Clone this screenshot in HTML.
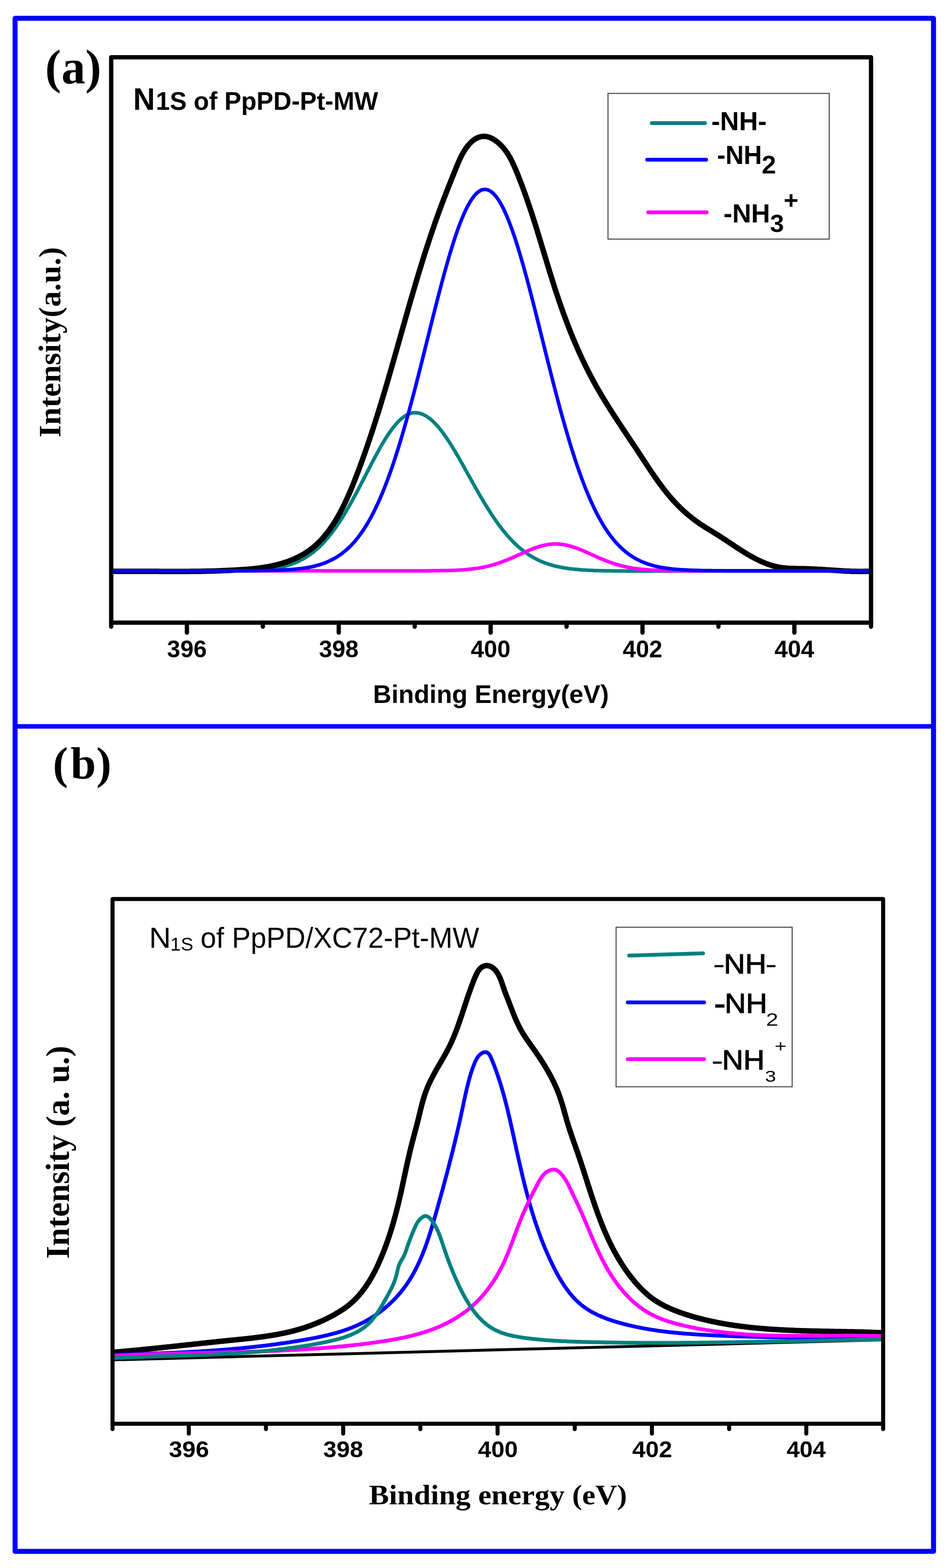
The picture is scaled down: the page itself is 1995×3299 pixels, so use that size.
<!DOCTYPE html>
<html><head><meta charset="utf-8"><title>N1s XPS spectra</title>
<style>html,body{margin:0;padding:0;background:#fff;}svg{display:block;}</style>
</head><body>
<svg xmlns="http://www.w3.org/2000/svg" width="1995" height="3299" viewBox="0 0 1995 3299">
<rect x="0" y="0" width="1995" height="3299" fill="#fff"/>
<defs><clipPath id="ca"><rect x="234.0" y="120.5" width="1599.0" height="1189.5"/></clipPath><clipPath id="cb"><rect x="236.8" y="1891.5" width="1621.7" height="1104.1"/></clipPath></defs>
<g clip-path="url(#ca)">
<path d="M234.0,1201.5 L236.0,1201.5 L238.0,1201.5 L240.0,1201.5 L242.0,1201.5 L244.0,1201.5 L246.0,1201.5 L248.0,1201.5 L250.0,1201.5 L252.0,1201.5 L254.0,1201.5 L256.0,1201.5 L258.0,1201.5 L260.0,1201.5 L262.0,1201.5 L264.0,1201.5 L266.0,1201.5 L268.0,1201.5 L270.0,1201.5 L272.0,1201.5 L274.0,1201.5 L276.0,1201.5 L278.0,1201.5 L280.0,1201.5 L282.0,1201.5 L284.0,1201.5 L286.0,1201.5 L288.0,1201.5 L290.0,1201.5 L292.0,1201.5 L294.0,1201.5 L296.0,1201.5 L298.0,1201.5 L300.0,1201.5 L302.0,1201.5 L304.0,1201.5 L306.0,1201.5 L308.0,1201.5 L310.0,1201.5 L312.0,1201.5 L314.0,1201.5 L316.0,1201.5 L318.0,1201.5 L320.0,1201.5 L322.0,1201.5 L324.0,1201.5 L326.0,1201.5 L328.0,1201.5 L330.0,1201.5 L332.0,1201.5 L334.0,1201.5 L336.0,1201.5 L338.0,1201.5 L340.0,1201.5 L342.0,1201.5 L344.0,1201.5 L346.0,1201.5 L348.0,1201.5 L350.0,1201.5 L352.0,1201.5 L354.0,1201.5 L356.0,1201.5 L358.0,1201.5 L360.0,1201.5 L362.0,1201.5 L364.0,1201.5 L366.0,1201.5 L368.0,1201.5 L370.0,1201.5 L372.0,1201.5 L374.0,1201.5 L376.0,1201.5 L378.0,1201.5 L380.0,1201.5 L382.0,1201.5 L384.0,1201.5 L386.0,1201.5 L388.0,1201.5 L390.0,1201.5 L392.0,1201.5 L394.0,1201.5 L396.0,1201.5 L398.0,1201.5 L400.0,1201.5 L402.0,1201.5 L404.0,1201.5 L406.0,1201.5 L408.0,1201.5 L410.0,1201.5 L412.0,1201.5 L414.0,1201.5 L416.0,1201.5 L418.0,1201.5 L420.0,1201.5 L422.0,1201.5 L424.0,1201.5 L426.0,1201.5 L428.0,1201.5 L430.0,1201.5 L432.0,1201.5 L434.0,1201.5 L436.0,1201.5 L438.0,1201.4 L440.0,1201.4 L442.0,1201.4 L444.0,1201.4 L446.0,1201.4 L448.0,1201.4 L450.0,1201.4 L452.0,1201.4 L454.0,1201.4 L456.0,1201.4 L458.0,1201.4 L460.0,1201.4 L462.0,1201.4 L464.0,1201.4 L466.0,1201.3 L468.0,1201.3 L470.0,1201.3 L472.0,1201.3 L474.0,1201.3 L476.0,1201.3 L478.0,1201.3 L480.0,1201.2 L482.0,1201.2 L484.0,1201.2 L486.0,1201.2 L488.0,1201.2 L490.0,1201.1 L492.0,1201.1 L494.0,1201.1 L496.0,1201.0 L498.0,1201.0 L500.0,1201.0 L502.0,1200.9 L504.0,1200.9 L506.0,1200.9 L508.0,1200.8 L510.0,1200.8 L512.0,1200.7 L514.0,1200.7 L516.0,1200.6 L518.0,1200.5 L520.0,1200.5 L522.0,1200.4 L524.0,1200.3 L526.0,1200.2 L528.0,1200.2 L530.0,1200.1 L532.0,1200.0 L534.0,1199.9 L536.0,1199.8 L538.0,1199.7 L540.0,1199.6 L542.0,1199.4 L544.0,1199.3 L546.0,1199.2 L548.0,1199.0 L550.0,1198.9 L552.0,1198.7 L554.0,1198.5 L556.0,1198.4 L558.0,1198.2 L560.0,1198.0 L562.0,1197.8 L564.0,1197.5 L566.0,1197.3 L568.0,1197.1 L570.0,1196.8 L572.0,1196.5 L574.0,1196.2 L576.0,1195.9 L578.0,1195.6 L580.0,1195.3 L582.0,1195.0 L584.0,1194.6 L586.0,1194.2 L588.0,1193.8 L590.0,1193.4 L592.0,1193.0 L594.0,1192.5 L596.0,1192.0 L598.0,1191.5 L600.0,1191.0 L602.0,1190.5 L604.0,1189.9 L606.0,1189.3 L608.0,1188.7 L610.0,1188.1 L612.0,1187.4 L614.0,1186.7 L616.0,1186.0 L618.0,1185.2 L620.0,1184.4 L622.0,1183.6 L624.0,1182.8 L626.0,1181.9 L628.0,1181.0 L630.0,1180.0 L632.0,1179.0 L634.0,1178.0 L636.0,1177.0 L638.0,1175.9 L640.0,1174.7 L642.0,1173.6 L644.0,1172.3 L646.0,1171.1 L648.0,1169.8 L650.0,1168.4 L652.0,1167.0 L654.0,1165.6 L656.0,1164.1 L658.0,1162.6 L660.0,1161.0 L662.0,1159.4 L664.0,1157.7 L666.0,1156.0 L668.0,1154.2 L670.0,1152.4 L672.0,1150.6 L674.0,1148.6 L676.0,1146.7 L678.0,1144.6 L680.0,1142.5 L682.0,1140.4 L684.0,1138.2 L686.0,1136.0 L688.0,1133.7 L690.0,1131.3 L692.0,1128.9 L694.0,1126.4 L696.0,1123.9 L698.0,1121.3 L700.0,1118.7 L702.0,1116.0 L704.0,1113.3 L706.0,1110.5 L708.0,1107.6 L710.0,1104.7 L712.0,1101.8 L714.0,1098.8 L716.0,1095.7 L718.0,1092.6 L720.0,1089.5 L722.0,1086.3 L724.0,1083.0 L726.0,1079.7 L728.0,1076.4 L730.0,1073.0 L732.0,1069.5 L734.0,1066.1 L736.0,1062.6 L738.0,1059.0 L740.0,1055.4 L742.0,1051.8 L744.0,1048.1 L746.0,1044.4 L748.0,1040.7 L750.0,1037.0 L752.0,1033.2 L754.0,1029.4 L756.0,1025.6 L758.0,1021.8 L760.0,1017.9 L762.0,1014.1 L764.0,1010.2 L766.0,1006.3 L768.0,1002.4 L770.0,998.5 L772.0,994.6 L774.0,990.8 L776.0,986.9 L778.0,983.0 L780.0,979.2 L782.0,975.3 L784.0,971.5 L786.0,967.7 L788.0,963.9 L790.0,960.2 L792.0,956.5 L794.0,952.8 L796.0,949.2 L798.0,945.6 L800.0,942.0 L802.0,938.5 L804.0,935.1 L806.0,931.7 L808.0,928.3 L810.0,925.1 L812.0,921.8 L814.0,918.7 L816.0,915.6 L818.0,912.6 L820.0,909.7 L822.0,906.8 L824.0,904.1 L826.0,901.4 L828.0,898.8 L830.0,896.3 L832.0,893.9 L834.0,891.6 L836.0,889.3 L838.0,887.2 L840.0,885.2 L842.0,883.3 L844.0,881.5 L846.0,879.8 L848.0,878.2 L850.0,876.8 L852.0,875.4 L854.0,874.2 L856.0,873.0 L858.0,872.0 L860.0,871.1 L862.0,870.4 L864.0,869.7 L866.0,869.2 L868.0,868.8 L870.0,868.5 L872.0,868.4 L874.0,868.3 L876.0,868.4 L878.0,868.6 L880.0,868.9 L882.0,869.3 L884.0,869.8 L886.0,870.4 L888.0,871.1 L890.0,871.9 L892.0,872.8 L894.0,873.8 L896.0,874.9 L898.0,876.2 L900.0,877.5 L902.0,878.9 L904.0,880.4 L906.0,882.0 L908.0,883.7 L910.0,885.5 L912.0,887.3 L914.0,889.3 L916.0,891.3 L918.0,893.5 L920.0,895.7 L922.0,898.0 L924.0,900.3 L926.0,902.8 L928.0,905.3 L930.0,907.9 L932.0,910.6 L934.0,913.3 L936.0,916.1 L938.0,919.0 L940.0,921.9 L942.0,924.9 L944.0,927.9 L946.0,931.0 L948.0,934.1 L950.0,937.3 L952.0,940.5 L954.0,943.8 L956.0,947.1 L958.0,950.4 L960.0,953.8 L962.0,957.2 L964.0,960.7 L966.0,964.1 L968.0,967.6 L970.0,971.2 L972.0,974.7 L974.0,978.2 L976.0,981.8 L978.0,985.4 L980.0,989.0 L982.0,992.6 L984.0,996.2 L986.0,999.8 L988.0,1003.4 L990.0,1006.9 L992.0,1010.5 L994.0,1014.1 L996.0,1017.7 L998.0,1021.3 L1000.0,1024.8 L1002.0,1028.4 L1004.0,1031.9 L1006.0,1035.4 L1008.0,1038.9 L1010.0,1042.3 L1012.0,1045.7 L1014.0,1049.2 L1016.0,1052.5 L1018.0,1055.9 L1020.0,1059.2 L1022.0,1062.5 L1024.0,1065.8 L1026.0,1069.0 L1028.0,1072.2 L1030.0,1075.3 L1032.0,1078.4 L1034.0,1081.5 L1036.0,1084.5 L1038.0,1087.5 L1040.0,1090.5 L1042.0,1093.4 L1044.0,1096.3 L1046.0,1099.1 L1048.0,1101.9 L1050.0,1104.6 L1052.0,1107.3 L1054.0,1109.9 L1056.0,1112.5 L1058.0,1115.1 L1060.0,1117.6 L1062.0,1120.0 L1064.0,1122.5 L1066.0,1124.8 L1068.0,1127.1 L1070.0,1129.4 L1072.0,1131.6 L1074.0,1133.8 L1076.0,1135.9 L1078.0,1138.0 L1080.0,1140.1 L1082.0,1142.0 L1084.0,1144.0 L1086.0,1145.9 L1088.0,1147.7 L1090.0,1149.5 L1092.0,1151.3 L1094.0,1153.0 L1096.0,1154.7 L1098.0,1156.3 L1100.0,1157.9 L1102.0,1159.5 L1104.0,1161.0 L1106.0,1162.4 L1108.0,1163.8 L1110.0,1165.2 L1112.0,1166.6 L1114.0,1167.9 L1116.0,1169.1 L1118.0,1170.4 L1120.0,1171.5 L1122.0,1172.7 L1124.0,1173.8 L1126.0,1174.9 L1128.0,1175.9 L1130.0,1177.0 L1132.0,1177.9 L1134.0,1178.9 L1136.0,1179.8 L1138.0,1180.7 L1140.0,1181.6 L1142.0,1182.4 L1144.0,1183.2 L1146.0,1184.0 L1148.0,1184.7 L1150.0,1185.4 L1152.0,1186.1 L1154.0,1186.8 L1156.0,1187.4 L1158.0,1188.0 L1160.0,1188.6 L1162.0,1189.2 L1164.0,1189.8 L1166.0,1190.3 L1168.0,1190.8 L1170.0,1191.3 L1172.0,1191.8 L1174.0,1192.2 L1176.0,1192.6 L1178.0,1193.1 L1180.0,1193.5 L1182.0,1193.8 L1184.0,1194.2 L1186.0,1194.6 L1188.0,1194.9 L1190.0,1195.2 L1192.0,1195.5 L1194.0,1195.8 L1196.0,1196.1 L1198.0,1196.4 L1200.0,1196.6 L1202.0,1196.9 L1204.0,1197.1 L1206.0,1197.3 L1208.0,1197.6 L1210.0,1197.8 L1212.0,1198.0 L1214.0,1198.1 L1216.0,1198.3 L1218.0,1198.5 L1220.0,1198.6 L1222.0,1198.8 L1224.0,1198.9 L1226.0,1199.1 L1228.0,1199.2 L1230.0,1199.3 L1232.0,1199.5 L1234.0,1199.6 L1236.0,1199.7 L1238.0,1199.8 L1240.0,1199.9 L1242.0,1200.0 L1244.0,1200.1 L1246.0,1200.1 L1248.0,1200.2 L1250.0,1200.3 L1252.0,1200.4 L1254.0,1200.4 L1256.0,1200.5 L1258.0,1200.6 L1260.0,1200.6 L1262.0,1200.7 L1264.0,1200.7 L1266.0,1200.8 L1268.0,1200.8 L1270.0,1200.8 L1272.0,1200.9 L1274.0,1200.9 L1276.0,1201.0 L1278.0,1201.0 L1280.0,1201.0 L1282.0,1201.1 L1284.0,1201.1 L1286.0,1201.1 L1288.0,1201.1 L1290.0,1201.2 L1292.0,1201.2 L1294.0,1201.2 L1296.0,1201.2 L1298.0,1201.2 L1300.0,1201.3 L1302.0,1201.3 L1304.0,1201.3 L1306.0,1201.3 L1308.0,1201.3 L1310.0,1201.3 L1312.0,1201.3 L1314.0,1201.3 L1316.0,1201.4 L1318.0,1201.4 L1320.0,1201.4 L1322.0,1201.4 L1324.0,1201.4 L1326.0,1201.4 L1328.0,1201.4 L1330.0,1201.4 L1332.0,1201.4 L1334.0,1201.4 L1336.0,1201.4 L1338.0,1201.4 L1340.0,1201.4 L1342.0,1201.4 L1344.0,1201.4 L1346.0,1201.5 L1348.0,1201.5 L1350.0,1201.5 L1352.0,1201.5 L1354.0,1201.5 L1356.0,1201.5 L1358.0,1201.5 L1360.0,1201.5 L1362.0,1201.5 L1364.0,1201.5 L1366.0,1201.5 L1368.0,1201.5 L1370.0,1201.5 L1372.0,1201.5 L1374.0,1201.5 L1376.0,1201.5 L1378.0,1201.5 L1380.0,1201.5 L1382.0,1201.5 L1384.0,1201.5 L1386.0,1201.5 L1388.0,1201.5 L1390.0,1201.5 L1392.0,1201.5 L1394.0,1201.5 L1396.0,1201.5 L1398.0,1201.5 L1400.0,1201.5 L1402.0,1201.5 L1404.0,1201.5 L1406.0,1201.5 L1408.0,1201.5 L1410.0,1201.5 L1412.0,1201.5 L1414.0,1201.5 L1416.0,1201.5 L1418.0,1201.5 L1420.0,1201.5 L1422.0,1201.5 L1424.0,1201.5 L1426.0,1201.5 L1428.0,1201.5 L1430.0,1201.5 L1432.0,1201.5 L1434.0,1201.5 L1436.0,1201.5 L1438.0,1201.5 L1440.0,1201.5 L1442.0,1201.5 L1444.0,1201.5 L1446.0,1201.5 L1448.0,1201.5 L1450.0,1201.5 L1452.0,1201.5 L1454.0,1201.5 L1456.0,1201.5 L1458.0,1201.5 L1460.0,1201.5 L1462.0,1201.5 L1464.0,1201.5 L1466.0,1201.5 L1468.0,1201.5 L1470.0,1201.5 L1472.0,1201.5 L1474.0,1201.5 L1476.0,1201.5 L1478.0,1201.5 L1480.0,1201.5 L1482.0,1201.5 L1484.0,1201.5 L1486.0,1201.5 L1488.0,1201.5 L1490.0,1201.5 L1492.0,1201.5 L1494.0,1201.5 L1496.0,1201.5 L1498.0,1201.5 L1500.0,1201.5 L1502.0,1201.5 L1504.0,1201.5 L1506.0,1201.5 L1508.0,1201.5 L1510.0,1201.5 L1512.0,1201.5 L1514.0,1201.5 L1516.0,1201.5 L1518.0,1201.5 L1520.0,1201.5 L1522.0,1201.5 L1524.0,1201.5 L1526.0,1201.5 L1528.0,1201.5 L1530.0,1201.5 L1532.0,1201.5 L1534.0,1201.5 L1536.0,1201.5 L1538.0,1201.5 L1540.0,1201.5 L1542.0,1201.5 L1544.0,1201.5 L1546.0,1201.5 L1548.0,1201.5 L1550.0,1201.5 L1552.0,1201.5 L1554.0,1201.5 L1556.0,1201.5 L1558.0,1201.5 L1560.0,1201.5 L1562.0,1201.5 L1564.0,1201.5 L1566.0,1201.5 L1568.0,1201.5 L1570.0,1201.5 L1572.0,1201.5 L1574.0,1201.5 L1576.0,1201.5 L1578.0,1201.5 L1580.0,1201.5 L1582.0,1201.5 L1584.0,1201.5 L1586.0,1201.5 L1588.0,1201.5 L1590.0,1201.5 L1592.0,1201.5 L1594.0,1201.5 L1596.0,1201.5 L1598.0,1201.5 L1600.0,1201.5 L1602.0,1201.5 L1604.0,1201.5 L1606.0,1201.5 L1608.0,1201.5 L1610.0,1201.5 L1612.0,1201.5 L1614.0,1201.5 L1616.0,1201.5 L1618.0,1201.5 L1620.0,1201.5 L1622.0,1201.5 L1624.0,1201.5 L1626.0,1201.5 L1628.0,1201.5 L1630.0,1201.5 L1632.0,1201.5 L1634.0,1201.5 L1636.0,1201.5 L1638.0,1201.5 L1640.0,1201.5 L1642.0,1201.5 L1644.0,1201.5 L1646.0,1201.5 L1648.0,1201.5 L1650.0,1201.5 L1652.0,1201.5 L1654.0,1201.5 L1656.0,1201.5 L1658.0,1201.5 L1660.0,1201.5 L1662.0,1201.5 L1664.0,1201.5 L1666.0,1201.5 L1668.0,1201.5 L1670.0,1201.5 L1672.0,1201.5 L1674.0,1201.5 L1676.0,1201.5 L1678.0,1201.5 L1680.0,1201.5 L1682.0,1201.5 L1684.0,1201.5 L1686.0,1201.5 L1688.0,1201.5 L1690.0,1201.5 L1692.0,1201.5 L1694.0,1201.5 L1696.0,1201.5 L1698.0,1201.5 L1700.0,1201.5 L1702.0,1201.5 L1704.0,1201.5 L1706.0,1201.5 L1708.0,1201.5 L1710.0,1201.5 L1712.0,1201.5 L1714.0,1201.5 L1716.0,1201.5 L1718.0,1201.5 L1720.0,1201.5 L1722.0,1201.5 L1724.0,1201.5 L1726.0,1201.5 L1728.0,1201.5 L1730.0,1201.5 L1732.0,1201.5 L1734.0,1201.5 L1736.0,1201.5 L1738.0,1201.5 L1740.0,1201.5 L1742.0,1201.5 L1744.0,1201.5 L1746.0,1201.5 L1748.0,1201.5 L1750.0,1201.5 L1752.0,1201.5 L1754.0,1201.5 L1756.0,1201.5 L1758.0,1201.5 L1760.0,1201.5 L1762.0,1201.5 L1764.0,1201.5 L1766.0,1201.5 L1768.0,1201.5 L1770.0,1201.5 L1772.0,1201.5 L1774.0,1201.5 L1776.0,1201.5 L1778.0,1201.5 L1780.0,1201.5 L1782.0,1201.5 L1784.0,1201.5 L1786.0,1201.5 L1788.0,1201.5 L1790.0,1201.5 L1792.0,1201.5 L1794.0,1201.5 L1796.0,1201.5 L1798.0,1201.5 L1800.0,1201.5 L1802.0,1201.5 L1804.0,1201.5 L1806.0,1201.5 L1808.0,1201.5 L1810.0,1201.5 L1812.0,1201.5 L1814.0,1201.5 L1816.0,1201.5 L1818.0,1201.5 L1820.0,1201.5 L1822.0,1201.5 L1824.0,1201.5 L1826.0,1201.5 L1828.0,1201.5 L1830.0,1201.5 L1832.0,1201.5" fill="none" stroke="#008080" stroke-width="7.5" stroke-linejoin="round" stroke-linecap="round"/>
<path d="M229.9,1202.0 L232.0,1202.0 L234.0,1202.0 L236.0,1202.0 L238.0,1201.9 L240.0,1201.9 L242.0,1201.9 L244.0,1201.9 L246.0,1201.9 L248.0,1201.9 L250.0,1201.9 L252.0,1201.9 L254.0,1201.9 L256.0,1201.9 L258.0,1201.9 L260.1,1201.9 L262.1,1201.9 L264.1,1201.9 L266.1,1201.9 L268.1,1201.9 L270.1,1201.9 L272.1,1201.9 L274.1,1201.9 L276.1,1201.9 L278.1,1201.9 L280.1,1201.9 L282.1,1201.9 L284.1,1201.9 L286.1,1201.9 L288.1,1201.9 L290.1,1201.9 L292.1,1201.9 L294.1,1201.9 L296.1,1201.9 L298.1,1202.0 L300.1,1202.0 L302.1,1202.0 L304.1,1202.0 L306.1,1202.0 L308.1,1202.0 L310.1,1202.0 L312.1,1202.0 L314.1,1202.0 L316.1,1202.0 L318.1,1202.1 L320.1,1202.1 L322.1,1202.1 L324.1,1202.1 L326.1,1202.1 L328.1,1202.1 L330.1,1202.1 L332.1,1202.1 L334.1,1202.1 L336.1,1202.2 L338.1,1202.2 L340.0,1202.2 L342.0,1202.2 L344.0,1202.2 L346.0,1202.2 L348.0,1202.2 L350.0,1202.2 L352.0,1202.2 L354.0,1202.2 L356.0,1202.2 L358.0,1202.2 L360.0,1202.2 L362.0,1202.2 L364.0,1202.2 L366.0,1202.2 L368.0,1202.2 L370.0,1202.2 L372.0,1202.2 L374.0,1202.2 L376.0,1202.2 L378.0,1202.2 L380.0,1202.2 L382.0,1202.2 L384.0,1202.2 L386.0,1202.2 L388.0,1202.2 L389.9,1202.2 L391.9,1202.2 L393.9,1202.2 L395.9,1202.2 L397.9,1202.2 L399.9,1202.1 L401.9,1202.1 L403.9,1202.1 L405.9,1202.1 L407.9,1202.1 L409.9,1202.0 L411.9,1202.0 L413.9,1202.0 L415.9,1202.0 L417.9,1201.9 L419.9,1201.9 L421.9,1201.9 L423.9,1201.9 L425.9,1201.8 L427.9,1201.8 L429.9,1201.7 L431.9,1201.7 L433.9,1201.7 L435.9,1201.6 L437.9,1201.6 L439.9,1201.5 L441.9,1201.5 L443.9,1201.4 L445.9,1201.4 L447.9,1201.3 L449.9,1201.3 L451.9,1201.2 L453.9,1201.2 L455.9,1201.1 L457.9,1201.0 L459.9,1201.0 L461.9,1200.9 L463.9,1200.8 L465.9,1200.7 L467.9,1200.7 L469.9,1200.6 L471.9,1200.5 L473.9,1200.4 L475.9,1200.3 L477.9,1200.3 L479.9,1200.2 L481.9,1200.1 L483.9,1200.0 L485.9,1199.9 L487.9,1199.8 L489.9,1199.7 L491.9,1199.6 L493.9,1199.5 L495.9,1199.3 L497.9,1199.2 L499.9,1199.1 L501.9,1199.0 L503.9,1198.9 L505.9,1198.7 L507.9,1198.6 L509.9,1198.5 L511.9,1198.3 L513.9,1198.2 L516.0,1198.0 L518.0,1197.9 L520.0,1197.7 L522.0,1197.6 L524.0,1197.4 L526.0,1197.2 L528.0,1197.0 L530.0,1196.9 L532.0,1196.7 L534.0,1196.5 L536.0,1196.2 L538.0,1196.0 L539.9,1195.8 L541.9,1195.6 L543.9,1195.3 L545.9,1195.1 L547.9,1194.8 L549.9,1194.5 L551.9,1194.2 L553.9,1193.9 L555.8,1193.6 L557.8,1193.3 L559.8,1193.0 L561.7,1192.7 L563.7,1192.3 L565.7,1191.9 L567.6,1191.6 L569.6,1191.2 L571.6,1190.8 L573.5,1190.4 L575.5,1189.9 L577.4,1189.5 L579.4,1189.1 L581.3,1188.6 L583.2,1188.1 L585.2,1187.6 L587.1,1187.1 L589.0,1186.6 L590.9,1186.0 L592.9,1185.5 L594.8,1184.9 L596.7,1184.3 L598.6,1183.7 L600.5,1183.1 L602.4,1182.4 L604.3,1181.8 L606.1,1181.1 L608.0,1180.4 L609.9,1179.7 L611.7,1179.0 L613.6,1178.2 L615.4,1177.5 L617.3,1176.7 L619.1,1175.9 L620.9,1175.1 L622.7,1174.3 L624.5,1173.4 L626.3,1172.5 L628.1,1171.7 L629.9,1170.8 L631.6,1169.8 L633.4,1168.9 L635.1,1167.9 L636.8,1167.0 L638.6,1166.0 L640.3,1164.9 L642.0,1163.9 L643.6,1162.9 L645.3,1161.8 L646.9,1160.7 L648.6,1159.6 L650.2,1158.4 L651.8,1157.3 L653.4,1156.1 L655.0,1154.9 L656.6,1153.7 L658.1,1152.5 L659.6,1151.2 L661.1,1150.0 L662.6,1148.7 L664.1,1147.4 L665.6,1146.0 L667.1,1144.7 L668.5,1143.3 L669.9,1142.0 L671.4,1140.6 L672.7,1139.2 L674.1,1137.7 L675.5,1136.3 L676.9,1134.8 L678.2,1133.3 L679.5,1131.9 L680.9,1130.3 L682.2,1128.8 L683.4,1127.3 L684.7,1125.7 L686.0,1124.2 L687.2,1122.6 L688.5,1121.0 L689.7,1119.4 L690.9,1117.8 L692.1,1116.2 L693.3,1114.6 L694.5,1112.9 L695.7,1111.3 L696.8,1109.6 L697.9,1107.9 L699.1,1106.3 L700.2,1104.6 L701.3,1102.9 L702.4,1101.2 L703.5,1099.5 L704.6,1097.7 L705.6,1096.0 L706.7,1094.3 L707.7,1092.5 L708.8,1090.8 L709.8,1089.0 L710.8,1087.3 L711.8,1085.5 L712.8,1083.7 L713.8,1081.9 L714.8,1080.2 L715.7,1078.4 L716.7,1076.6 L717.6,1074.8 L718.6,1073.0 L719.5,1071.2 L720.4,1069.4 L721.3,1067.6 L722.2,1065.8 L723.1,1064.0 L724.0,1062.2 L724.9,1060.4 L725.8,1058.6 L726.6,1056.8 L727.5,1055.0 L728.3,1053.2 L729.2,1051.3 L730.0,1049.5 L730.8,1047.7 L731.7,1045.9 L732.5,1044.1 L733.3,1042.2 L734.1,1040.4 L734.9,1038.6 L735.7,1036.7 L736.5,1034.9 L737.2,1033.1 L738.0,1031.3 L738.8,1029.4 L739.6,1027.6 L740.3,1025.7 L741.1,1023.9 L741.8,1022.1 L742.6,1020.2 L743.3,1018.4 L744.1,1016.5 L744.8,1014.7 L745.5,1012.8 L746.3,1011.0 L747.0,1009.1 L747.7,1007.3 L748.4,1005.4 L749.1,1003.6 L749.9,1001.7 L750.6,999.9 L751.3,998.0 L752.0,996.1 L752.7,994.3 L753.4,992.4 L754.1,990.6 L754.8,988.7 L755.5,986.8 L756.2,985.0 L756.9,983.1 L757.6,981.2 L758.3,979.4 L759.0,977.5 L759.6,975.6 L760.3,973.8 L761.0,971.9 L761.7,970.0 L762.4,968.1 L763.0,966.3 L763.7,964.4 L764.4,962.5 L765.1,960.6 L765.7,958.8 L766.4,956.9 L767.1,955.0 L767.7,953.1 L768.4,951.2 L769.0,949.4 L769.7,947.5 L770.4,945.6 L771.0,943.7 L771.7,941.8 L772.3,939.9 L773.0,938.1 L773.6,936.2 L774.3,934.3 L774.9,932.4 L775.5,930.5 L776.2,928.6 L776.8,926.7 L777.5,924.8 L778.1,922.9 L778.7,921.0 L779.4,919.2 L780.0,917.3 L780.6,915.4 L781.2,913.5 L781.9,911.6 L782.5,909.7 L783.1,907.8 L783.7,905.9 L784.4,904.0 L785.0,902.1 L785.6,900.2 L786.2,898.3 L786.8,896.4 L787.4,894.5 L788.1,892.6 L788.7,890.7 L789.3,888.8 L789.9,886.9 L790.5,884.9 L791.1,883.0 L791.7,881.1 L792.3,879.2 L792.9,877.3 L793.5,875.4 L794.1,873.5 L794.7,871.6 L795.3,869.7 L795.9,867.8 L796.5,865.9 L797.1,864.0 L797.7,862.0 L798.3,860.1 L798.8,858.2 L799.4,856.3 L800.0,854.4 L800.6,852.5 L801.2,850.6 L801.8,848.6 L802.4,846.7 L802.9,844.8 L803.5,842.9 L804.1,841.0 L804.7,839.1 L805.3,837.2 L805.8,835.2 L806.4,833.3 L807.0,831.4 L807.6,829.5 L808.1,827.6 L808.7,825.6 L809.3,823.7 L809.9,821.8 L810.4,819.9 L811.0,818.0 L811.6,816.0 L812.1,814.1 L812.7,812.2 L813.3,810.3 L813.8,808.4 L814.4,806.4 L815.0,804.5 L815.5,802.6 L816.1,800.7 L816.6,798.8 L817.2,796.8 L817.8,794.9 L818.3,793.0 L818.9,791.1 L819.4,789.1 L820.0,787.2 L820.5,785.3 L821.1,783.4 L821.7,781.4 L822.2,779.5 L822.8,777.6 L823.3,775.7 L823.9,773.7 L824.4,771.8 L825.0,769.9 L825.5,768.0 L826.1,766.0 L826.6,764.1 L827.2,762.2 L827.7,760.3 L828.3,758.3 L828.8,756.4 L829.4,754.5 L829.9,752.6 L830.5,750.6 L831.0,748.7 L831.6,746.8 L832.1,744.9 L832.7,742.9 L833.2,741.0 L833.8,739.1 L834.3,737.2 L834.9,735.2 L835.4,733.3 L836.0,731.4 L836.5,729.4 L837.0,727.5 L837.6,725.6 L838.1,723.7 L838.7,721.7 L839.2,719.8 L839.8,717.9 L840.3,716.0 L840.9,714.0 L841.4,712.1 L842.0,710.2 L842.5,708.3 L843.0,706.3 L843.6,704.4 L844.1,702.5 L844.7,700.6 L845.2,698.6 L845.8,696.7 L846.3,694.8 L846.9,692.8 L847.4,690.9 L847.9,689.0 L848.5,687.1 L849.0,685.1 L849.6,683.2 L850.1,681.3 L850.7,679.4 L851.2,677.4 L851.8,675.5 L852.3,673.6 L852.9,671.7 L853.4,669.7 L854.0,667.8 L854.5,665.9 L855.1,664.0 L855.6,662.0 L856.2,660.1 L856.7,658.2 L857.3,656.3 L857.8,654.4 L858.4,652.4 L858.9,650.5 L859.5,648.6 L860.0,646.7 L860.6,644.7 L861.1,642.8 L861.7,640.9 L862.2,639.0 L862.8,637.0 L863.3,635.1 L863.9,633.2 L864.4,631.3 L865.0,629.4 L865.6,627.4 L866.1,625.5 L866.7,623.6 L867.2,621.7 L867.8,619.8 L868.4,617.8 L868.9,615.9 L869.5,614.0 L870.0,612.1 L870.6,610.2 L871.2,608.3 L871.7,606.3 L872.3,604.4 L872.9,602.5 L873.4,600.6 L874.0,598.7 L874.6,596.7 L875.1,594.8 L875.7,592.9 L876.3,591.0 L876.9,589.1 L877.4,587.2 L878.0,585.3 L878.6,583.3 L879.2,581.4 L879.7,579.5 L880.3,577.6 L880.9,575.7 L881.5,573.8 L882.1,571.9 L882.6,570.0 L883.2,568.0 L883.8,566.1 L884.4,564.2 L885.0,562.3 L885.6,560.4 L886.2,558.5 L886.7,556.6 L887.3,554.7 L887.9,552.8 L888.5,550.9 L889.1,549.0 L889.7,547.1 L890.3,545.1 L890.9,543.2 L891.5,541.3 L892.1,539.4 L892.7,537.5 L893.3,535.6 L893.9,533.7 L894.5,531.8 L895.1,529.9 L895.7,528.0 L896.3,526.1 L897.0,524.2 L897.6,522.3 L898.2,520.4 L898.8,518.5 L899.4,516.6 L900.0,514.7 L900.7,512.8 L901.3,510.9 L901.9,509.0 L902.5,507.1 L903.2,505.2 L903.8,503.3 L904.4,501.5 L905.0,499.6 L905.7,497.7 L906.3,495.8 L906.9,493.9 L907.6,492.0 L908.2,490.1 L908.9,488.2 L909.5,486.3 L910.1,484.4 L910.8,482.5 L911.4,480.7 L912.1,478.8 L912.7,476.9 L913.4,475.0 L914.0,473.1 L914.7,471.2 L915.4,469.3 L916.0,467.5 L916.7,465.6 L917.3,463.7 L918.0,461.8 L918.7,459.9 L919.4,458.1 L920.0,456.2 L920.7,454.3 L921.4,452.4 L922.0,450.5 L922.7,448.7 L923.4,446.8 L924.1,444.9 L924.8,443.0 L925.5,441.2 L926.2,439.3 L926.8,437.4 L927.5,435.6 L928.2,433.7 L928.9,431.8 L929.6,429.9 L930.3,428.1 L931.0,426.2 L931.7,424.3 L932.5,422.5 L933.2,420.6 L933.9,418.7 L934.6,416.9 L935.3,415.0 L936.0,413.2 L936.7,411.3 L937.5,409.4 L938.2,407.6 L938.9,405.7 L939.6,403.9 L940.4,402.0 L941.1,400.1 L941.8,398.3 L942.6,396.4 L943.3,394.6 L944.1,392.7 L944.8,390.8 L945.5,389.0 L946.3,387.1 L947.0,385.3 L947.8,383.4 L948.5,381.5 L949.3,379.7 L950.0,377.8 L950.7,375.9 L951.5,374.1 L952.2,372.2 L953.0,370.3 L953.7,368.5 L954.5,366.6 L955.3,364.7 L956.0,362.9 L956.8,361.0 L957.5,359.1 L958.3,357.3 L959.0,355.4 L959.8,353.5 L960.5,351.6 L961.3,349.8 L962.1,347.9 L962.8,346.0 L963.6,344.2 L964.4,342.3 L965.2,340.4 L966.0,338.6 L966.8,336.7 L967.7,334.9 L968.5,333.1 L969.4,331.2 L970.3,329.4 L971.2,327.6 L972.2,325.8 L973.1,324.0 L974.1,322.2 L975.1,320.5 L976.2,318.7 L977.2,317.0 L978.3,315.3 L979.5,313.6 L980.6,311.9 L981.8,310.2 L983.1,308.6 L984.3,306.9 L985.6,305.3 L987.0,303.8 L988.4,302.2 L989.8,300.8 L991.2,299.3 L992.7,297.9 L994.3,296.6 L995.8,295.4 L997.4,294.2 L999.0,293.1 L1000.7,292.0 L1002.4,291.1 L1004.1,290.2 L1005.9,289.4 L1007.6,288.8 L1009.4,288.2 L1011.2,287.7 L1013.0,287.3 L1014.8,287.1 L1016.7,286.9 L1018.5,286.8 L1020.3,286.9 L1022.2,287.1 L1024.0,287.4 L1025.8,287.7 L1027.7,288.2 L1029.5,288.8 L1031.3,289.5 L1033.1,290.3 L1034.8,291.1 L1036.6,292.0 L1038.3,293.0 L1040.0,294.0 L1041.7,295.1 L1043.4,296.3 L1045.0,297.5 L1046.6,298.7 L1048.1,300.0 L1049.7,301.3 L1051.2,302.6 L1052.6,304.0 L1054.0,305.4 L1055.4,306.8 L1056.8,308.3 L1058.1,309.7 L1059.4,311.2 L1060.6,312.8 L1061.9,314.3 L1063.1,315.9 L1064.2,317.5 L1065.4,319.1 L1066.5,320.7 L1067.6,322.4 L1068.7,324.0 L1069.8,325.7 L1070.8,327.4 L1071.8,329.2 L1072.8,330.9 L1073.8,332.6 L1074.7,334.4 L1075.7,336.2 L1076.6,338.0 L1077.5,339.8 L1078.4,341.6 L1079.2,343.4 L1080.1,345.3 L1081.0,347.1 L1081.8,349.0 L1082.6,350.8 L1083.4,352.7 L1084.2,354.6 L1085.0,356.4 L1085.8,358.3 L1086.6,360.2 L1087.4,362.1 L1088.2,364.0 L1088.9,365.9 L1089.7,367.7 L1090.4,369.6 L1091.2,371.5 L1091.9,373.4 L1092.7,375.3 L1093.4,377.2 L1094.2,379.1 L1094.9,381.0 L1095.6,382.9 L1096.4,384.8 L1097.1,386.6 L1097.8,388.5 L1098.5,390.4 L1099.2,392.3 L1099.9,394.2 L1100.6,396.1 L1101.3,398.0 L1102.0,399.9 L1102.7,401.8 L1103.4,403.7 L1104.1,405.6 L1104.8,407.5 L1105.5,409.4 L1106.1,411.3 L1106.8,413.2 L1107.5,415.1 L1108.1,417.0 L1108.8,418.9 L1109.5,420.8 L1110.1,422.7 L1110.8,424.6 L1111.4,426.5 L1112.1,428.4 L1112.7,430.3 L1113.4,432.2 L1114.0,434.1 L1114.7,436.0 L1115.3,437.9 L1115.9,439.8 L1116.6,441.7 L1117.2,443.6 L1117.8,445.5 L1118.5,447.4 L1119.1,449.3 L1119.7,451.2 L1120.3,453.1 L1120.9,455.0 L1121.5,456.9 L1122.2,458.8 L1122.8,460.7 L1123.4,462.6 L1124.0,464.5 L1124.6,466.4 L1125.2,468.3 L1125.8,470.2 L1126.4,472.1 L1127.0,474.0 L1127.6,476.0 L1128.2,477.9 L1128.8,479.8 L1129.4,481.7 L1130.0,483.6 L1130.6,485.5 L1131.1,487.4 L1131.7,489.3 L1132.3,491.2 L1132.9,493.1 L1133.5,495.0 L1134.1,496.9 L1134.7,498.8 L1135.2,500.7 L1135.8,502.6 L1136.4,504.6 L1137.0,506.5 L1137.6,508.4 L1138.1,510.3 L1138.7,512.2 L1139.3,514.1 L1139.9,516.0 L1140.5,517.9 L1141.0,519.8 L1141.6,521.7 L1142.2,523.6 L1142.8,525.5 L1143.3,527.4 L1143.9,529.3 L1144.5,531.3 L1145.1,533.2 L1145.6,535.1 L1146.2,537.0 L1146.8,538.9 L1147.4,540.8 L1147.9,542.7 L1148.5,544.6 L1149.1,546.5 L1149.7,548.4 L1150.2,550.3 L1150.8,552.2 L1151.4,554.1 L1152.0,556.0 L1152.6,557.9 L1153.1,559.8 L1153.7,561.7 L1154.3,563.6 L1154.9,565.5 L1155.5,567.4 L1156.1,569.4 L1156.6,571.3 L1157.2,573.2 L1157.8,575.1 L1158.4,577.0 L1159.0,578.9 L1159.6,580.8 L1160.2,582.7 L1160.8,584.6 L1161.4,586.5 L1162.0,588.4 L1162.6,590.3 L1163.2,592.2 L1163.8,594.1 L1164.4,596.0 L1165.0,597.9 L1165.6,599.8 L1166.2,601.7 L1166.8,603.6 L1167.4,605.5 L1168.0,607.4 L1168.6,609.3 L1169.2,611.1 L1169.9,613.0 L1170.5,614.9 L1171.1,616.8 L1171.7,618.7 L1172.4,620.6 L1173.0,622.5 L1173.6,624.4 L1174.2,626.3 L1174.9,628.2 L1175.5,630.1 L1176.2,632.0 L1176.8,633.9 L1177.5,635.8 L1178.1,637.7 L1178.8,639.5 L1179.4,641.4 L1180.1,643.3 L1180.7,645.2 L1181.4,647.1 L1182.1,649.0 L1182.7,650.9 L1183.4,652.7 L1184.1,654.6 L1184.8,656.5 L1185.4,658.4 L1186.1,660.3 L1186.8,662.2 L1187.5,664.0 L1188.2,665.9 L1188.9,667.8 L1189.6,669.7 L1190.3,671.5 L1191.0,673.4 L1191.7,675.3 L1192.4,677.2 L1193.1,679.0 L1193.8,680.9 L1194.5,682.8 L1195.2,684.7 L1196.0,686.5 L1196.7,688.4 L1197.4,690.3 L1198.2,692.1 L1198.9,694.0 L1199.6,695.8 L1200.4,697.7 L1201.1,699.6 L1201.9,701.4 L1202.6,703.3 L1203.4,705.1 L1204.1,707.0 L1204.9,708.8 L1205.6,710.7 L1206.4,712.6 L1207.2,714.4 L1208.0,716.2 L1208.7,718.1 L1209.5,719.9 L1210.3,721.8 L1211.1,723.6 L1211.9,725.5 L1212.7,727.3 L1213.5,729.1 L1214.3,731.0 L1215.1,732.8 L1215.9,734.6 L1216.7,736.5 L1217.5,738.3 L1218.3,740.1 L1219.2,742.0 L1220.0,743.8 L1220.8,745.6 L1221.6,747.4 L1222.5,749.2 L1223.3,751.1 L1224.2,752.9 L1225.0,754.7 L1225.9,756.5 L1226.7,758.3 L1227.6,760.1 L1228.5,761.9 L1229.3,763.7 L1230.2,765.5 L1231.1,767.3 L1231.9,769.1 L1232.8,770.9 L1233.7,772.7 L1234.6,774.5 L1235.5,776.3 L1236.4,778.1 L1237.3,779.9 L1238.2,781.7 L1239.1,783.4 L1240.0,785.2 L1240.9,787.0 L1241.9,788.8 L1242.8,790.5 L1243.7,792.3 L1244.7,794.1 L1245.6,795.8 L1246.5,797.6 L1247.5,799.4 L1248.4,801.1 L1249.4,802.9 L1250.3,804.6 L1251.3,806.4 L1252.3,808.1 L1253.3,809.9 L1254.2,811.6 L1255.2,813.4 L1256.2,815.1 L1257.2,816.8 L1258.2,818.6 L1259.2,820.3 L1260.2,822.0 L1261.2,823.7 L1262.2,825.5 L1263.2,827.2 L1264.2,828.9 L1265.2,830.6 L1266.2,832.4 L1267.3,834.1 L1268.3,835.8 L1269.3,837.5 L1270.4,839.2 L1271.4,840.9 L1272.4,842.6 L1273.5,844.3 L1274.5,846.0 L1275.6,847.7 L1276.6,849.4 L1277.7,851.1 L1278.7,852.8 L1279.8,854.5 L1280.9,856.2 L1281.9,857.9 L1283.0,859.6 L1284.1,861.3 L1285.1,862.9 L1286.2,864.6 L1287.3,866.3 L1288.4,868.0 L1289.4,869.7 L1290.5,871.4 L1291.6,873.0 L1292.7,874.7 L1293.8,876.4 L1294.9,878.1 L1296.0,879.7 L1297.1,881.4 L1298.2,883.1 L1299.2,884.8 L1300.3,886.4 L1301.4,888.1 L1302.5,889.8 L1303.6,891.4 L1304.7,893.1 L1305.8,894.8 L1307.0,896.4 L1308.1,898.1 L1309.2,899.8 L1310.3,901.4 L1311.4,903.1 L1312.5,904.8 L1313.6,906.4 L1314.7,908.1 L1315.8,909.8 L1316.9,911.4 L1318.0,913.1 L1319.1,914.7 L1320.3,916.4 L1321.4,918.1 L1322.5,919.7 L1323.6,921.4 L1324.7,923.0 L1325.8,924.7 L1326.9,926.4 L1328.0,928.0 L1329.1,929.7 L1330.3,931.4 L1331.4,933.0 L1332.5,934.7 L1333.6,936.3 L1334.7,938.0 L1335.8,939.7 L1336.9,941.3 L1338.0,943.0 L1339.1,944.7 L1340.2,946.3 L1341.3,948.0 L1342.4,949.6 L1343.5,951.3 L1344.6,953.0 L1345.7,954.6 L1346.8,956.3 L1347.9,958.0 L1349.0,959.6 L1350.1,961.3 L1351.2,963.0 L1352.3,964.7 L1353.4,966.3 L1354.5,968.0 L1355.6,969.7 L1356.7,971.3 L1357.8,973.0 L1358.9,974.7 L1360.0,976.3 L1361.1,978.0 L1362.2,979.7 L1363.3,981.3 L1364.4,983.0 L1365.5,984.7 L1366.6,986.3 L1367.7,988.0 L1368.8,989.6 L1369.9,991.3 L1371.0,992.9 L1372.1,994.6 L1373.3,996.2 L1374.4,997.9 L1375.5,999.5 L1376.7,1001.2 L1377.8,1002.8 L1378.9,1004.5 L1380.1,1006.1 L1381.2,1007.7 L1382.4,1009.4 L1383.5,1011.0 L1384.7,1012.6 L1385.9,1014.2 L1387.0,1015.9 L1388.2,1017.5 L1389.4,1019.1 L1390.6,1020.7 L1391.8,1022.3 L1393.0,1023.9 L1394.2,1025.5 L1395.4,1027.1 L1396.7,1028.7 L1397.9,1030.3 L1399.1,1031.9 L1400.4,1033.4 L1401.6,1035.0 L1402.9,1036.6 L1404.1,1038.1 L1405.4,1039.7 L1406.7,1041.2 L1408.0,1042.8 L1409.3,1044.3 L1410.6,1045.8 L1411.9,1047.4 L1413.2,1048.9 L1414.5,1050.4 L1415.9,1051.9 L1417.2,1053.4 L1418.6,1054.9 L1419.9,1056.3 L1421.3,1057.8 L1422.7,1059.3 L1424.1,1060.7 L1425.4,1062.1 L1426.8,1063.6 L1428.3,1065.0 L1429.7,1066.4 L1431.1,1067.8 L1432.5,1069.2 L1434.0,1070.6 L1435.4,1071.9 L1436.9,1073.3 L1438.3,1074.7 L1439.8,1076.0 L1441.3,1077.3 L1442.8,1078.6 L1444.3,1079.9 L1445.8,1081.2 L1447.3,1082.5 L1448.8,1083.8 L1450.4,1085.1 L1451.9,1086.3 L1453.5,1087.6 L1455.0,1088.8 L1456.6,1090.1 L1458.1,1091.3 L1459.7,1092.5 L1461.3,1093.7 L1462.9,1094.9 L1464.5,1096.1 L1466.1,1097.2 L1467.7,1098.4 L1469.4,1099.5 L1471.0,1100.7 L1472.6,1101.8 L1474.3,1102.9 L1475.9,1104.0 L1477.6,1105.1 L1479.3,1106.2 L1481.0,1107.3 L1482.6,1108.4 L1484.3,1109.5 L1486.0,1110.5 L1487.7,1111.6 L1489.4,1112.6 L1491.1,1113.7 L1492.8,1114.7 L1494.5,1115.8 L1496.3,1116.8 L1498.0,1117.9 L1499.7,1118.9 L1501.4,1120.0 L1503.1,1121.0 L1504.8,1122.1 L1506.5,1123.1 L1508.2,1124.2 L1509.9,1125.2 L1511.6,1126.3 L1513.3,1127.4 L1515.0,1128.5 L1516.7,1129.6 L1518.4,1130.6 L1520.0,1131.7 L1521.7,1132.8 L1523.4,1133.9 L1525.1,1135.0 L1526.7,1136.1 L1528.4,1137.3 L1530.1,1138.4 L1531.7,1139.5 L1533.4,1140.6 L1535.1,1141.7 L1536.7,1142.8 L1538.4,1143.9 L1540.1,1145.0 L1541.7,1146.1 L1543.4,1147.2 L1545.1,1148.3 L1546.7,1149.5 L1548.4,1150.6 L1550.1,1151.7 L1551.8,1152.7 L1553.4,1153.8 L1555.1,1154.9 L1556.8,1156.0 L1558.5,1157.1 L1560.2,1158.2 L1561.9,1159.2 L1563.5,1160.3 L1565.2,1161.3 L1566.9,1162.4 L1568.6,1163.4 L1570.4,1164.5 L1572.1,1165.5 L1573.8,1166.5 L1575.5,1167.5 L1577.2,1168.5 L1579.0,1169.5 L1580.7,1170.5 L1582.5,1171.5 L1584.2,1172.4 L1586.0,1173.4 L1587.7,1174.3 L1589.5,1175.3 L1591.3,1176.2 L1593.1,1177.1 L1594.9,1178.0 L1596.7,1178.8 L1598.5,1179.7 L1600.3,1180.6 L1602.1,1181.4 L1603.9,1182.2 L1605.8,1183.0 L1607.6,1183.8 L1609.4,1184.5 L1611.3,1185.3 L1613.2,1186.0 L1615.0,1186.7 L1616.9,1187.4 L1618.8,1188.0 L1620.7,1188.6 L1622.6,1189.2 L1624.5,1189.8 L1626.4,1190.4 L1628.3,1190.9 L1630.2,1191.4 L1632.1,1191.9 L1634.1,1192.3 L1636.0,1192.7 L1637.9,1193.1 L1639.9,1193.5 L1641.8,1193.8 L1643.8,1194.1 L1645.8,1194.4 L1647.7,1194.6 L1649.7,1194.8 L1651.7,1195.1 L1653.7,1195.2 L1655.7,1195.4 L1657.7,1195.6 L1659.7,1195.7 L1661.7,1195.8 L1663.7,1195.9 L1665.7,1196.0 L1667.7,1196.1 L1669.7,1196.1 L1671.7,1196.2 L1673.7,1196.3 L1675.7,1196.3 L1677.8,1196.3 L1679.8,1196.4 L1681.8,1196.4 L1683.8,1196.4 L1685.8,1196.5 L1687.8,1196.5 L1689.9,1196.5 L1691.9,1196.6 L1693.9,1196.6 L1695.9,1196.7 L1697.9,1196.7 L1699.9,1196.8 L1701.9,1196.8 L1703.9,1196.9 L1705.9,1197.0 L1707.9,1197.1 L1709.9,1197.2 L1711.9,1197.2 L1713.9,1197.3 L1715.9,1197.4 L1717.9,1197.6 L1719.9,1197.7 L1721.9,1197.8 L1723.9,1197.9 L1725.9,1198.0 L1727.9,1198.1 L1729.9,1198.2 L1731.9,1198.4 L1733.9,1198.5 L1735.9,1198.6 L1737.9,1198.8 L1739.9,1198.9 L1741.9,1199.0 L1743.9,1199.2 L1745.9,1199.3 L1747.8,1199.4 L1749.8,1199.6 L1751.8,1199.7 L1753.8,1199.8 L1755.8,1200.0 L1757.8,1200.1 L1759.8,1200.2 L1761.8,1200.3 L1763.7,1200.5 L1765.7,1200.6 L1767.7,1200.7 L1769.7,1200.8 L1771.7,1200.9 L1773.7,1201.1 L1775.7,1201.2 L1777.7,1201.3 L1779.7,1201.4 L1781.6,1201.5 L1783.6,1201.6 L1785.6,1201.6 L1787.6,1201.7 L1789.6,1201.8 L1791.6,1201.9 L1793.6,1201.9 L1795.6,1202.0 L1797.6,1202.0 L1799.6,1202.1 L1801.6,1202.1 L1803.6,1202.2 L1805.6,1202.2 L1807.6,1202.2 L1809.6,1202.2 L1811.6,1202.2 L1813.6,1202.2 L1815.6,1202.2 L1817.6,1202.2 L1819.6,1202.1 L1821.6,1202.1 L1823.6,1202.0 L1825.6,1202.0 L1827.6,1201.9 L1829.6,1201.8 L1831.7,1201.7 L1833.7,1201.6 L1835.7,1201.5 L1837.7,1201.4 L1839.7,1201.2 L1840.1,1201.2" fill="none" stroke="#000" stroke-width="11.5" stroke-linejoin="round" stroke-linecap="round"/>
<path d="M234.0,1201.0 L236.0,1201.0 L238.0,1201.0 L240.0,1201.0 L242.0,1201.0 L244.0,1201.0 L246.0,1201.0 L248.0,1201.0 L250.0,1201.0 L252.0,1201.0 L254.0,1201.0 L256.0,1201.0 L258.0,1201.0 L260.0,1201.0 L262.0,1201.0 L264.0,1201.0 L266.0,1201.0 L268.0,1201.0 L270.0,1201.0 L272.0,1201.0 L274.0,1201.0 L276.0,1201.0 L278.0,1201.0 L280.0,1201.0 L282.0,1201.0 L284.0,1201.0 L286.0,1201.0 L288.0,1201.0 L290.0,1201.0 L292.0,1201.0 L294.0,1201.0 L296.0,1201.0 L298.0,1201.0 L300.0,1201.0 L302.0,1201.0 L304.0,1201.0 L306.0,1201.0 L308.0,1201.0 L310.0,1201.0 L312.0,1201.0 L314.0,1201.0 L316.0,1201.0 L318.0,1201.0 L320.0,1201.0 L322.0,1201.0 L324.0,1201.0 L326.0,1201.0 L328.0,1201.0 L330.0,1201.0 L332.0,1201.0 L334.0,1201.0 L336.0,1201.0 L338.0,1201.0 L340.0,1201.0 L342.0,1201.0 L344.0,1201.0 L346.0,1201.0 L348.0,1201.0 L350.0,1201.0 L352.0,1201.0 L354.0,1201.0 L356.0,1201.0 L358.0,1201.0 L360.0,1201.0 L362.0,1201.0 L364.0,1201.0 L366.0,1201.0 L368.0,1201.0 L370.0,1201.0 L372.0,1201.0 L374.0,1201.0 L376.0,1201.0 L378.0,1201.0 L380.0,1201.0 L382.0,1201.0 L384.0,1201.0 L386.0,1201.0 L388.0,1201.0 L390.0,1201.0 L392.0,1201.0 L394.0,1201.0 L396.0,1201.0 L398.0,1201.0 L400.0,1201.0 L402.0,1201.0 L404.0,1201.0 L406.0,1201.0 L408.0,1201.0 L410.0,1201.0 L412.0,1201.0 L414.0,1201.0 L416.0,1201.0 L418.0,1201.0 L420.0,1201.0 L422.0,1201.0 L424.0,1201.0 L426.0,1201.0 L428.0,1201.0 L430.0,1201.0 L432.0,1201.0 L434.0,1201.0 L436.0,1201.0 L438.0,1201.0 L440.0,1201.0 L442.0,1201.0 L444.0,1201.0 L446.0,1201.0 L448.0,1201.0 L450.0,1201.0 L452.0,1201.0 L454.0,1201.0 L456.0,1201.0 L458.0,1201.0 L460.0,1201.0 L462.0,1201.0 L464.0,1201.0 L466.0,1201.0 L468.0,1201.0 L470.0,1201.0 L472.0,1201.0 L474.0,1201.0 L476.0,1201.0 L478.0,1201.0 L480.0,1201.0 L482.0,1201.0 L484.0,1201.0 L486.0,1201.0 L488.0,1201.0 L490.0,1201.0 L492.0,1201.0 L494.0,1201.0 L496.0,1201.0 L498.0,1201.0 L500.0,1201.0 L502.0,1201.0 L504.0,1201.0 L506.0,1201.0 L508.0,1201.0 L510.0,1201.0 L512.0,1201.0 L514.0,1201.0 L516.0,1201.0 L518.0,1201.0 L520.0,1201.0 L522.0,1201.0 L524.0,1201.0 L526.0,1201.0 L528.0,1201.0 L530.0,1201.0 L532.0,1201.0 L534.0,1201.0 L536.0,1201.0 L538.0,1201.0 L540.0,1201.0 L542.0,1201.0 L544.0,1201.0 L546.0,1201.0 L548.0,1201.0 L550.0,1201.0 L552.0,1201.0 L554.0,1201.0 L556.0,1201.0 L558.0,1201.0 L560.0,1201.0 L562.0,1201.0 L564.0,1201.0 L566.0,1201.0 L568.0,1201.0 L570.0,1201.0 L572.0,1201.0 L574.0,1201.0 L576.0,1201.0 L578.0,1201.0 L580.0,1201.0 L582.0,1201.0 L584.0,1201.0 L586.0,1201.0 L588.0,1201.0 L590.0,1201.0 L592.0,1201.0 L594.0,1201.0 L596.0,1201.0 L598.0,1201.0 L600.0,1201.0 L602.0,1201.0 L604.0,1201.0 L606.0,1201.0 L608.0,1201.0 L610.0,1201.0 L612.0,1201.0 L614.0,1201.0 L616.0,1201.0 L618.0,1201.0 L620.0,1201.0 L622.0,1201.0 L624.0,1201.0 L626.0,1201.0 L628.0,1201.0 L630.0,1201.0 L632.0,1201.0 L634.0,1201.0 L636.0,1201.0 L638.0,1201.0 L640.0,1201.0 L642.0,1201.0 L644.0,1201.0 L646.0,1201.0 L648.0,1201.0 L650.0,1201.0 L652.0,1201.0 L654.0,1201.0 L656.0,1201.0 L658.0,1201.0 L660.0,1201.0 L662.0,1201.0 L664.0,1201.0 L666.0,1201.0 L668.0,1201.0 L670.0,1201.0 L672.0,1201.0 L674.0,1201.0 L676.0,1201.0 L678.0,1201.0 L680.0,1201.0 L682.0,1201.0 L684.0,1201.0 L686.0,1201.0 L688.0,1201.0 L690.0,1201.0 L692.0,1201.0 L694.0,1201.0 L696.0,1201.0 L698.0,1201.0 L700.0,1201.0 L702.0,1201.0 L704.0,1201.0 L706.0,1201.0 L708.0,1201.0 L710.0,1201.0 L712.0,1201.0 L714.0,1201.0 L716.0,1201.0 L718.0,1201.0 L720.0,1201.0 L722.0,1201.0 L724.0,1201.0 L726.0,1201.0 L728.0,1201.0 L730.0,1201.0 L732.0,1201.0 L734.0,1201.0 L736.0,1201.0 L738.0,1201.0 L740.0,1201.0 L742.0,1201.0 L744.0,1201.0 L746.0,1201.0 L748.0,1201.0 L750.0,1201.0 L752.0,1201.0 L754.0,1201.0 L756.0,1201.0 L758.0,1201.0 L760.0,1201.0 L762.0,1201.0 L764.0,1201.0 L766.0,1201.0 L768.0,1201.0 L770.0,1201.0 L772.0,1201.0 L774.0,1201.0 L776.0,1201.0 L778.0,1201.0 L780.0,1201.0 L782.0,1201.0 L784.0,1201.0 L786.0,1201.0 L788.0,1201.0 L790.0,1201.0 L792.0,1201.0 L794.0,1201.0 L796.0,1201.0 L798.0,1201.0 L800.0,1201.0 L802.0,1201.0 L804.0,1201.0 L806.0,1201.0 L808.0,1201.0 L810.0,1201.0 L812.0,1201.0 L814.0,1201.0 L816.0,1201.0 L818.0,1201.0 L820.0,1201.0 L822.0,1201.0 L824.0,1201.0 L826.0,1201.0 L828.0,1201.0 L830.0,1201.0 L832.0,1201.0 L834.0,1201.0 L836.0,1201.0 L838.0,1201.0 L840.0,1201.0 L842.0,1201.0 L844.0,1201.0 L846.0,1201.0 L848.0,1201.0 L850.0,1201.0 L852.0,1201.0 L854.0,1201.0 L856.0,1201.0 L858.0,1201.0 L860.0,1201.0 L862.0,1201.0 L864.0,1201.0 L866.0,1201.0 L868.0,1201.0 L870.0,1201.0 L872.0,1201.0 L874.0,1201.0 L876.0,1201.0 L878.0,1201.0 L880.0,1201.0 L882.0,1201.0 L884.0,1201.0 L886.0,1200.9 L888.0,1200.9 L890.0,1200.9 L892.0,1200.9 L894.0,1200.9 L896.0,1200.9 L898.0,1200.9 L900.0,1200.9 L902.0,1200.9 L904.0,1200.9 L906.0,1200.9 L908.0,1200.8 L910.0,1200.8 L912.0,1200.8 L914.0,1200.8 L916.0,1200.8 L918.0,1200.8 L920.0,1200.7 L922.0,1200.7 L924.0,1200.7 L926.0,1200.7 L928.0,1200.6 L930.0,1200.6 L932.0,1200.6 L934.0,1200.5 L936.0,1200.5 L938.0,1200.5 L940.0,1200.4 L942.0,1200.4 L944.0,1200.3 L946.0,1200.2 L948.0,1200.2 L950.0,1200.1 L952.0,1200.1 L954.0,1200.0 L956.0,1199.9 L958.0,1199.8 L960.0,1199.7 L962.0,1199.6 L964.0,1199.5 L966.0,1199.4 L968.0,1199.3 L970.0,1199.2 L972.0,1199.1 L974.0,1198.9 L976.0,1198.8 L978.0,1198.6 L980.0,1198.5 L982.0,1198.3 L984.0,1198.1 L986.0,1197.9 L988.0,1197.7 L990.0,1197.5 L992.0,1197.3 L994.0,1197.1 L996.0,1196.8 L998.0,1196.5 L1000.0,1196.3 L1002.0,1196.0 L1004.0,1195.7 L1006.0,1195.4 L1008.0,1195.1 L1010.0,1194.7 L1012.0,1194.4 L1014.0,1194.0 L1016.0,1193.6 L1018.0,1193.2 L1020.0,1192.8 L1022.0,1192.4 L1024.0,1191.9 L1026.0,1191.4 L1028.0,1191.0 L1030.0,1190.5 L1032.0,1189.9 L1034.0,1189.4 L1036.0,1188.9 L1038.0,1188.3 L1040.0,1187.7 L1042.0,1187.1 L1044.0,1186.5 L1046.0,1185.8 L1048.0,1185.2 L1050.0,1184.5 L1052.0,1183.8 L1054.0,1183.1 L1056.0,1182.4 L1058.0,1181.6 L1060.0,1180.9 L1062.0,1180.1 L1064.0,1179.3 L1066.0,1178.5 L1068.0,1177.7 L1070.0,1176.9 L1072.0,1176.1 L1074.0,1175.2 L1076.0,1174.4 L1078.0,1173.5 L1080.0,1172.6 L1082.0,1171.8 L1084.0,1170.9 L1086.0,1170.0 L1088.0,1169.1 L1090.0,1168.2 L1092.0,1167.3 L1094.0,1166.4 L1096.0,1165.5 L1098.0,1164.6 L1100.0,1163.7 L1102.0,1162.8 L1104.0,1161.9 L1106.0,1161.0 L1108.0,1160.1 L1110.0,1159.3 L1112.0,1158.4 L1114.0,1157.6 L1116.0,1156.8 L1118.0,1156.0 L1120.0,1155.2 L1122.0,1154.4 L1124.0,1153.6 L1126.0,1152.9 L1128.0,1152.2 L1130.0,1151.5 L1132.0,1150.9 L1134.0,1150.2 L1136.0,1149.6 L1138.0,1149.0 L1140.0,1148.5 L1142.0,1148.0 L1144.0,1147.5 L1146.0,1147.1 L1148.0,1146.6 L1150.0,1146.3 L1152.0,1145.9 L1154.0,1145.6 L1156.0,1145.3 L1158.0,1145.1 L1160.0,1144.9 L1162.0,1144.7 L1164.0,1144.6 L1166.0,1144.5 L1168.0,1144.5 L1170.0,1144.5 L1172.0,1144.5 L1174.0,1144.6 L1176.0,1144.7 L1178.0,1144.9 L1180.0,1145.1 L1182.0,1145.3 L1184.0,1145.6 L1186.0,1145.9 L1188.0,1146.2 L1190.0,1146.6 L1192.0,1147.0 L1194.0,1147.5 L1196.0,1147.9 L1198.0,1148.5 L1200.0,1149.0 L1202.0,1149.6 L1204.0,1150.2 L1206.0,1150.8 L1208.0,1151.5 L1210.0,1152.1 L1212.0,1152.8 L1214.0,1153.6 L1216.0,1154.3 L1218.0,1155.1 L1220.0,1155.9 L1222.0,1156.7 L1224.0,1157.5 L1226.0,1158.3 L1228.0,1159.2 L1230.0,1160.1 L1232.0,1160.9 L1234.0,1161.8 L1236.0,1162.7 L1238.0,1163.6 L1240.0,1164.5 L1242.0,1165.4 L1244.0,1166.3 L1246.0,1167.2 L1248.0,1168.1 L1250.0,1169.0 L1252.0,1169.9 L1254.0,1170.8 L1256.0,1171.7 L1258.0,1172.5 L1260.0,1173.4 L1262.0,1174.3 L1264.0,1175.1 L1266.0,1176.0 L1268.0,1176.8 L1270.0,1177.6 L1272.0,1178.5 L1274.0,1179.3 L1276.0,1180.0 L1278.0,1180.8 L1280.0,1181.6 L1282.0,1182.3 L1284.0,1183.0 L1286.0,1183.7 L1288.0,1184.4 L1290.0,1185.1 L1292.0,1185.8 L1294.0,1186.4 L1296.0,1187.0 L1298.0,1187.6 L1300.0,1188.2 L1302.0,1188.8 L1304.0,1189.4 L1306.0,1189.9 L1308.0,1190.4 L1310.0,1190.9 L1312.0,1191.4 L1314.0,1191.9 L1316.0,1192.3 L1318.0,1192.8 L1320.0,1193.2 L1322.0,1193.6 L1324.0,1194.0 L1326.0,1194.3 L1328.0,1194.7 L1330.0,1195.0 L1332.0,1195.4 L1334.0,1195.7 L1336.0,1196.0 L1338.0,1196.2 L1340.0,1196.5 L1342.0,1196.8 L1344.0,1197.0 L1346.0,1197.3 L1348.0,1197.5 L1350.0,1197.7 L1352.0,1197.9 L1354.0,1198.1 L1356.0,1198.3 L1358.0,1198.4 L1360.0,1198.6 L1362.0,1198.8 L1364.0,1198.9 L1366.0,1199.0 L1368.0,1199.2 L1370.0,1199.3 L1372.0,1199.4 L1374.0,1199.5 L1376.0,1199.6 L1378.0,1199.7 L1380.0,1199.8 L1382.0,1199.9 L1384.0,1200.0 L1386.0,1200.0 L1388.0,1200.1 L1390.0,1200.2 L1392.0,1200.2 L1394.0,1200.3 L1396.0,1200.4 L1398.0,1200.4 L1400.0,1200.4 L1402.0,1200.5 L1404.0,1200.5 L1406.0,1200.6 L1408.0,1200.6 L1410.0,1200.6 L1412.0,1200.7 L1414.0,1200.7 L1416.0,1200.7 L1418.0,1200.7 L1420.0,1200.8 L1422.0,1200.8 L1424.0,1200.8 L1426.0,1200.8 L1428.0,1200.8 L1430.0,1200.8 L1432.0,1200.9 L1434.0,1200.9 L1436.0,1200.9 L1438.0,1200.9 L1440.0,1200.9 L1442.0,1200.9 L1444.0,1200.9 L1446.0,1200.9 L1448.0,1200.9 L1450.0,1200.9 L1452.0,1200.9 L1454.0,1201.0 L1456.0,1201.0 L1458.0,1201.0 L1460.0,1201.0 L1462.0,1201.0 L1464.0,1201.0 L1466.0,1201.0 L1468.0,1201.0 L1470.0,1201.0 L1472.0,1201.0 L1474.0,1201.0 L1476.0,1201.0 L1478.0,1201.0 L1480.0,1201.0 L1482.0,1201.0 L1484.0,1201.0 L1486.0,1201.0 L1488.0,1201.0 L1490.0,1201.0 L1492.0,1201.0 L1494.0,1201.0 L1496.0,1201.0 L1498.0,1201.0 L1500.0,1201.0 L1502.0,1201.0 L1504.0,1201.0 L1506.0,1201.0 L1508.0,1201.0 L1510.0,1201.0 L1512.0,1201.0 L1514.0,1201.0 L1516.0,1201.0 L1518.0,1201.0 L1520.0,1201.0 L1522.0,1201.0 L1524.0,1201.0 L1526.0,1201.0 L1528.0,1201.0 L1530.0,1201.0 L1532.0,1201.0 L1534.0,1201.0 L1536.0,1201.0 L1538.0,1201.0 L1540.0,1201.0 L1542.0,1201.0 L1544.0,1201.0 L1546.0,1201.0 L1548.0,1201.0 L1550.0,1201.0 L1552.0,1201.0 L1554.0,1201.0 L1556.0,1201.0 L1558.0,1201.0 L1560.0,1201.0 L1562.0,1201.0 L1564.0,1201.0 L1566.0,1201.0 L1568.0,1201.0 L1570.0,1201.0 L1572.0,1201.0 L1574.0,1201.0 L1576.0,1201.0 L1578.0,1201.0 L1580.0,1201.0 L1582.0,1201.0 L1584.0,1201.0 L1586.0,1201.0 L1588.0,1201.0 L1590.0,1201.0 L1592.0,1201.0 L1594.0,1201.0 L1596.0,1201.0 L1598.0,1201.0 L1600.0,1201.0 L1602.0,1201.0 L1604.0,1201.0 L1606.0,1201.0 L1608.0,1201.0 L1610.0,1201.0 L1612.0,1201.0 L1614.0,1201.0 L1616.0,1201.0 L1618.0,1201.0 L1620.0,1201.0 L1622.0,1201.0 L1624.0,1201.0 L1626.0,1201.0 L1628.0,1201.0 L1630.0,1201.0 L1632.0,1201.0 L1634.0,1201.0 L1636.0,1201.0 L1638.0,1201.0 L1640.0,1201.0 L1642.0,1201.0 L1644.0,1201.0 L1646.0,1201.0 L1648.0,1201.0 L1650.0,1201.0 L1652.0,1201.0 L1654.0,1201.0 L1656.0,1201.0 L1658.0,1201.0 L1660.0,1201.0 L1662.0,1201.0 L1664.0,1201.0 L1666.0,1201.0 L1668.0,1201.0 L1670.0,1201.0 L1672.0,1201.0 L1674.0,1201.0 L1676.0,1201.0 L1678.0,1201.0 L1680.0,1201.0 L1682.0,1201.0 L1684.0,1201.0 L1686.0,1201.0 L1688.0,1201.0 L1690.0,1201.0 L1692.0,1201.0 L1694.0,1201.0 L1696.0,1201.0 L1698.0,1201.0 L1700.0,1201.0 L1702.0,1201.0 L1704.0,1201.0 L1706.0,1201.0 L1708.0,1201.0 L1710.0,1201.0 L1712.0,1201.0 L1714.0,1201.0 L1716.0,1201.0 L1718.0,1201.0 L1720.0,1201.0 L1722.0,1201.0 L1724.0,1201.0 L1726.0,1201.0 L1728.0,1201.0 L1730.0,1201.0 L1732.0,1201.0 L1734.0,1201.0 L1736.0,1201.0 L1738.0,1201.0 L1740.0,1201.0 L1742.0,1201.0 L1744.0,1201.0 L1746.0,1201.0 L1748.0,1201.0 L1750.0,1201.0 L1752.0,1201.0 L1754.0,1201.0 L1756.0,1201.0 L1758.0,1201.0 L1760.0,1201.0 L1762.0,1201.0 L1764.0,1201.0 L1766.0,1201.0 L1768.0,1201.0 L1770.0,1201.0 L1772.0,1201.0 L1774.0,1201.0 L1776.0,1201.0 L1778.0,1201.0 L1780.0,1201.0 L1782.0,1201.0 L1784.0,1201.0 L1786.0,1201.0 L1788.0,1201.0 L1790.0,1201.0 L1792.0,1201.0 L1794.0,1201.0 L1796.0,1201.0 L1798.0,1201.0 L1800.0,1201.0 L1802.0,1201.0 L1804.0,1201.0 L1806.0,1201.0 L1808.0,1201.0 L1810.0,1201.0 L1812.0,1201.0 L1814.0,1201.0 L1816.0,1201.0 L1818.0,1201.0 L1820.0,1201.0 L1822.0,1201.0 L1824.0,1201.0 L1826.0,1201.0 L1828.0,1201.0 L1830.0,1201.0 L1832.0,1201.0 L1833.0,1201.0" fill="none" stroke="#ff00ff" stroke-width="7.5" stroke-linejoin="round" stroke-linecap="round"/>
<path d="M234.0,1201.0 L236.0,1201.0 L238.0,1201.0 L240.0,1201.0 L242.0,1201.0 L244.0,1201.0 L246.0,1201.0 L248.0,1201.0 L250.0,1201.0 L252.0,1201.0 L254.0,1201.0 L256.0,1201.0 L258.0,1201.0 L260.0,1201.0 L262.0,1201.0 L264.0,1201.0 L266.0,1201.0 L268.0,1201.0 L270.0,1201.0 L272.0,1201.0 L274.0,1201.0 L276.0,1201.0 L278.0,1201.0 L280.0,1201.0 L282.0,1201.0 L284.0,1201.0 L286.0,1201.0 L288.0,1201.0 L290.0,1201.0 L292.0,1201.0 L294.0,1201.0 L296.0,1201.0 L298.0,1201.0 L300.0,1201.0 L302.0,1201.0 L304.0,1201.0 L306.0,1201.0 L308.0,1201.0 L310.0,1201.0 L312.0,1201.0 L314.0,1201.0 L316.0,1201.0 L318.0,1201.0 L320.0,1201.0 L322.0,1201.0 L324.0,1201.0 L326.0,1201.0 L328.0,1201.0 L330.0,1201.0 L332.0,1201.0 L334.0,1201.0 L336.0,1201.0 L338.0,1201.0 L340.0,1201.0 L342.0,1201.0 L344.0,1201.0 L346.0,1201.0 L348.0,1201.0 L350.0,1201.0 L352.0,1201.0 L354.0,1201.0 L356.0,1201.0 L358.0,1201.0 L360.0,1201.0 L362.0,1201.0 L364.0,1201.0 L366.0,1201.0 L368.0,1201.0 L370.0,1201.0 L372.0,1201.0 L374.0,1201.0 L376.0,1201.0 L378.0,1201.0 L380.0,1201.0 L382.0,1201.0 L384.0,1201.0 L386.0,1201.0 L388.0,1201.0 L390.0,1201.0 L392.0,1201.0 L394.0,1201.0 L396.0,1201.0 L398.0,1201.0 L400.0,1201.0 L402.0,1201.0 L404.0,1201.0 L406.0,1201.0 L408.0,1201.0 L410.0,1201.0 L412.0,1201.0 L414.0,1201.0 L416.0,1201.0 L418.0,1201.0 L420.0,1201.0 L422.0,1201.0 L424.0,1201.0 L426.0,1201.0 L428.0,1201.0 L430.0,1201.0 L432.0,1201.0 L434.0,1201.0 L436.0,1201.0 L438.0,1201.0 L440.0,1201.0 L442.0,1201.0 L444.0,1201.0 L446.0,1201.0 L448.0,1201.0 L450.0,1201.0 L452.0,1201.0 L454.0,1201.0 L456.0,1201.0 L458.0,1201.0 L460.0,1201.0 L462.0,1201.0 L464.0,1201.0 L466.0,1201.0 L468.0,1201.0 L470.0,1201.0 L472.0,1201.0 L474.0,1201.0 L476.0,1201.0 L478.0,1201.0 L480.0,1201.0 L482.0,1201.0 L484.0,1201.0 L486.0,1201.0 L488.0,1200.9 L490.0,1200.9 L492.0,1200.9 L494.0,1200.9 L496.0,1200.9 L498.0,1200.9 L500.0,1200.9 L502.0,1200.9 L504.0,1200.9 L506.0,1200.9 L508.0,1200.9 L510.0,1200.9 L512.0,1200.9 L514.0,1200.9 L516.0,1200.9 L518.0,1200.9 L520.0,1200.8 L522.0,1200.8 L524.0,1200.8 L526.0,1200.8 L528.0,1200.8 L530.0,1200.8 L532.0,1200.8 L534.0,1200.8 L536.0,1200.7 L538.0,1200.7 L540.0,1200.7 L542.0,1200.7 L544.0,1200.7 L546.0,1200.6 L548.0,1200.6 L550.0,1200.6 L552.0,1200.6 L554.0,1200.5 L556.0,1200.5 L558.0,1200.5 L560.0,1200.4 L562.0,1200.4 L564.0,1200.3 L566.0,1200.3 L568.0,1200.3 L570.0,1200.2 L572.0,1200.2 L574.0,1200.1 L576.0,1200.1 L578.0,1200.0 L580.0,1199.9 L582.0,1199.9 L584.0,1199.8 L586.0,1199.7 L588.0,1199.6 L590.0,1199.6 L592.0,1199.5 L594.0,1199.4 L596.0,1199.3 L598.0,1199.2 L600.0,1199.1 L602.0,1199.0 L604.0,1198.8 L606.0,1198.7 L608.0,1198.6 L610.0,1198.5 L612.0,1198.3 L614.0,1198.1 L616.0,1198.0 L618.0,1197.8 L620.0,1197.6 L622.0,1197.4 L624.0,1197.3 L626.0,1197.0 L628.0,1196.8 L630.0,1196.6 L632.0,1196.4 L634.0,1196.1 L636.0,1195.8 L638.0,1195.6 L640.0,1195.3 L642.0,1195.0 L644.0,1194.6 L646.0,1194.3 L648.0,1194.0 L650.0,1193.6 L652.0,1193.2 L654.0,1192.8 L656.0,1192.4 L658.0,1192.0 L660.0,1191.5 L662.0,1191.0 L664.0,1190.5 L666.0,1190.0 L668.0,1189.4 L670.0,1188.9 L672.0,1188.3 L674.0,1187.7 L676.0,1187.0 L678.0,1186.4 L680.0,1185.7 L682.0,1184.9 L684.0,1184.2 L686.0,1183.4 L688.0,1182.6 L690.0,1181.7 L692.0,1180.8 L694.0,1179.9 L696.0,1178.9 L698.0,1177.9 L700.0,1176.9 L702.0,1175.8 L704.0,1174.7 L706.0,1173.6 L708.0,1172.4 L710.0,1171.1 L712.0,1169.8 L714.0,1168.5 L716.0,1167.1 L718.0,1165.7 L720.0,1164.2 L722.0,1162.6 L724.0,1161.1 L726.0,1159.4 L728.0,1157.7 L730.0,1156.0 L732.0,1154.1 L734.0,1152.3 L736.0,1150.3 L738.0,1148.3 L740.0,1146.3 L742.0,1144.1 L744.0,1141.9 L746.0,1139.7 L748.0,1137.3 L750.0,1134.9 L752.0,1132.4 L754.0,1129.9 L756.0,1127.3 L758.0,1124.6 L760.0,1121.8 L762.0,1118.9 L764.0,1116.0 L766.0,1113.0 L768.0,1109.9 L770.0,1106.7 L772.0,1103.4 L774.0,1100.1 L776.0,1096.6 L778.0,1093.1 L780.0,1089.5 L782.0,1085.8 L784.0,1082.0 L786.0,1078.1 L788.0,1074.1 L790.0,1070.0 L792.0,1065.9 L794.0,1061.6 L796.0,1057.3 L798.0,1052.8 L800.0,1048.2 L802.0,1043.6 L804.0,1038.9 L806.0,1034.0 L808.0,1029.1 L810.0,1024.0 L812.0,1018.9 L814.0,1013.7 L816.0,1008.3 L818.0,1002.9 L820.0,997.4 L822.0,991.8 L824.0,986.0 L826.0,980.2 L828.0,974.3 L830.0,968.3 L832.0,962.2 L834.0,956.0 L836.0,949.7 L838.0,943.4 L840.0,936.9 L842.0,930.3 L844.0,923.7 L846.0,917.0 L848.0,910.2 L850.0,903.3 L852.0,896.3 L854.0,889.3 L856.0,882.1 L858.0,875.0 L860.0,867.7 L862.0,860.3 L864.0,852.9 L866.0,845.5 L868.0,837.9 L870.0,830.4 L872.0,822.7 L874.0,815.0 L876.0,807.3 L878.0,799.5 L880.0,791.7 L882.0,783.8 L884.0,775.9 L886.0,767.9 L888.0,760.0 L890.0,752.0 L892.0,744.0 L894.0,736.0 L896.0,727.9 L898.0,719.9 L900.0,711.8 L902.0,703.8 L904.0,695.8 L906.0,687.7 L908.0,679.7 L910.0,671.7 L912.0,663.8 L914.0,655.8 L916.0,647.9 L918.0,640.0 L920.0,632.2 L922.0,624.4 L924.0,616.7 L926.0,609.1 L928.0,601.5 L930.0,593.9 L932.0,586.5 L934.0,579.1 L936.0,571.8 L938.0,564.6 L940.0,557.5 L942.0,550.4 L944.0,543.5 L946.0,536.7 L948.0,530.0 L950.0,523.5 L952.0,517.0 L954.0,510.7 L956.0,504.5 L958.0,498.4 L960.0,492.5 L962.0,486.7 L964.0,481.1 L966.0,475.6 L968.0,470.3 L970.0,465.2 L972.0,460.2 L974.0,455.4 L976.0,450.7 L978.0,446.3 L980.0,442.0 L982.0,437.9 L984.0,434.0 L986.0,430.3 L988.0,426.8 L990.0,423.4 L992.0,420.3 L994.0,417.4 L996.0,414.7 L998.0,412.1 L1000.0,409.8 L1002.0,407.7 L1004.0,405.8 L1006.0,404.2 L1008.0,402.7 L1010.0,401.5 L1012.0,400.4 L1014.0,399.6 L1016.0,399.0 L1018.0,398.7 L1020.0,398.5 L1022.0,398.6 L1024.0,398.9 L1026.0,399.4 L1028.0,400.1 L1030.0,401.0 L1032.0,402.2 L1034.0,403.6 L1036.0,405.1 L1038.0,406.9 L1040.0,409.0 L1042.0,411.2 L1044.0,413.6 L1046.0,416.3 L1048.0,419.1 L1050.0,422.2 L1052.0,425.4 L1054.0,428.9 L1056.0,432.5 L1058.0,436.3 L1060.0,440.3 L1062.0,444.6 L1064.0,448.9 L1066.0,453.5 L1068.0,458.3 L1070.0,463.2 L1072.0,468.3 L1074.0,473.5 L1076.0,478.9 L1078.0,484.5 L1080.0,490.2 L1082.0,496.0 L1084.0,502.0 L1086.0,508.2 L1088.0,514.5 L1090.0,520.9 L1092.0,527.4 L1094.0,534.0 L1096.0,540.8 L1098.0,547.7 L1100.0,554.6 L1102.0,561.7 L1104.0,568.9 L1106.0,576.2 L1108.0,583.5 L1110.0,590.9 L1112.0,598.4 L1114.0,606.0 L1116.0,613.7 L1118.0,621.4 L1120.0,629.1 L1122.0,636.9 L1124.0,644.8 L1126.0,652.7 L1128.0,660.6 L1130.0,668.5 L1132.0,676.5 L1134.0,684.5 L1136.0,692.6 L1138.0,700.6 L1140.0,708.6 L1142.0,716.7 L1144.0,724.7 L1146.0,732.8 L1148.0,740.8 L1150.0,748.8 L1152.0,756.8 L1154.0,764.8 L1156.0,772.7 L1158.0,780.6 L1160.0,788.5 L1162.0,796.4 L1164.0,804.2 L1166.0,811.9 L1168.0,819.6 L1170.0,827.3 L1172.0,834.9 L1174.0,842.5 L1176.0,850.0 L1178.0,857.4 L1180.0,864.8 L1182.0,872.1 L1184.0,879.3 L1186.0,886.4 L1188.0,893.5 L1190.0,900.5 L1192.0,907.4 L1194.0,914.3 L1196.0,921.0 L1198.0,927.7 L1200.0,934.3 L1202.0,940.8 L1204.0,947.2 L1206.0,953.5 L1208.0,959.7 L1210.0,965.9 L1212.0,971.9 L1214.0,977.9 L1216.0,983.7 L1218.0,989.5 L1220.0,995.1 L1222.0,1000.7 L1224.0,1006.2 L1226.0,1011.5 L1228.0,1016.8 L1230.0,1022.0 L1232.0,1027.1 L1234.0,1032.0 L1236.0,1036.9 L1238.0,1041.7 L1240.0,1046.4 L1242.0,1051.0 L1244.0,1055.5 L1246.0,1059.9 L1248.0,1064.2 L1250.0,1068.4 L1252.0,1072.5 L1254.0,1076.5 L1256.0,1080.4 L1258.0,1084.3 L1260.0,1088.0 L1262.0,1091.7 L1264.0,1095.2 L1266.0,1098.7 L1268.0,1102.1 L1270.0,1105.4 L1272.0,1108.6 L1274.0,1111.8 L1276.0,1114.8 L1278.0,1117.8 L1280.0,1120.7 L1282.0,1123.5 L1284.0,1126.2 L1286.0,1128.9 L1288.0,1131.4 L1290.0,1133.9 L1292.0,1136.4 L1294.0,1138.7 L1296.0,1141.0 L1298.0,1143.3 L1300.0,1145.4 L1302.0,1147.5 L1304.0,1149.5 L1306.0,1151.5 L1308.0,1153.4 L1310.0,1155.2 L1312.0,1157.0 L1314.0,1158.7 L1316.0,1160.4 L1318.0,1162.0 L1320.0,1163.6 L1322.0,1165.1 L1324.0,1166.5 L1326.0,1167.9 L1328.0,1169.3 L1330.0,1170.6 L1332.0,1171.9 L1334.0,1173.1 L1336.0,1174.3 L1338.0,1175.4 L1340.0,1176.5 L1342.0,1177.5 L1344.0,1178.5 L1346.0,1179.5 L1348.0,1180.5 L1350.0,1181.4 L1352.0,1182.2 L1354.0,1183.1 L1356.0,1183.9 L1358.0,1184.6 L1360.0,1185.4 L1362.0,1186.1 L1364.0,1186.8 L1366.0,1187.4 L1368.0,1188.0 L1370.0,1188.6 L1372.0,1189.2 L1374.0,1189.8 L1376.0,1190.3 L1378.0,1190.8 L1380.0,1191.3 L1382.0,1191.8 L1384.0,1192.2 L1386.0,1192.6 L1388.0,1193.1 L1390.0,1193.4 L1392.0,1193.8 L1394.0,1194.2 L1396.0,1194.5 L1398.0,1194.8 L1400.0,1195.1 L1402.0,1195.4 L1404.0,1195.7 L1406.0,1196.0 L1408.0,1196.3 L1410.0,1196.5 L1412.0,1196.7 L1414.0,1197.0 L1416.0,1197.2 L1418.0,1197.4 L1420.0,1197.6 L1422.0,1197.7 L1424.0,1197.9 L1426.0,1198.1 L1428.0,1198.2 L1430.0,1198.4 L1432.0,1198.5 L1434.0,1198.7 L1436.0,1198.8 L1438.0,1198.9 L1440.0,1199.0 L1442.0,1199.1 L1444.0,1199.2 L1446.0,1199.3 L1448.0,1199.4 L1450.0,1199.5 L1452.0,1199.6 L1454.0,1199.7 L1456.0,1199.8 L1458.0,1199.8 L1460.0,1199.9 L1462.0,1200.0 L1464.0,1200.0 L1466.0,1200.1 L1468.0,1200.1 L1470.0,1200.2 L1472.0,1200.2 L1474.0,1200.3 L1476.0,1200.3 L1478.0,1200.4 L1480.0,1200.4 L1482.0,1200.4 L1484.0,1200.5 L1486.0,1200.5 L1488.0,1200.5 L1490.0,1200.6 L1492.0,1200.6 L1494.0,1200.6 L1496.0,1200.6 L1498.0,1200.7 L1500.0,1200.7 L1502.0,1200.7 L1504.0,1200.7 L1506.0,1200.7 L1508.0,1200.8 L1510.0,1200.8 L1512.0,1200.8 L1514.0,1200.8 L1516.0,1200.8 L1518.0,1200.8 L1520.0,1200.8 L1522.0,1200.9 L1524.0,1200.9 L1526.0,1200.9 L1528.0,1200.9 L1530.0,1200.9 L1532.0,1200.9 L1534.0,1200.9 L1536.0,1200.9 L1538.0,1200.9 L1540.0,1200.9 L1542.0,1200.9 L1544.0,1200.9 L1546.0,1200.9 L1548.0,1200.9 L1550.0,1200.9 L1552.0,1200.9 L1554.0,1201.0 L1556.0,1201.0 L1558.0,1201.0 L1560.0,1201.0 L1562.0,1201.0 L1564.0,1201.0 L1566.0,1201.0 L1568.0,1201.0 L1570.0,1201.0 L1572.0,1201.0 L1574.0,1201.0 L1576.0,1201.0 L1578.0,1201.0 L1580.0,1201.0 L1582.0,1201.0 L1584.0,1201.0 L1586.0,1201.0 L1588.0,1201.0 L1590.0,1201.0 L1592.0,1201.0 L1594.0,1201.0 L1596.0,1201.0 L1598.0,1201.0 L1600.0,1201.0 L1602.0,1201.0 L1604.0,1201.0 L1606.0,1201.0 L1608.0,1201.0 L1610.0,1201.0 L1612.0,1201.0 L1614.0,1201.0 L1616.0,1201.0 L1618.0,1201.0 L1620.0,1201.0 L1622.0,1201.0 L1624.0,1201.0 L1626.0,1201.0 L1628.0,1201.0 L1630.0,1201.0 L1632.0,1201.0 L1634.0,1201.0 L1636.0,1201.0 L1638.0,1201.0 L1640.0,1201.0 L1642.0,1201.0 L1644.0,1201.0 L1646.0,1201.0 L1648.0,1201.0 L1650.0,1201.0 L1652.0,1201.0 L1654.0,1201.0 L1656.0,1201.0 L1658.0,1201.0 L1660.0,1201.0 L1662.0,1201.0 L1664.0,1201.0 L1666.0,1201.0 L1668.0,1201.0 L1670.0,1201.0 L1672.0,1201.0 L1674.0,1201.0 L1676.0,1201.0 L1678.0,1201.0 L1680.0,1201.0 L1682.0,1201.0 L1684.0,1201.0 L1686.0,1201.0 L1688.0,1201.0 L1690.0,1201.0 L1692.0,1201.0 L1694.0,1201.0 L1696.0,1201.0 L1698.0,1201.0 L1700.0,1201.0 L1702.0,1201.0 L1704.0,1201.0 L1706.0,1201.0 L1708.0,1201.0 L1710.0,1201.0 L1712.0,1201.0 L1714.0,1201.0 L1716.0,1201.0 L1718.0,1201.0 L1720.0,1201.0 L1722.0,1201.0 L1724.0,1201.0 L1726.0,1201.0 L1728.0,1201.0 L1730.0,1201.0 L1732.0,1201.0 L1734.0,1201.0 L1736.0,1201.0 L1738.0,1201.0 L1740.0,1201.0 L1742.0,1201.0 L1744.0,1201.0 L1746.0,1201.0 L1748.0,1201.0 L1750.0,1201.0 L1752.0,1201.0 L1754.0,1201.0 L1756.0,1201.0 L1758.0,1201.0 L1760.0,1201.0 L1762.0,1201.0 L1764.0,1201.0 L1766.0,1201.0 L1768.0,1201.0 L1770.0,1201.0 L1772.0,1201.0 L1774.0,1201.0 L1776.0,1201.0 L1778.0,1201.0 L1780.0,1201.0 L1782.0,1201.0 L1784.0,1201.0 L1786.0,1201.0 L1788.0,1201.0 L1790.0,1201.0 L1792.0,1201.0 L1794.0,1201.0 L1796.0,1201.0 L1798.0,1201.0 L1800.0,1201.0 L1802.0,1201.0 L1804.0,1201.0 L1806.0,1201.0 L1808.0,1201.0 L1810.0,1201.0 L1812.0,1201.0 L1814.0,1201.0 L1816.0,1201.0 L1818.0,1201.0 L1820.0,1201.0 L1822.0,1201.0 L1824.0,1201.0 L1826.0,1201.0 L1828.0,1201.0 L1830.0,1201.0 L1832.0,1201.0 L1833.0,1201.0" fill="none" stroke="#0000ff" stroke-width="7.5" stroke-linejoin="round" stroke-linecap="round"/>
</g>
<rect x="234.0" y="120.5" width="1599.0" height="1189.5" fill="none" stroke="#000" stroke-width="9" stroke-linejoin="round"/>
<line x1="234.0" y1="1310.0" x2="234.0" y2="1318.5" stroke="#000" stroke-width="9" stroke-linecap="round"/>
<line x1="393.3" y1="1310.0" x2="393.3" y2="1331.0" stroke="#000" stroke-width="9" stroke-linecap="round"/>
<line x1="553.1" y1="1310.0" x2="553.1" y2="1318.5" stroke="#000" stroke-width="9" stroke-linecap="round"/>
<line x1="712.9" y1="1310.0" x2="712.9" y2="1331.0" stroke="#000" stroke-width="9" stroke-linecap="round"/>
<line x1="872.7" y1="1310.0" x2="872.7" y2="1318.5" stroke="#000" stroke-width="9" stroke-linecap="round"/>
<line x1="1032.5" y1="1310.0" x2="1032.5" y2="1331.0" stroke="#000" stroke-width="9" stroke-linecap="round"/>
<line x1="1192.3" y1="1310.0" x2="1192.3" y2="1318.5" stroke="#000" stroke-width="9" stroke-linecap="round"/>
<line x1="1352.1" y1="1310.0" x2="1352.1" y2="1331.0" stroke="#000" stroke-width="9" stroke-linecap="round"/>
<line x1="1511.9" y1="1310.0" x2="1511.9" y2="1318.5" stroke="#000" stroke-width="9" stroke-linecap="round"/>
<line x1="1671.7" y1="1310.0" x2="1671.7" y2="1331.0" stroke="#000" stroke-width="9" stroke-linecap="round"/>
<line x1="1833.0" y1="1310.0" x2="1833.0" y2="1318.5" stroke="#000" stroke-width="9" stroke-linecap="round"/>
<rect x="1279.5" y="196.5" width="465.5" height="306.5" fill="#fff" stroke="#3a3a3a" stroke-width="2"/>
<line x1="1371.5" y1="258.9" x2="1483.5" y2="258.9" stroke="#008080" stroke-width="8" stroke-linecap="round"/>
<line x1="1362" y1="336" x2="1486" y2="336" stroke="#0000ff" stroke-width="8" stroke-linecap="round"/>
<line x1="1364" y1="446.8" x2="1487" y2="446.8" stroke="#ff00ff" stroke-width="8" stroke-linecap="round"/>
<g clip-path="url(#cb)">
<line x1="236.8" y1="2861.1" x2="1858.5" y2="2819.0" stroke="#000" stroke-width="6"/>
<path d="M241.4,2844.8 L243.4,2844.6 L245.4,2844.5 L247.4,2844.3 L249.4,2844.1 L251.4,2843.9 L253.4,2843.8 L255.4,2843.6 L257.4,2843.4 L259.4,2843.2 L261.3,2843.1 L263.3,2842.9 L265.3,2842.7 L267.3,2842.5 L269.3,2842.3 L271.3,2842.2 L273.3,2842.0 L275.3,2841.8 L277.3,2841.6 L279.3,2841.4 L281.3,2841.2 L283.3,2841.0 L285.3,2840.9 L287.3,2840.7 L289.3,2840.5 L291.3,2840.3 L293.2,2840.1 L295.2,2839.9 L297.2,2839.7 L299.2,2839.5 L301.2,2839.3 L303.2,2839.1 L305.2,2838.9 L307.2,2838.7 L309.2,2838.5 L311.1,2838.3 L313.1,2838.1 L315.1,2837.9 L317.1,2837.7 L319.1,2837.5 L321.1,2837.3 L323.1,2837.1 L325.1,2836.9 L327.0,2836.7 L329.0,2836.5 L331.0,2836.3 L333.0,2836.1 L335.0,2835.9 L337.0,2835.7 L339.0,2835.5 L341.0,2835.2 L342.9,2835.0 L344.9,2834.8 L346.9,2834.6 L348.9,2834.4 L350.9,2834.2 L352.9,2834.0 L354.8,2833.8 L356.8,2833.6 L358.8,2833.4 L360.8,2833.1 L362.8,2832.9 L364.8,2832.7 L366.8,2832.5 L368.7,2832.3 L370.7,2832.1 L372.7,2831.9 L374.7,2831.7 L376.7,2831.4 L378.7,2831.2 L380.7,2831.0 L382.6,2830.8 L384.6,2830.6 L386.6,2830.4 L388.6,2830.2 L390.6,2829.9 L392.6,2829.7 L394.5,2829.5 L396.5,2829.3 L398.5,2829.1 L400.5,2828.9 L402.5,2828.7 L404.5,2828.4 L406.5,2828.2 L408.4,2828.0 L410.4,2827.8 L412.4,2827.6 L414.4,2827.4 L416.4,2827.2 L418.4,2826.9 L420.4,2826.7 L422.4,2826.5 L424.3,2826.3 L426.3,2826.1 L428.3,2825.9 L430.3,2825.7 L432.3,2825.5 L434.3,2825.3 L436.3,2825.0 L438.3,2824.8 L440.2,2824.6 L442.2,2824.4 L444.2,2824.2 L446.2,2824.0 L448.2,2823.8 L450.2,2823.6 L452.2,2823.4 L454.2,2823.2 L456.2,2822.9 L458.2,2822.7 L460.1,2822.5 L462.1,2822.3 L464.1,2822.1 L466.1,2821.9 L468.1,2821.7 L470.1,2821.5 L472.1,2821.3 L474.1,2821.1 L476.1,2820.9 L478.1,2820.7 L480.1,2820.5 L482.1,2820.3 L484.1,2820.1 L486.1,2819.9 L488.1,2819.7 L490.1,2819.5 L492.1,2819.3 L494.1,2819.1 L496.1,2818.9 L498.1,2818.7 L500.1,2818.5 L502.0,2818.3 L504.0,2818.1 L506.0,2817.9 L508.0,2817.7 L510.0,2817.5 L512.0,2817.3 L514.0,2817.1 L516.0,2816.8 L518.0,2816.6 L520.0,2816.4 L522.0,2816.2 L524.0,2816.0 L526.0,2815.7 L528.0,2815.5 L530.0,2815.3 L532.0,2815.1 L534.0,2814.8 L536.0,2814.6 L537.9,2814.3 L539.9,2814.1 L541.9,2813.8 L543.9,2813.6 L545.9,2813.3 L547.9,2813.1 L549.9,2812.8 L551.8,2812.5 L553.8,2812.3 L555.8,2812.0 L557.8,2811.7 L559.8,2811.4 L561.7,2811.1 L563.7,2810.8 L565.7,2810.5 L567.7,2810.2 L569.6,2809.9 L571.6,2809.6 L573.6,2809.3 L575.5,2808.9 L577.5,2808.6 L579.5,2808.3 L581.4,2807.9 L583.4,2807.5 L585.4,2807.2 L587.3,2806.8 L589.3,2806.4 L591.2,2806.1 L593.2,2805.7 L595.1,2805.3 L597.1,2804.9 L599.0,2804.4 L601.0,2804.0 L602.9,2803.6 L604.9,2803.2 L606.8,2802.7 L608.7,2802.3 L610.7,2801.8 L612.6,2801.3 L614.5,2800.9 L616.5,2800.4 L618.4,2799.9 L620.3,2799.4 L622.2,2798.9 L624.2,2798.3 L626.1,2797.8 L628.0,2797.3 L629.9,2796.7 L631.8,2796.1 L633.7,2795.6 L635.6,2795.0 L637.5,2794.4 L639.4,2793.8 L641.3,2793.2 L643.2,2792.6 L645.1,2791.9 L647.0,2791.3 L648.8,2790.6 L650.7,2790.0 L652.6,2789.3 L654.5,2788.6 L656.3,2787.9 L658.2,2787.2 L660.1,2786.5 L661.9,2785.7 L663.8,2785.0 L665.6,2784.2 L667.5,2783.5 L669.3,2782.7 L671.2,2781.9 L673.0,2781.1 L674.8,2780.3 L676.7,2779.5 L678.5,2778.7 L680.3,2777.9 L682.1,2777.0 L683.9,2776.1 L685.7,2775.3 L687.5,2774.4 L689.3,2773.5 L691.1,2772.6 L692.9,2771.7 L694.7,2770.8 L696.5,2769.8 L698.2,2768.9 L700.0,2767.9 L701.8,2767.0 L703.5,2766.0 L705.3,2765.0 L707.0,2764.0 L708.7,2763.0 L710.5,2761.9 L712.2,2760.9 L713.9,2759.9 L715.6,2758.8 L717.3,2757.7 L719.0,2756.6 L720.7,2755.5 L722.3,2754.4 L724.0,2753.3 L725.6,2752.1 L727.3,2751.0 L728.9,2749.8 L730.5,2748.6 L732.0,2747.4 L733.6,2746.1 L735.2,2744.9 L736.7,2743.6 L738.2,2742.3 L739.7,2741.0 L741.2,2739.7 L742.6,2738.4 L744.1,2737.0 L745.5,2735.7 L746.9,2734.3 L748.3,2732.9 L749.7,2731.5 L751.1,2730.0 L752.4,2728.6 L753.7,2727.1 L755.1,2725.6 L756.4,2724.1 L757.6,2722.6 L758.9,2721.1 L760.2,2719.6 L761.4,2718.0 L762.6,2716.5 L763.8,2714.9 L765.0,2713.3 L766.2,2711.7 L767.4,2710.1 L768.6,2708.5 L769.7,2706.9 L770.8,2705.2 L771.9,2703.6 L773.0,2701.9 L774.1,2700.2 L775.2,2698.6 L776.3,2696.9 L777.3,2695.2 L778.4,2693.4 L779.4,2691.7 L780.4,2690.0 L781.4,2688.3 L782.4,2686.5 L783.4,2684.8 L784.4,2683.0 L785.3,2681.2 L786.3,2679.5 L787.2,2677.7 L788.2,2675.9 L789.1,2674.1 L790.0,2672.3 L790.9,2670.5 L791.8,2668.7 L792.7,2666.9 L793.5,2665.1 L794.4,2663.2 L795.3,2661.4 L796.1,2659.6 L796.9,2657.7 L797.8,2655.9 L798.6,2654.1 L799.4,2652.2 L800.2,2650.4 L801.0,2648.5 L801.8,2646.7 L802.6,2644.8 L803.3,2643.0 L804.1,2641.1 L804.9,2639.2 L805.6,2637.4 L806.4,2635.5 L807.1,2633.7 L807.8,2631.8 L808.6,2629.9 L809.3,2628.1 L810.0,2626.2 L810.7,2624.3 L811.4,2622.4 L812.1,2620.6 L812.8,2618.7 L813.5,2616.8 L814.1,2614.9 L814.8,2613.1 L815.5,2611.2 L816.1,2609.3 L816.8,2607.4 L817.4,2605.5 L818.0,2603.6 L818.7,2601.7 L819.3,2599.8 L819.9,2597.9 L820.5,2596.0 L821.1,2594.2 L821.8,2592.3 L822.4,2590.4 L822.9,2588.5 L823.5,2586.6 L824.1,2584.6 L824.7,2582.7 L825.3,2580.8 L825.8,2578.9 L826.4,2577.0 L827.0,2575.1 L827.5,2573.2 L828.1,2571.3 L828.6,2569.4 L829.1,2567.4 L829.7,2565.5 L830.2,2563.6 L830.7,2561.7 L831.3,2559.8 L831.8,2557.8 L832.3,2555.9 L832.8,2554.0 L833.3,2552.1 L833.8,2550.1 L834.3,2548.2 L834.8,2546.3 L835.3,2544.3 L835.8,2542.4 L836.3,2540.5 L836.8,2538.5 L837.2,2536.6 L837.7,2534.7 L838.2,2532.7 L838.6,2530.8 L839.1,2528.9 L839.6,2526.9 L840.0,2525.0 L840.5,2523.0 L840.9,2521.1 L841.4,2519.1 L841.8,2517.2 L842.3,2515.2 L842.7,2513.3 L843.2,2511.3 L843.6,2509.4 L844.1,2507.4 L844.5,2505.5 L844.9,2503.5 L845.4,2501.6 L845.8,2499.6 L846.2,2497.7 L846.6,2495.7 L847.1,2493.7 L847.5,2491.8 L847.9,2489.8 L848.3,2487.9 L848.8,2485.9 L849.2,2483.9 L849.6,2482.0 L850.0,2480.0 L850.4,2478.1 L850.8,2476.1 L851.3,2474.1 L851.7,2472.2 L852.1,2470.2 L852.5,2468.3 L852.9,2466.3 L853.4,2464.3 L853.8,2462.4 L854.2,2460.4 L854.6,2458.5 L855.1,2456.5 L855.5,2454.5 L855.9,2452.6 L856.3,2450.6 L856.8,2448.7 L857.2,2446.7 L857.6,2444.7 L858.1,2442.8 L858.5,2440.8 L858.9,2438.9 L859.4,2436.9 L859.8,2435.0 L860.3,2433.0 L860.7,2431.1 L861.2,2429.1 L861.6,2427.2 L862.1,2425.2 L862.6,2423.3 L863.0,2421.3 L863.5,2419.4 L864.0,2417.4 L864.4,2415.5 L864.9,2413.6 L865.4,2411.6 L865.9,2409.7 L866.4,2407.7 L866.9,2405.8 L867.4,2403.9 L867.9,2401.9 L868.4,2400.0 L868.9,2398.1 L869.4,2396.2 L869.9,2394.2 L870.4,2392.3 L870.9,2390.4 L871.4,2388.4 L872.0,2386.5 L872.5,2384.6 L873.0,2382.7 L873.5,2380.7 L874.0,2378.8 L874.5,2376.9 L875.0,2374.9 L875.6,2373.0 L876.1,2371.1 L876.6,2369.1 L877.1,2367.2 L877.6,2365.3 L878.1,2363.3 L878.6,2361.4 L879.1,2359.5 L879.5,2357.5 L880.0,2355.6 L880.5,2353.7 L881.0,2351.7 L881.5,2349.8 L881.9,2347.8 L882.4,2345.9 L882.9,2343.9 L883.3,2342.0 L883.8,2340.0 L884.3,2338.1 L884.7,2336.1 L885.2,2334.2 L885.7,2332.2 L886.2,2330.3 L886.7,2328.4 L887.1,2326.4 L887.6,2324.5 L888.1,2322.5 L888.7,2320.6 L889.2,2318.7 L889.7,2316.7 L890.3,2314.8 L890.8,2312.9 L891.4,2311.0 L892.0,2309.1 L892.6,2307.2 L893.2,2305.3 L893.8,2303.4 L894.4,2301.5 L895.1,2299.6 L895.8,2297.7 L896.4,2295.8 L897.2,2293.9 L897.9,2292.1 L898.6,2290.2 L899.4,2288.4 L900.2,2286.5 L901.0,2284.7 L901.8,2282.8 L902.6,2281.0 L903.4,2279.2 L904.3,2277.4 L905.1,2275.6 L906.0,2273.8 L906.9,2272.0 L907.8,2270.2 L908.7,2268.4 L909.6,2266.6 L910.5,2264.8 L911.5,2263.1 L912.4,2261.3 L913.4,2259.5 L914.3,2257.8 L915.3,2256.0 L916.3,2254.3 L917.2,2252.5 L918.2,2250.8 L919.2,2249.1 L920.2,2247.3 L921.2,2245.6 L922.2,2243.9 L923.2,2242.2 L924.2,2240.4 L925.2,2238.7 L926.2,2237.0 L927.2,2235.3 L928.2,2233.6 L929.2,2231.8 L930.2,2230.1 L931.2,2228.4 L932.2,2226.7 L933.2,2225.0 L934.1,2223.2 L935.1,2221.5 L936.1,2219.8 L937.1,2218.0 L938.1,2216.3 L939.0,2214.5 L940.0,2212.8 L940.9,2211.0 L941.9,2209.3 L942.8,2207.5 L943.7,2205.7 L944.6,2203.9 L945.5,2202.1 L946.4,2200.3 L947.3,2198.5 L948.2,2196.7 L949.0,2194.9 L949.9,2193.1 L950.7,2191.2 L951.5,2189.4 L952.3,2187.5 L953.1,2185.7 L953.9,2183.8 L954.7,2181.9 L955.5,2180.1 L956.3,2178.2 L957.0,2176.3 L957.8,2174.4 L958.5,2172.5 L959.2,2170.7 L960.0,2168.8 L960.7,2166.9 L961.4,2165.0 L962.1,2163.1 L962.8,2161.2 L963.5,2159.4 L964.1,2157.5 L964.8,2155.6 L965.5,2153.7 L966.1,2151.9 L966.8,2150.0 L967.4,2148.1 L968.1,2146.2 L968.7,2144.4 L969.4,2142.5 L970.0,2140.6 L970.6,2138.8 L971.3,2136.9 L971.9,2135.0 L972.5,2133.2 L973.1,2131.3 L973.7,2129.4 L974.4,2127.6 L975.0,2125.7 L975.6,2123.8 L976.2,2122.0 L976.8,2120.1 L977.4,2118.2 L978.0,2116.4 L978.7,2114.5 L979.3,2112.6 L979.9,2110.7 L980.5,2108.8 L981.1,2107.0 L981.8,2105.1 L982.4,2103.2 L983.0,2101.3 L983.7,2099.4 L984.3,2097.5 L985.0,2095.6 L985.6,2093.7 L986.3,2091.8 L986.9,2089.9 L987.6,2088.0 L988.3,2086.1 L989.0,2084.2 L989.7,2082.2 L990.4,2080.3 L991.1,2078.4 L991.8,2076.4 L992.5,2074.5 L993.2,2072.5 L994.0,2070.6 L994.7,2068.6 L995.5,2066.7 L996.2,2064.7 L997.0,2062.7 L997.8,2060.7 L998.6,2058.7 L999.4,2056.8 L1000.3,2054.8 L1001.1,2052.8 L1002.0,2050.9 L1002.9,2049.0 L1003.9,2047.1 L1004.9,2045.3 L1005.9,2043.6 L1007.0,2042.0 L1008.2,2040.4 L1009.4,2039.0 L1010.7,2037.6 L1012.1,2036.4 L1013.5,2035.3 L1015.0,2034.3 L1016.5,2033.4 L1018.1,2032.7 L1019.7,2032.2 L1021.3,2031.8 L1022.9,2031.6 L1024.5,2031.5 L1026.2,2031.6 L1027.9,2031.9 L1029.5,2032.3 L1031.2,2032.9 L1032.8,2033.6 L1034.4,2034.4 L1035.9,2035.4 L1037.5,2036.5 L1038.9,2037.7 L1040.4,2039.0 L1041.7,2040.3 L1043.0,2041.8 L1044.2,2043.3 L1045.4,2044.9 L1046.5,2046.6 L1047.6,2048.3 L1048.6,2050.1 L1049.6,2052.0 L1050.5,2053.9 L1051.4,2055.8 L1052.3,2057.7 L1053.1,2059.7 L1053.9,2061.7 L1054.7,2063.8 L1055.4,2065.8 L1056.1,2067.9 L1056.8,2069.9 L1057.5,2072.0 L1058.2,2074.0 L1058.9,2076.0 L1059.6,2078.0 L1060.3,2080.0 L1061.0,2082.0 L1061.6,2083.9 L1062.3,2085.8 L1063.0,2087.6 L1063.7,2089.5 L1064.4,2091.3 L1065.1,2093.1 L1065.8,2094.9 L1066.5,2096.7 L1067.2,2098.5 L1067.9,2100.3 L1068.6,2102.1 L1069.3,2103.9 L1070.0,2105.7 L1070.7,2107.6 L1071.4,2109.4 L1072.1,2111.2 L1072.8,2113.1 L1073.5,2114.9 L1074.2,2116.8 L1074.9,2118.7 L1075.7,2120.5 L1076.4,2122.4 L1077.1,2124.2 L1077.8,2126.1 L1078.5,2128.0 L1079.3,2129.8 L1080.0,2131.7 L1080.8,2133.6 L1081.5,2135.4 L1082.3,2137.3 L1083.0,2139.2 L1083.8,2141.0 L1084.6,2142.9 L1085.4,2144.7 L1086.2,2146.6 L1087.0,2148.4 L1087.9,2150.2 L1088.7,2152.1 L1089.6,2153.9 L1090.4,2155.7 L1091.3,2157.5 L1092.2,2159.3 L1093.1,2161.1 L1094.0,2162.9 L1095.0,2164.6 L1095.9,2166.4 L1096.9,2168.2 L1097.9,2169.9 L1098.9,2171.6 L1099.9,2173.3 L1101.0,2175.0 L1102.0,2176.7 L1103.1,2178.4 L1104.2,2180.1 L1105.3,2181.8 L1106.4,2183.4 L1107.5,2185.1 L1108.6,2186.7 L1109.7,2188.4 L1110.8,2190.0 L1112.0,2191.6 L1113.1,2193.3 L1114.3,2194.9 L1115.4,2196.5 L1116.6,2198.2 L1117.8,2199.8 L1118.9,2201.4 L1120.1,2203.0 L1121.2,2204.7 L1122.4,2206.3 L1123.6,2207.9 L1124.7,2209.6 L1125.9,2211.2 L1127.0,2212.8 L1128.1,2214.5 L1129.3,2216.1 L1130.4,2217.8 L1131.5,2219.4 L1132.7,2221.1 L1133.8,2222.7 L1134.9,2224.4 L1136.0,2226.1 L1137.1,2227.8 L1138.2,2229.4 L1139.3,2231.1 L1140.4,2232.8 L1141.5,2234.5 L1142.5,2236.2 L1143.6,2237.9 L1144.7,2239.6 L1145.7,2241.3 L1146.8,2243.0 L1147.8,2244.7 L1148.8,2246.4 L1149.8,2248.1 L1150.9,2249.8 L1151.9,2251.6 L1152.9,2253.3 L1153.8,2255.0 L1154.8,2256.8 L1155.8,2258.5 L1156.8,2260.3 L1157.7,2262.0 L1158.7,2263.8 L1159.6,2265.5 L1160.5,2267.3 L1161.4,2269.1 L1162.3,2270.9 L1163.2,2272.6 L1164.1,2274.4 L1165.0,2276.2 L1165.9,2278.0 L1166.7,2279.8 L1167.5,2281.6 L1168.4,2283.4 L1169.2,2285.3 L1170.0,2287.1 L1170.8,2288.9 L1171.6,2290.7 L1172.4,2292.6 L1173.1,2294.4 L1173.9,2296.3 L1174.6,2298.1 L1175.3,2300.0 L1176.0,2301.8 L1176.7,2303.7 L1177.4,2305.6 L1178.1,2307.5 L1178.7,2309.4 L1179.3,2311.3 L1180.0,2313.2 L1180.6,2315.1 L1181.2,2317.0 L1181.8,2318.9 L1182.4,2320.8 L1183.0,2322.7 L1183.6,2324.6 L1184.1,2326.5 L1184.7,2328.5 L1185.2,2330.4 L1185.8,2332.3 L1186.3,2334.3 L1186.9,2336.2 L1187.4,2338.1 L1188.0,2340.1 L1188.5,2342.0 L1189.0,2343.9 L1189.6,2345.9 L1190.1,2347.8 L1190.7,2349.7 L1191.2,2351.7 L1191.7,2353.6 L1192.3,2355.5 L1192.8,2357.5 L1193.4,2359.4 L1194.0,2361.3 L1194.5,2363.2 L1195.1,2365.1 L1195.7,2367.1 L1196.3,2369.0 L1196.9,2370.9 L1197.5,2372.8 L1198.1,2374.7 L1198.7,2376.6 L1199.3,2378.5 L1200.0,2380.4 L1200.6,2382.3 L1201.2,2384.2 L1201.9,2386.1 L1202.5,2388.0 L1203.2,2389.9 L1203.8,2391.8 L1204.5,2393.7 L1205.1,2395.5 L1205.8,2397.4 L1206.4,2399.3 L1207.1,2401.2 L1207.8,2403.1 L1208.4,2405.0 L1209.1,2406.9 L1209.8,2408.7 L1210.4,2410.6 L1211.1,2412.5 L1211.7,2414.4 L1212.4,2416.3 L1213.1,2418.2 L1213.7,2420.0 L1214.4,2421.9 L1215.0,2423.8 L1215.7,2425.7 L1216.4,2427.6 L1217.0,2429.5 L1217.7,2431.4 L1218.3,2433.3 L1218.9,2435.1 L1219.6,2437.0 L1220.2,2438.9 L1220.8,2440.8 L1221.5,2442.7 L1222.1,2444.6 L1222.7,2446.5 L1223.4,2448.4 L1224.0,2450.3 L1224.6,2452.2 L1225.2,2454.1 L1225.8,2456.0 L1226.5,2457.9 L1227.1,2459.8 L1227.7,2461.7 L1228.3,2463.6 L1228.9,2465.5 L1229.5,2467.4 L1230.1,2469.4 L1230.7,2471.3 L1231.4,2473.2 L1232.0,2475.1 L1232.6,2477.0 L1233.2,2478.9 L1233.8,2480.8 L1234.4,2482.7 L1235.0,2484.6 L1235.6,2486.5 L1236.2,2488.4 L1236.8,2490.3 L1237.4,2492.2 L1238.0,2494.1 L1238.7,2496.0 L1239.3,2497.9 L1239.9,2499.8 L1240.5,2501.7 L1241.1,2503.6 L1241.7,2505.5 L1242.3,2507.4 L1243.0,2509.3 L1243.6,2511.2 L1244.2,2513.1 L1244.8,2515.0 L1245.4,2516.9 L1246.1,2518.8 L1246.7,2520.7 L1247.3,2522.6 L1248.0,2524.5 L1248.6,2526.4 L1249.2,2528.3 L1249.9,2530.2 L1250.5,2532.1 L1251.2,2534.0 L1251.8,2535.9 L1252.5,2537.8 L1253.1,2539.7 L1253.8,2541.6 L1254.4,2543.4 L1255.1,2545.3 L1255.8,2547.2 L1256.5,2549.1 L1257.1,2551.0 L1257.8,2552.8 L1258.5,2554.7 L1259.2,2556.6 L1259.9,2558.5 L1260.6,2560.3 L1261.3,2562.2 L1262.0,2564.1 L1262.7,2565.9 L1263.4,2567.8 L1264.1,2569.7 L1264.9,2571.5 L1265.6,2573.4 L1266.3,2575.2 L1267.1,2577.1 L1267.8,2578.9 L1268.6,2580.8 L1269.3,2582.6 L1270.1,2584.5 L1270.8,2586.3 L1271.6,2588.2 L1272.4,2590.0 L1273.2,2591.8 L1274.0,2593.7 L1274.8,2595.5 L1275.6,2597.3 L1276.4,2599.2 L1277.2,2601.0 L1278.0,2602.8 L1278.9,2604.6 L1279.7,2606.4 L1280.5,2608.3 L1281.4,2610.1 L1282.3,2611.9 L1283.1,2613.7 L1284.0,2615.5 L1284.9,2617.3 L1285.8,2619.1 L1286.7,2620.9 L1287.6,2622.7 L1288.5,2624.4 L1289.4,2626.2 L1290.3,2628.0 L1291.3,2629.8 L1292.2,2631.6 L1293.2,2633.3 L1294.1,2635.1 L1295.1,2636.8 L1296.1,2638.6 L1297.1,2640.4 L1298.1,2642.1 L1299.1,2643.8 L1300.1,2645.6 L1301.1,2647.3 L1302.1,2649.0 L1303.2,2650.8 L1304.2,2652.5 L1305.3,2654.2 L1306.3,2655.9 L1307.4,2657.6 L1308.5,2659.3 L1309.5,2661.0 L1310.6,2662.7 L1311.7,2664.3 L1312.9,2666.0 L1314.0,2667.7 L1315.1,2669.3 L1316.2,2671.0 L1317.4,2672.6 L1318.5,2674.3 L1319.7,2675.9 L1320.9,2677.5 L1322.1,2679.1 L1323.2,2680.7 L1324.4,2682.3 L1325.6,2683.9 L1326.9,2685.5 L1328.1,2687.1 L1329.3,2688.6 L1330.6,2690.2 L1331.8,2691.8 L1333.1,2693.3 L1334.4,2694.8 L1335.6,2696.4 L1336.9,2697.9 L1338.2,2699.4 L1339.5,2700.9 L1340.8,2702.4 L1342.2,2703.8 L1343.5,2705.3 L1344.9,2706.8 L1346.2,2708.2 L1347.6,2709.6 L1349.0,2711.1 L1350.4,2712.5 L1351.8,2713.9 L1353.2,2715.2 L1354.6,2716.6 L1356.0,2718.0 L1357.5,2719.3 L1359.0,2720.6 L1360.4,2721.9 L1361.9,2723.2 L1363.4,2724.5 L1364.9,2725.8 L1366.5,2727.0 L1368.0,2728.3 L1369.6,2729.5 L1371.2,2730.7 L1372.7,2731.9 L1374.3,2733.0 L1376.0,2734.2 L1377.6,2735.3 L1379.2,2736.4 L1380.9,2737.5 L1382.6,2738.5 L1384.3,2739.6 L1386.0,2740.6 L1387.7,2741.6 L1389.4,2742.6 L1391.2,2743.6 L1392.9,2744.6 L1394.7,2745.5 L1396.5,2746.5 L1398.3,2747.4 L1400.1,2748.3 L1401.9,2749.2 L1403.7,2750.0 L1405.5,2750.9 L1407.3,2751.7 L1409.2,2752.6 L1411.0,2753.4 L1412.9,2754.2 L1414.8,2755.0 L1416.6,2755.8 L1418.5,2756.5 L1420.4,2757.3 L1422.3,2758.0 L1424.2,2758.7 L1426.0,2759.5 L1427.9,2760.2 L1429.8,2760.9 L1431.7,2761.6 L1433.7,2762.2 L1435.6,2762.9 L1437.5,2763.6 L1439.4,2764.2 L1441.3,2764.8 L1443.2,2765.5 L1445.1,2766.1 L1447.0,2766.7 L1448.9,2767.3 L1450.9,2767.9 L1452.8,2768.5 L1454.7,2769.1 L1456.6,2769.6 L1458.5,2770.2 L1460.4,2770.8 L1462.4,2771.3 L1464.3,2771.8 L1466.2,2772.4 L1468.1,2772.9 L1470.1,2773.4 L1472.0,2773.9 L1473.9,2774.4 L1475.8,2774.9 L1477.8,2775.4 L1479.7,2775.9 L1481.6,2776.4 L1483.6,2776.8 L1485.5,2777.3 L1487.4,2777.7 L1489.3,2778.2 L1491.3,2778.6 L1493.2,2779.1 L1495.2,2779.5 L1497.1,2779.9 L1499.0,2780.3 L1501.0,2780.7 L1502.9,2781.1 L1504.9,2781.5 L1506.8,2781.9 L1508.7,2782.3 L1510.7,2782.7 L1512.6,2783.1 L1514.6,2783.5 L1516.5,2783.8 L1518.5,2784.2 L1520.4,2784.5 L1522.4,2784.9 L1524.4,2785.2 L1526.3,2785.6 L1528.3,2785.9 L1530.2,2786.2 L1532.2,2786.5 L1534.1,2786.9 L1536.1,2787.2 L1538.1,2787.5 L1540.0,2787.8 L1542.0,2788.1 L1544.0,2788.4 L1545.9,2788.7 L1547.9,2789.0 L1549.9,2789.2 L1551.8,2789.5 L1553.8,2789.8 L1555.8,2790.0 L1557.8,2790.3 L1559.7,2790.6 L1561.7,2790.8 L1563.7,2791.1 L1565.7,2791.3 L1567.6,2791.5 L1569.6,2791.8 L1571.6,2792.0 L1573.6,2792.2 L1575.6,2792.5 L1577.5,2792.7 L1579.5,2792.9 L1581.5,2793.1 L1583.5,2793.3 L1585.5,2793.5 L1587.5,2793.7 L1589.4,2793.9 L1591.4,2794.1 L1593.4,2794.3 L1595.4,2794.5 L1597.4,2794.7 L1599.4,2794.8 L1601.4,2795.0 L1603.4,2795.2 L1605.4,2795.3 L1607.4,2795.5 L1609.4,2795.7 L1611.3,2795.8 L1613.3,2796.0 L1615.3,2796.1 L1617.3,2796.3 L1619.3,2796.4 L1621.3,2796.6 L1623.3,2796.7 L1625.3,2796.8 L1627.3,2797.0 L1629.3,2797.1 L1631.3,2797.2 L1633.3,2797.3 L1635.3,2797.5 L1637.3,2797.6 L1639.3,2797.7 L1641.3,2797.8 L1643.3,2797.9 L1645.3,2798.0 L1647.3,2798.1 L1649.3,2798.2 L1651.3,2798.3 L1653.4,2798.4 L1655.4,2798.5 L1657.4,2798.6 L1659.4,2798.7 L1661.4,2798.8 L1663.4,2798.9 L1665.4,2799.0 L1667.4,2799.1 L1669.4,2799.1 L1671.4,2799.2 L1673.4,2799.3 L1675.4,2799.4 L1677.4,2799.5 L1679.4,2799.5 L1681.4,2799.6 L1683.5,2799.7 L1685.5,2799.7 L1687.5,2799.8 L1689.5,2799.9 L1691.5,2799.9 L1693.5,2800.0 L1695.5,2800.0 L1697.5,2800.1 L1699.5,2800.2 L1701.5,2800.2 L1703.6,2800.3 L1705.6,2800.3 L1707.6,2800.4 L1709.6,2800.4 L1711.6,2800.5 L1713.6,2800.5 L1715.6,2800.6 L1717.6,2800.6 L1719.6,2800.6 L1721.6,2800.7 L1723.7,2800.7 L1725.7,2800.8 L1727.7,2800.8 L1729.7,2800.9 L1731.7,2800.9 L1733.7,2800.9 L1735.7,2801.0 L1737.7,2801.0 L1739.7,2801.1 L1741.7,2801.1 L1743.7,2801.1 L1745.7,2801.2 L1747.8,2801.2 L1749.8,2801.2 L1751.8,2801.3 L1753.8,2801.3 L1755.8,2801.4 L1757.8,2801.4 L1759.8,2801.4 L1761.8,2801.5 L1763.8,2801.5 L1765.8,2801.5 L1767.8,2801.6 L1769.8,2801.6 L1771.8,2801.7 L1773.8,2801.7 L1775.8,2801.7 L1777.8,2801.8 L1779.8,2801.8 L1781.8,2801.8 L1783.8,2801.9 L1785.8,2801.9 L1787.8,2802.0 L1789.8,2802.0 L1791.8,2802.0 L1793.8,2802.1 L1795.8,2802.1 L1797.8,2802.2 L1799.8,2802.2 L1801.8,2802.3 L1803.8,2802.3 L1805.8,2802.4 L1807.8,2802.4 L1809.8,2802.5 L1811.8,2802.5 L1813.8,2802.6 L1815.8,2802.6 L1817.8,2802.7 L1819.8,2802.7 L1821.8,2802.8 L1823.8,2802.8 L1825.8,2802.9 L1827.8,2803.0 L1829.7,2803.0 L1831.7,2803.1 L1833.7,2803.2 L1835.7,2803.2 L1837.7,2803.3 L1839.7,2803.4 L1841.7,2803.4 L1843.6,2803.5 L1845.6,2803.6 L1847.6,2803.7 L1849.6,2803.8 L1851.6,2803.8 L1853.5,2803.9 L1855.5,2804.0 L1857.5,2804.1 L1859.5,2804.2 L1861.4,2804.3 L1861.9,2804.3" fill="none" stroke="#000" stroke-width="11.5" stroke-linejoin="round" stroke-linecap="round"/>
<path d="M241.4,2850.3 L243.4,2850.3 L245.4,2850.2 L247.4,2850.2 L249.4,2850.1 L251.4,2850.0 L253.4,2850.0 L255.4,2849.9 L257.4,2849.9 L259.4,2849.8 L261.4,2849.8 L263.4,2849.7 L265.4,2849.6 L267.4,2849.6 L269.4,2849.5 L271.4,2849.5 L273.4,2849.4 L275.4,2849.3 L277.4,2849.3 L279.4,2849.2 L281.4,2849.2 L283.4,2849.1 L285.4,2849.0 L287.4,2849.0 L289.4,2848.9 L291.4,2848.8 L293.4,2848.8 L295.4,2848.7 L297.4,2848.7 L299.4,2848.6 L301.4,2848.5 L303.4,2848.5 L305.5,2848.4 L307.5,2848.3 L309.5,2848.3 L311.5,2848.2 L313.5,2848.1 L315.5,2848.1 L317.5,2848.0 L319.5,2847.9 L321.5,2847.8 L323.5,2847.8 L325.5,2847.7 L327.5,2847.6 L329.5,2847.5 L331.5,2847.5 L333.4,2847.4 L335.4,2847.3 L337.4,2847.2 L339.4,2847.2 L341.4,2847.1 L343.4,2847.0 L345.4,2846.9 L347.4,2846.8 L349.4,2846.8 L351.4,2846.7 L353.4,2846.6 L355.4,2846.5 L357.4,2846.4 L359.4,2846.3 L361.4,2846.3 L363.4,2846.2 L365.4,2846.1 L367.4,2846.0 L369.4,2845.9 L371.4,2845.8 L373.4,2845.7 L375.4,2845.6 L377.4,2845.5 L379.4,2845.4 L381.4,2845.3 L383.4,2845.2 L385.4,2845.1 L387.4,2845.0 L389.4,2844.9 L391.4,2844.8 L393.4,2844.7 L395.4,2844.6 L397.4,2844.5 L399.4,2844.4 L401.3,2844.3 L403.3,2844.2 L405.3,2844.1 L407.3,2844.0 L409.3,2843.8 L411.3,2843.7 L413.3,2843.6 L415.3,2843.5 L417.3,2843.4 L419.3,2843.3 L421.3,2843.1 L423.3,2843.0 L425.3,2842.9 L427.3,2842.8 L429.3,2842.6 L431.3,2842.5 L433.3,2842.4 L435.2,2842.3 L437.2,2842.1 L439.2,2842.0 L441.2,2841.9 L443.2,2841.7 L445.2,2841.6 L447.2,2841.5 L449.2,2841.3 L451.2,2841.2 L453.2,2841.0 L455.2,2840.9 L457.2,2840.7 L459.1,2840.6 L461.1,2840.4 L463.1,2840.3 L465.1,2840.1 L467.1,2840.0 L469.1,2839.8 L471.1,2839.7 L473.1,2839.5 L475.1,2839.4 L477.1,2839.2 L479.1,2839.0 L481.0,2838.9 L483.0,2838.7 L485.0,2838.5 L487.0,2838.4 L489.0,2838.2 L491.0,2838.0 L493.0,2837.8 L495.0,2837.7 L497.0,2837.5 L498.9,2837.3 L500.9,2837.1 L502.9,2836.9 L504.9,2836.7 L506.9,2836.6 L508.9,2836.4 L510.9,2836.2 L512.9,2836.0 L514.9,2835.8 L516.8,2835.6 L518.8,2835.4 L520.8,2835.2 L522.8,2835.0 L524.8,2834.8 L526.8,2834.6 L528.8,2834.4 L530.7,2834.1 L532.7,2833.9 L534.7,2833.7 L536.7,2833.5 L538.7,2833.3 L540.7,2833.1 L542.7,2832.8 L544.6,2832.6 L546.6,2832.4 L548.6,2832.1 L550.6,2831.9 L552.6,2831.7 L554.6,2831.4 L556.6,2831.2 L558.5,2831.0 L560.5,2830.7 L562.5,2830.5 L564.5,2830.2 L566.5,2830.0 L568.5,2829.7 L570.4,2829.5 L572.4,2829.2 L574.4,2828.9 L576.4,2828.7 L578.4,2828.4 L580.4,2828.2 L582.4,2827.9 L584.3,2827.6 L586.3,2827.3 L588.3,2827.1 L590.3,2826.8 L592.3,2826.5 L594.2,2826.2 L596.2,2825.9 L598.2,2825.7 L600.2,2825.4 L602.2,2825.1 L604.2,2824.8 L606.1,2824.5 L608.1,2824.2 L610.1,2823.9 L612.1,2823.6 L614.1,2823.3 L616.0,2823.0 L618.0,2822.6 L620.0,2822.3 L622.0,2822.0 L624.0,2821.7 L625.9,2821.4 L627.9,2821.0 L629.9,2820.7 L631.9,2820.4 L633.9,2820.0 L635.8,2819.7 L637.8,2819.4 L639.8,2819.0 L641.8,2818.7 L643.8,2818.3 L645.7,2818.0 L647.7,2817.6 L649.7,2817.3 L651.7,2816.9 L653.6,2816.6 L655.6,2816.2 L657.6,2815.8 L659.6,2815.4 L661.5,2815.1 L663.5,2814.7 L665.5,2814.3 L667.5,2813.9 L669.4,2813.5 L671.4,2813.1 L673.3,2812.7 L675.3,2812.2 L677.3,2811.8 L679.2,2811.4 L681.2,2810.9 L683.1,2810.5 L685.1,2810.0 L687.0,2809.6 L689.0,2809.1 L690.9,2808.7 L692.9,2808.2 L694.8,2807.7 L696.8,2807.2 L698.7,2806.7 L700.6,2806.2 L702.6,2805.7 L704.5,2805.1 L706.4,2804.6 L708.3,2804.0 L710.2,2803.5 L712.1,2802.9 L714.1,2802.3 L716.0,2801.8 L717.9,2801.2 L719.8,2800.6 L721.6,2800.0 L723.5,2799.3 L725.4,2798.7 L727.3,2798.0 L729.2,2797.4 L731.1,2796.7 L732.9,2796.0 L734.8,2795.3 L736.6,2794.6 L738.5,2793.9 L740.3,2793.2 L742.2,2792.5 L744.0,2791.7 L745.9,2790.9 L747.7,2790.2 L749.5,2789.4 L751.3,2788.6 L753.1,2787.8 L754.9,2786.9 L756.7,2786.1 L758.5,2785.2 L760.3,2784.4 L762.1,2783.5 L763.9,2782.6 L765.6,2781.7 L767.4,2780.7 L769.2,2779.8 L770.9,2778.8 L772.7,2777.8 L774.4,2776.9 L776.1,2775.9 L777.9,2774.8 L779.6,2773.8 L781.3,2772.8 L783.0,2771.7 L784.7,2770.6 L786.4,2769.5 L788.0,2768.4 L789.7,2767.3 L791.4,2766.2 L793.0,2765.0 L794.7,2763.9 L796.3,2762.7 L797.9,2761.5 L799.5,2760.3 L801.2,2759.1 L802.8,2757.9 L804.3,2756.6 L805.9,2755.4 L807.5,2754.1 L809.1,2752.8 L810.6,2751.5 L812.1,2750.2 L813.7,2748.9 L815.2,2747.6 L816.7,2746.3 L818.2,2744.9 L819.7,2743.6 L821.2,2742.2 L822.6,2740.8 L824.1,2739.4 L825.5,2738.0 L827.0,2736.6 L828.4,2735.2 L829.8,2733.8 L831.2,2732.3 L832.6,2730.9 L833.9,2729.4 L835.3,2727.9 L836.6,2726.4 L838.0,2724.9 L839.3,2723.4 L840.6,2721.9 L841.9,2720.4 L843.1,2718.9 L844.4,2717.3 L845.7,2715.8 L846.9,2714.2 L848.1,2712.6 L849.3,2711.0 L850.5,2709.5 L851.7,2707.9 L852.9,2706.3 L854.0,2704.6 L855.2,2703.0 L856.3,2701.4 L857.4,2699.8 L858.5,2698.1 L859.6,2696.5 L860.7,2694.8 L861.7,2693.1 L862.8,2691.5 L863.8,2689.8 L864.9,2688.1 L865.9,2686.4 L866.9,2684.7 L867.9,2683.0 L868.9,2681.3 L869.8,2679.5 L870.8,2677.8 L871.7,2676.1 L872.7,2674.3 L873.6,2672.6 L874.5,2670.8 L875.4,2669.0 L876.3,2667.3 L877.2,2665.5 L878.1,2663.7 L879.0,2661.9 L879.8,2660.1 L880.7,2658.3 L881.5,2656.5 L882.3,2654.7 L883.2,2652.9 L884.0,2651.1 L884.8,2649.3 L885.6,2647.4 L886.4,2645.6 L887.1,2643.8 L887.9,2641.9 L888.7,2640.1 L889.4,2638.2 L890.2,2636.4 L890.9,2634.5 L891.6,2632.7 L892.4,2630.8 L893.1,2628.9 L893.8,2627.0 L894.5,2625.2 L895.2,2623.3 L895.9,2621.4 L896.6,2619.5 L897.2,2617.6 L897.9,2615.7 L898.6,2613.8 L899.2,2611.9 L899.9,2610.0 L900.5,2608.1 L901.2,2606.2 L901.8,2604.3 L902.4,2602.4 L903.1,2600.4 L903.7,2598.5 L904.3,2596.6 L904.9,2594.7 L905.5,2592.8 L906.1,2590.8 L906.7,2588.9 L907.3,2587.0 L907.9,2585.0 L908.5,2583.1 L909.1,2581.2 L909.7,2579.2 L910.3,2577.3 L910.8,2575.4 L911.4,2573.4 L912.0,2571.5 L912.6,2569.5 L913.1,2567.6 L913.7,2565.7 L914.2,2563.7 L914.8,2561.8 L915.4,2559.8 L915.9,2557.9 L916.5,2556.0 L917.0,2554.0 L917.6,2552.1 L918.1,2550.1 L918.7,2548.2 L919.2,2546.3 L919.8,2544.3 L920.3,2542.4 L920.8,2540.5 L921.4,2538.5 L921.9,2536.6 L922.5,2534.7 L923.0,2532.7 L923.6,2530.8 L924.1,2528.9 L924.6,2526.9 L925.2,2525.0 L925.7,2523.1 L926.2,2521.1 L926.8,2519.2 L927.3,2517.3 L927.9,2515.3 L928.4,2513.4 L928.9,2511.5 L929.4,2509.6 L930.0,2507.6 L930.5,2505.7 L931.0,2503.8 L931.6,2501.8 L932.1,2499.9 L932.6,2498.0 L933.1,2496.1 L933.7,2494.1 L934.2,2492.2 L934.7,2490.3 L935.2,2488.4 L935.7,2486.4 L936.3,2484.5 L936.8,2482.6 L937.3,2480.7 L937.8,2478.8 L938.3,2476.8 L938.8,2474.9 L939.4,2473.0 L939.9,2471.1 L940.4,2469.1 L940.9,2467.2 L941.4,2465.3 L941.9,2463.4 L942.4,2461.4 L942.9,2459.5 L943.4,2457.6 L943.9,2455.7 L944.4,2453.7 L944.9,2451.8 L945.4,2449.9 L945.9,2448.0 L946.4,2446.0 L946.9,2444.1 L947.4,2442.2 L947.9,2440.3 L948.4,2438.3 L948.9,2436.4 L949.4,2434.5 L949.9,2432.6 L950.3,2430.6 L950.8,2428.7 L951.3,2426.8 L951.8,2424.8 L952.3,2422.9 L952.8,2421.0 L953.2,2419.1 L953.7,2417.1 L954.2,2415.2 L954.7,2413.3 L955.1,2411.3 L955.6,2409.4 L956.1,2407.5 L956.6,2405.5 L957.0,2403.6 L957.5,2401.7 L958.0,2399.7 L958.4,2397.8 L958.9,2395.8 L959.4,2393.9 L959.8,2392.0 L960.3,2390.0 L960.7,2388.1 L961.2,2386.1 L961.7,2384.2 L962.1,2382.3 L962.6,2380.3 L963.0,2378.4 L963.5,2376.4 L963.9,2374.5 L964.4,2372.5 L964.8,2370.6 L965.3,2368.6 L965.7,2366.7 L966.2,2364.7 L966.6,2362.8 L967.0,2360.8 L967.5,2358.9 L967.9,2356.9 L968.3,2355.0 L968.8,2353.0 L969.2,2351.0 L969.6,2349.1 L970.1,2347.1 L970.5,2345.2 L970.9,2343.2 L971.3,2341.2 L971.8,2339.3 L972.2,2337.3 L972.6,2335.3 L973.0,2333.4 L973.4,2331.4 L973.9,2329.4 L974.3,2327.4 L974.7,2325.5 L975.1,2323.5 L975.5,2321.5 L975.9,2319.6 L976.4,2317.6 L976.8,2315.6 L977.2,2313.6 L977.6,2311.7 L978.0,2309.7 L978.5,2307.7 L978.9,2305.8 L979.3,2303.8 L979.8,2301.9 L980.2,2299.9 L980.6,2297.9 L981.1,2296.0 L981.5,2294.0 L982.0,2292.1 L982.4,2290.2 L982.9,2288.2 L983.4,2286.3 L983.8,2284.3 L984.3,2282.4 L984.8,2280.5 L985.3,2278.6 L985.8,2276.7 L986.3,2274.8 L986.8,2272.9 L987.3,2271.0 L987.8,2269.1 L988.4,2267.2 L988.9,2265.3 L989.4,2263.4 L990.0,2261.6 L990.6,2259.7 L991.1,2257.9 L991.7,2256.0 L992.3,2254.2 L992.9,2252.3 L993.6,2250.5 L994.2,2248.6 L994.9,2246.7 L995.6,2244.8 L996.3,2242.9 L997.1,2240.9 L997.9,2238.9 L998.7,2236.9 L999.6,2234.9 L1000.5,2232.8 L1001.5,2230.8 L1002.5,2228.8 L1003.6,2226.8 L1004.8,2224.9 L1006.1,2223.1 L1007.5,2221.4 L1009.0,2219.8 L1010.5,2218.4 L1012.2,2217.0 L1014.0,2215.9 L1015.9,2215.0 L1017.7,2214.2 L1019.5,2213.8 L1021.2,2213.6 L1022.8,2213.7 L1024.3,2214.0 L1025.7,2214.7 L1026.9,2215.6 L1028.1,2216.7 L1029.2,2217.9 L1030.2,2219.4 L1031.1,2220.9 L1032.0,2222.6 L1032.9,2224.4 L1033.7,2226.3 L1034.5,2228.1 L1035.2,2230.0 L1036.0,2231.9 L1036.8,2233.8 L1037.5,2235.7 L1038.3,2237.6 L1039.0,2239.5 L1039.8,2241.4 L1040.5,2243.3 L1041.2,2245.2 L1041.9,2247.1 L1042.6,2249.0 L1043.3,2250.9 L1044.0,2252.8 L1044.7,2254.7 L1045.4,2256.7 L1046.0,2258.6 L1046.7,2260.5 L1047.4,2262.4 L1048.0,2264.3 L1048.6,2266.2 L1049.3,2268.1 L1049.9,2270.1 L1050.5,2272.0 L1051.2,2273.9 L1051.8,2275.8 L1052.4,2277.7 L1053.0,2279.7 L1053.6,2281.6 L1054.2,2283.5 L1054.7,2285.4 L1055.3,2287.4 L1055.9,2289.3 L1056.5,2291.2 L1057.0,2293.1 L1057.6,2295.1 L1058.1,2297.0 L1058.7,2298.9 L1059.2,2300.9 L1059.8,2302.8 L1060.3,2304.7 L1060.8,2306.7 L1061.4,2308.6 L1061.9,2310.5 L1062.4,2312.5 L1062.9,2314.4 L1063.4,2316.3 L1063.9,2318.3 L1064.4,2320.2 L1064.9,2322.2 L1065.4,2324.1 L1065.9,2326.0 L1066.4,2328.0 L1066.9,2329.9 L1067.4,2331.9 L1067.8,2333.8 L1068.3,2335.8 L1068.8,2337.7 L1069.3,2339.6 L1069.7,2341.6 L1070.2,2343.5 L1070.6,2345.5 L1071.1,2347.4 L1071.6,2349.4 L1072.0,2351.3 L1072.5,2353.3 L1072.9,2355.2 L1073.4,2357.2 L1073.8,2359.1 L1074.2,2361.1 L1074.7,2363.0 L1075.1,2365.0 L1075.6,2366.9 L1076.0,2368.9 L1076.4,2370.8 L1076.9,2372.8 L1077.3,2374.7 L1077.7,2376.7 L1078.2,2378.6 L1078.6,2380.6 L1079.0,2382.5 L1079.4,2384.5 L1079.9,2386.4 L1080.3,2388.4 L1080.7,2390.3 L1081.2,2392.3 L1081.6,2394.2 L1082.0,2396.2 L1082.4,2398.1 L1082.9,2400.1 L1083.3,2402.1 L1083.7,2404.0 L1084.1,2406.0 L1084.6,2407.9 L1085.0,2409.9 L1085.4,2411.8 L1085.8,2413.8 L1086.3,2415.7 L1086.7,2417.7 L1087.1,2419.6 L1087.5,2421.6 L1088.0,2423.5 L1088.4,2425.5 L1088.8,2427.4 L1089.3,2429.4 L1089.7,2431.3 L1090.1,2433.3 L1090.6,2435.2 L1091.0,2437.2 L1091.4,2439.1 L1091.9,2441.1 L1092.3,2443.0 L1092.8,2445.0 L1093.2,2446.9 L1093.6,2448.9 L1094.1,2450.8 L1094.5,2452.8 L1095.0,2454.7 L1095.4,2456.7 L1095.9,2458.6 L1096.3,2460.6 L1096.8,2462.5 L1097.2,2464.5 L1097.7,2466.4 L1098.2,2468.3 L1098.6,2470.3 L1099.1,2472.2 L1099.5,2474.2 L1100.0,2476.1 L1100.5,2478.1 L1100.9,2480.0 L1101.4,2481.9 L1101.9,2483.9 L1102.4,2485.8 L1102.9,2487.8 L1103.3,2489.7 L1103.8,2491.6 L1104.3,2493.6 L1104.8,2495.5 L1105.3,2497.4 L1105.8,2499.4 L1106.3,2501.3 L1106.8,2503.2 L1107.3,2505.2 L1107.8,2507.1 L1108.3,2509.0 L1108.8,2511.0 L1109.3,2512.9 L1109.8,2514.8 L1110.3,2516.7 L1110.9,2518.7 L1111.4,2520.6 L1111.9,2522.5 L1112.4,2524.4 L1113.0,2526.4 L1113.5,2528.3 L1114.1,2530.2 L1114.6,2532.1 L1115.1,2534.0 L1115.7,2536.0 L1116.3,2537.9 L1116.8,2539.8 L1117.4,2541.7 L1117.9,2543.6 L1118.5,2545.5 L1119.1,2547.5 L1119.7,2549.4 L1120.2,2551.3 L1120.8,2553.2 L1121.4,2555.1 L1122.0,2557.0 L1122.6,2558.9 L1123.2,2560.8 L1123.8,2562.7 L1124.4,2564.6 L1125.0,2566.5 L1125.6,2568.4 L1126.3,2570.3 L1126.9,2572.2 L1127.5,2574.1 L1128.1,2576.0 L1128.8,2577.9 L1129.4,2579.8 L1130.1,2581.7 L1130.7,2583.5 L1131.4,2585.4 L1132.0,2587.3 L1132.7,2589.2 L1133.4,2591.1 L1134.1,2593.0 L1134.7,2594.8 L1135.4,2596.7 L1136.1,2598.6 L1136.8,2600.5 L1137.5,2602.4 L1138.2,2604.2 L1138.9,2606.1 L1139.6,2608.0 L1140.4,2609.8 L1141.1,2611.7 L1141.8,2613.6 L1142.6,2615.4 L1143.3,2617.3 L1144.0,2619.1 L1144.8,2621.0 L1145.6,2622.9 L1146.3,2624.7 L1147.1,2626.6 L1147.9,2628.4 L1148.7,2630.3 L1149.5,2632.1 L1150.2,2634.0 L1151.0,2635.8 L1151.9,2637.7 L1152.7,2639.5 L1153.5,2641.3 L1154.3,2643.2 L1155.1,2645.0 L1156.0,2646.8 L1156.8,2648.7 L1157.7,2650.5 L1158.5,2652.3 L1159.4,2654.2 L1160.3,2656.0 L1161.1,2657.8 L1162.0,2659.6 L1162.9,2661.4 L1163.8,2663.3 L1164.7,2665.1 L1165.6,2666.9 L1166.5,2668.7 L1167.5,2670.5 L1168.4,2672.3 L1169.3,2674.1 L1170.3,2675.9 L1171.2,2677.7 L1172.2,2679.5 L1173.2,2681.2 L1174.2,2683.0 L1175.1,2684.8 L1176.1,2686.5 L1177.2,2688.3 L1178.2,2690.1 L1179.2,2691.8 L1180.2,2693.5 L1181.3,2695.2 L1182.3,2697.0 L1183.4,2698.7 L1184.5,2700.4 L1185.6,2702.1 L1186.7,2703.7 L1187.8,2705.4 L1188.9,2707.0 L1190.1,2708.7 L1191.2,2710.3 L1192.4,2711.9 L1193.6,2713.6 L1194.7,2715.2 L1196.0,2716.7 L1197.2,2718.3 L1198.4,2719.9 L1199.6,2721.4 L1200.9,2722.9 L1202.2,2724.4 L1203.4,2725.9 L1204.7,2727.4 L1206.0,2728.9 L1207.4,2730.3 L1208.7,2731.8 L1210.1,2733.2 L1211.4,2734.6 L1212.8,2736.0 L1214.2,2737.3 L1215.7,2738.7 L1217.1,2740.0 L1218.5,2741.3 L1220.0,2742.6 L1221.5,2743.9 L1223.0,2745.1 L1224.5,2746.3 L1226.1,2747.6 L1227.6,2748.7 L1229.2,2749.9 L1230.8,2751.0 L1232.4,2752.2 L1234.0,2753.3 L1235.6,2754.4 L1237.3,2755.4 L1239.0,2756.5 L1240.6,2757.5 L1242.3,2758.5 L1244.0,2759.5 L1245.8,2760.5 L1247.5,2761.4 L1249.3,2762.3 L1251.0,2763.3 L1252.8,2764.2 L1254.6,2765.0 L1256.4,2765.9 L1258.2,2766.8 L1260.0,2767.6 L1261.8,2768.4 L1263.7,2769.2 L1265.5,2770.0 L1267.4,2770.8 L1269.2,2771.6 L1271.1,2772.3 L1273.0,2773.0 L1274.9,2773.8 L1276.8,2774.5 L1278.7,2775.2 L1280.6,2775.9 L1282.5,2776.5 L1284.4,2777.2 L1286.4,2777.8 L1288.3,2778.5 L1290.2,2779.1 L1292.2,2779.7 L1294.1,2780.3 L1296.1,2780.9 L1298.0,2781.5 L1300.0,2782.0 L1301.9,2782.6 L1303.9,2783.2 L1305.9,2783.7 L1307.8,2784.2 L1309.8,2784.8 L1311.8,2785.3 L1313.7,2785.8 L1315.7,2786.3 L1317.7,2786.8 L1319.6,2787.3 L1321.6,2787.8 L1323.6,2788.3 L1325.5,2788.7 L1327.5,2789.2 L1329.5,2789.6 L1331.4,2790.1 L1333.4,2790.5 L1335.4,2790.9 L1337.3,2791.4 L1339.3,2791.8 L1341.3,2792.2 L1343.2,2792.6 L1345.2,2793.0 L1347.2,2793.4 L1349.1,2793.8 L1351.1,2794.2 L1353.1,2794.5 L1355.1,2794.9 L1357.0,2795.3 L1359.0,2795.6 L1361.0,2796.0 L1362.9,2796.3 L1364.9,2796.6 L1366.9,2797.0 L1368.9,2797.3 L1370.8,2797.6 L1372.8,2797.9 L1374.8,2798.2 L1376.8,2798.5 L1378.7,2798.8 L1380.7,2799.1 L1382.7,2799.4 L1384.7,2799.7 L1386.6,2800.0 L1388.6,2800.2 L1390.6,2800.5 L1392.6,2800.8 L1394.5,2801.0 L1396.5,2801.3 L1398.5,2801.5 L1400.5,2801.8 L1402.4,2802.0 L1404.4,2802.2 L1406.4,2802.5 L1408.4,2802.7 L1410.4,2802.9 L1412.3,2803.1 L1414.3,2803.3 L1416.3,2803.5 L1418.3,2803.7 L1420.3,2803.9 L1422.2,2804.1 L1424.2,2804.3 L1426.2,2804.5 L1428.2,2804.7 L1430.2,2804.9 L1432.1,2805.1 L1434.1,2805.2 L1436.1,2805.4 L1438.1,2805.6 L1440.1,2805.7 L1442.1,2805.9 L1444.0,2806.0 L1446.0,2806.2 L1448.0,2806.3 L1450.0,2806.5 L1452.0,2806.6 L1454.0,2806.8 L1455.9,2806.9 L1457.9,2807.1 L1459.9,2807.2 L1461.9,2807.3 L1463.9,2807.5 L1465.9,2807.6 L1467.9,2807.7 L1469.8,2807.8 L1471.8,2807.9 L1473.8,2808.1 L1475.8,2808.2 L1477.8,2808.3 L1479.8,2808.4 L1481.8,2808.5 L1483.8,2808.6 L1485.8,2808.7 L1487.7,2808.8 L1489.7,2808.9 L1491.7,2809.0 L1493.7,2809.1 L1495.7,2809.2 L1497.7,2809.3 L1499.7,2809.4 L1501.7,2809.5 L1503.7,2809.6 L1505.7,2809.7 L1507.7,2809.8 L1509.7,2809.9 L1511.7,2810.0 L1513.6,2810.1 L1515.6,2810.2 L1517.6,2810.3 L1519.6,2810.3 L1521.6,2810.4 L1523.6,2810.5 L1525.6,2810.6 L1527.6,2810.7 L1529.6,2810.8 L1531.6,2810.8 L1533.6,2810.9 L1535.6,2811.0 L1537.6,2811.1 L1539.6,2811.1 L1541.6,2811.2 L1543.6,2811.3 L1545.6,2811.4 L1547.6,2811.4 L1549.6,2811.5 L1551.6,2811.6 L1553.6,2811.6 L1555.6,2811.7 L1557.6,2811.8 L1559.6,2811.8 L1561.6,2811.9 L1563.6,2812.0 L1565.6,2812.0 L1567.6,2812.1 L1569.6,2812.1 L1571.6,2812.2 L1573.6,2812.2 L1575.6,2812.3 L1577.6,2812.4 L1579.6,2812.4 L1581.6,2812.5 L1583.6,2812.5 L1585.6,2812.6 L1587.6,2812.6 L1589.6,2812.7 L1591.6,2812.7 L1593.6,2812.8 L1595.6,2812.8 L1597.6,2812.9 L1599.6,2812.9 L1601.6,2813.0 L1603.6,2813.0 L1605.6,2813.0 L1607.6,2813.1 L1609.6,2813.1 L1611.6,2813.2 L1613.6,2813.2 L1615.6,2813.2 L1617.6,2813.3 L1619.6,2813.3 L1621.6,2813.4 L1623.6,2813.4 L1625.6,2813.4 L1627.6,2813.5 L1629.6,2813.5 L1631.7,2813.5 L1633.7,2813.6 L1635.7,2813.6 L1637.7,2813.6 L1639.7,2813.6 L1641.7,2813.7 L1643.7,2813.7 L1645.7,2813.7 L1647.7,2813.8 L1649.7,2813.8 L1651.7,2813.8 L1653.7,2813.8 L1655.7,2813.9 L1657.7,2813.9 L1659.7,2813.9 L1661.7,2813.9 L1663.7,2813.9 L1665.7,2814.0 L1667.7,2814.0 L1669.7,2814.0 L1671.7,2814.0 L1673.8,2814.0 L1675.8,2814.1 L1677.8,2814.1 L1679.8,2814.1 L1681.8,2814.1 L1683.8,2814.1 L1685.8,2814.1 L1687.8,2814.2 L1689.8,2814.2 L1691.8,2814.2 L1693.8,2814.2 L1695.8,2814.2 L1697.8,2814.2 L1699.8,2814.2 L1701.8,2814.2 L1703.8,2814.2 L1705.8,2814.3 L1707.8,2814.3 L1709.8,2814.3 L1711.8,2814.3 L1713.8,2814.3 L1715.8,2814.3 L1717.9,2814.3 L1719.9,2814.3 L1721.9,2814.3 L1723.9,2814.3 L1725.9,2814.3 L1727.9,2814.3 L1729.9,2814.3 L1731.9,2814.3 L1733.9,2814.3 L1735.9,2814.3 L1737.9,2814.3 L1739.9,2814.3 L1741.9,2814.3 L1743.9,2814.3 L1745.9,2814.3 L1747.9,2814.3 L1749.9,2814.3 L1751.9,2814.3 L1753.9,2814.3 L1755.9,2814.3 L1757.9,2814.3 L1759.9,2814.3 L1761.9,2814.3 L1763.9,2814.3 L1765.9,2814.3 L1767.9,2814.3 L1769.9,2814.3 L1771.9,2814.3 L1773.9,2814.3 L1775.9,2814.3 L1777.9,2814.3 L1779.9,2814.3 L1781.9,2814.3 L1783.9,2814.3 L1785.9,2814.3 L1787.9,2814.3 L1789.9,2814.3 L1791.9,2814.3 L1793.9,2814.3 L1795.9,2814.3 L1797.9,2814.2 L1799.9,2814.2 L1801.9,2814.2 L1803.9,2814.2 L1805.9,2814.2 L1807.9,2814.2 L1809.9,2814.2 L1811.9,2814.2 L1813.9,2814.2 L1815.9,2814.2 L1817.9,2814.2 L1819.9,2814.2 L1821.9,2814.2 L1823.9,2814.1 L1825.9,2814.1 L1827.8,2814.1 L1829.8,2814.1 L1831.8,2814.1 L1833.8,2814.1 L1835.8,2814.1 L1837.8,2814.1 L1839.8,2814.1 L1841.8,2814.1 L1843.8,2814.1 L1845.8,2814.0 L1847.8,2814.0 L1849.8,2814.0 L1851.8,2814.0 L1853.7,2814.0 L1855.7,2814.0 L1857.7,2814.0 L1859.7,2814.0 L1861.7,2814.0 L1862.0,2814.0" fill="none" stroke="#0000ff" stroke-width="8" stroke-linejoin="round" stroke-linecap="round"/>
<path d="M241.4,2852.3 L243.4,2852.2 L245.4,2852.1 L247.4,2852.0 L249.4,2851.9 L251.4,2851.8 L253.4,2851.7 L255.4,2851.6 L257.4,2851.5 L259.3,2851.5 L261.3,2851.4 L263.3,2851.3 L265.3,2851.2 L267.3,2851.1 L269.3,2851.0 L271.3,2850.9 L273.3,2850.8 L275.3,2850.7 L277.3,2850.7 L279.3,2850.6 L281.3,2850.5 L283.3,2850.4 L285.3,2850.3 L287.3,2850.3 L289.3,2850.2 L291.3,2850.1 L293.3,2850.0 L295.3,2849.9 L297.3,2849.9 L299.3,2849.8 L301.3,2849.7 L303.3,2849.7 L305.2,2849.6 L307.2,2849.5 L309.2,2849.5 L311.2,2849.4 L313.2,2849.3 L315.2,2849.3 L317.2,2849.2 L319.2,2849.1 L321.2,2849.1 L323.2,2849.0 L325.2,2848.9 L327.2,2848.9 L329.2,2848.8 L331.2,2848.8 L333.2,2848.7 L335.2,2848.6 L337.2,2848.6 L339.2,2848.5 L341.2,2848.5 L343.2,2848.4 L345.2,2848.4 L347.2,2848.3 L349.2,2848.2 L351.2,2848.2 L353.2,2848.1 L355.2,2848.1 L357.2,2848.0 L359.2,2848.0 L361.2,2847.9 L363.2,2847.9 L365.2,2847.8 L367.2,2847.8 L369.2,2847.7 L371.2,2847.7 L373.2,2847.6 L375.2,2847.6 L377.2,2847.5 L379.2,2847.5 L381.2,2847.4 L383.2,2847.4 L385.2,2847.4 L387.2,2847.3 L389.2,2847.3 L391.2,2847.2 L393.2,2847.2 L395.2,2847.1 L397.2,2847.1 L399.2,2847.0 L401.2,2847.0 L403.2,2846.9 L405.2,2846.9 L407.2,2846.9 L409.2,2846.8 L411.2,2846.8 L413.2,2846.7 L415.2,2846.7 L417.2,2846.6 L419.2,2846.6 L421.2,2846.6 L423.2,2846.5 L425.2,2846.5 L427.2,2846.4 L429.2,2846.4 L431.2,2846.3 L433.2,2846.3 L435.2,2846.3 L437.2,2846.2 L439.2,2846.2 L441.2,2846.1 L443.2,2846.1 L445.2,2846.0 L447.2,2846.0 L449.2,2846.0 L451.2,2845.9 L453.2,2845.9 L455.2,2845.8 L457.2,2845.8 L459.2,2845.7 L461.2,2845.7 L463.2,2845.6 L465.2,2845.6 L467.2,2845.6 L469.2,2845.5 L471.2,2845.5 L473.2,2845.4 L475.3,2845.4 L477.3,2845.3 L479.3,2845.3 L481.3,2845.2 L483.3,2845.2 L485.3,2845.1 L487.3,2845.1 L489.3,2845.0 L491.3,2845.0 L493.3,2844.9 L495.3,2844.9 L497.3,2844.8 L499.3,2844.8 L501.3,2844.7 L503.3,2844.7 L505.3,2844.6 L507.3,2844.6 L509.3,2844.5 L511.3,2844.5 L513.3,2844.4 L515.3,2844.3 L517.3,2844.3 L519.3,2844.2 L521.3,2844.2 L523.3,2844.1 L525.3,2844.1 L527.3,2844.0 L529.3,2843.9 L531.3,2843.9 L533.3,2843.8 L535.3,2843.7 L537.3,2843.7 L539.3,2843.6 L541.3,2843.5 L543.3,2843.5 L545.3,2843.4 L547.3,2843.3 L549.3,2843.3 L551.3,2843.2 L553.3,2843.1 L555.3,2843.1 L557.3,2843.0 L559.3,2842.9 L561.3,2842.8 L563.3,2842.8 L565.3,2842.7 L567.3,2842.6 L569.3,2842.5 L571.3,2842.5 L573.3,2842.4 L575.3,2842.3 L577.3,2842.2 L579.3,2842.1 L581.3,2842.0 L583.3,2842.0 L585.3,2841.9 L587.2,2841.8 L589.2,2841.7 L591.2,2841.6 L593.2,2841.5 L595.2,2841.4 L597.2,2841.3 L599.2,2841.2 L601.2,2841.1 L603.2,2841.0 L605.2,2840.9 L607.2,2840.8 L609.2,2840.7 L611.2,2840.6 L613.2,2840.5 L615.2,2840.4 L617.2,2840.3 L619.2,2840.2 L621.2,2840.1 L623.2,2840.0 L625.2,2839.9 L627.2,2839.8 L629.2,2839.7 L631.2,2839.5 L633.2,2839.4 L635.2,2839.3 L637.2,2839.2 L639.2,2839.1 L641.2,2838.9 L643.1,2838.8 L645.1,2838.7 L647.1,2838.5 L649.1,2838.4 L651.1,2838.3 L653.1,2838.2 L655.1,2838.0 L657.1,2837.9 L659.1,2837.7 L661.1,2837.6 L663.1,2837.5 L665.1,2837.3 L667.1,2837.2 L669.1,2837.0 L671.1,2836.9 L673.1,2836.7 L675.0,2836.6 L677.0,2836.4 L679.0,2836.3 L681.0,2836.1 L683.0,2836.0 L685.0,2835.8 L687.0,2835.6 L689.0,2835.5 L691.0,2835.3 L693.0,2835.1 L695.0,2835.0 L696.9,2834.8 L698.9,2834.6 L700.9,2834.4 L702.9,2834.3 L704.9,2834.1 L706.9,2833.9 L708.9,2833.7 L710.9,2833.5 L712.9,2833.3 L714.9,2833.1 L716.8,2833.0 L718.8,2832.8 L720.8,2832.6 L722.8,2832.4 L724.8,2832.2 L726.8,2832.0 L728.8,2831.8 L730.8,2831.6 L732.7,2831.3 L734.7,2831.1 L736.7,2830.9 L738.7,2830.7 L740.7,2830.5 L742.7,2830.3 L744.7,2830.0 L746.6,2829.8 L748.6,2829.6 L750.6,2829.4 L752.6,2829.1 L754.6,2828.9 L756.6,2828.7 L758.6,2828.4 L760.5,2828.2 L762.5,2827.9 L764.5,2827.7 L766.5,2827.4 L768.5,2827.2 L770.5,2826.9 L772.4,2826.7 L774.4,2826.4 L776.4,2826.2 L778.4,2825.9 L780.4,2825.6 L782.3,2825.4 L784.3,2825.1 L786.3,2824.8 L788.3,2824.5 L790.3,2824.3 L792.2,2824.0 L794.2,2823.7 L796.2,2823.4 L798.2,2823.1 L800.2,2822.8 L802.1,2822.5 L804.1,2822.2 L806.1,2821.9 L808.1,2821.6 L810.1,2821.3 L812.0,2821.0 L814.0,2820.7 L816.0,2820.4 L818.0,2820.1 L819.9,2819.7 L821.9,2819.4 L823.9,2819.1 L825.8,2818.7 L827.8,2818.4 L829.8,2818.0 L831.8,2817.7 L833.7,2817.3 L835.7,2817.0 L837.7,2816.6 L839.6,2816.2 L841.6,2815.8 L843.5,2815.4 L845.5,2815.0 L847.5,2814.6 L849.4,2814.2 L851.4,2813.8 L853.3,2813.4 L855.3,2813.0 L857.2,2812.5 L859.2,2812.1 L861.1,2811.6 L863.1,2811.2 L865.0,2810.7 L866.9,2810.2 L868.9,2809.7 L870.8,2809.2 L872.7,2808.7 L874.7,2808.2 L876.6,2807.7 L878.5,2807.2 L880.5,2806.7 L882.4,2806.1 L884.3,2805.5 L886.2,2805.0 L888.1,2804.4 L890.0,2803.8 L891.9,2803.2 L893.9,2802.6 L895.8,2802.0 L897.7,2801.4 L899.5,2800.7 L901.4,2800.1 L903.3,2799.4 L905.2,2798.7 L907.1,2798.1 L909.0,2797.4 L910.9,2796.7 L912.7,2795.9 L914.6,2795.2 L916.5,2794.5 L918.3,2793.7 L920.2,2792.9 L922.0,2792.2 L923.9,2791.4 L925.7,2790.6 L927.6,2789.8 L929.4,2788.9 L931.2,2788.1 L933.1,2787.2 L934.9,2786.4 L936.7,2785.5 L938.5,2784.6 L940.3,2783.7 L942.1,2782.8 L943.9,2781.9 L945.6,2780.9 L947.4,2780.0 L949.2,2779.0 L950.9,2778.1 L952.7,2777.1 L954.4,2776.1 L956.1,2775.1 L957.9,2774.0 L959.6,2773.0 L961.3,2772.0 L963.0,2770.9 L964.7,2769.8 L966.3,2768.7 L968.0,2767.6 L969.7,2766.5 L971.3,2765.4 L973.0,2764.3 L974.6,2763.1 L976.2,2762.0 L977.8,2760.8 L979.4,2759.6 L981.0,2758.4 L982.6,2757.2 L984.2,2756.0 L985.7,2754.7 L987.3,2753.5 L988.8,2752.2 L990.3,2750.9 L991.8,2749.6 L993.3,2748.3 L994.8,2747.0 L996.3,2745.7 L997.7,2744.3 L999.2,2743.0 L1000.6,2741.6 L1002.0,2740.2 L1003.4,2738.9 L1004.9,2737.5 L1006.2,2736.0 L1007.6,2734.6 L1009.0,2733.2 L1010.3,2731.7 L1011.7,2730.3 L1013.0,2728.8 L1014.3,2727.3 L1015.7,2725.9 L1017.0,2724.4 L1018.2,2722.8 L1019.5,2721.3 L1020.8,2719.8 L1022.0,2718.3 L1023.3,2716.7 L1024.5,2715.1 L1025.7,2713.6 L1026.9,2712.0 L1028.1,2710.4 L1029.3,2708.8 L1030.5,2707.2 L1031.7,2705.6 L1032.8,2704.0 L1034.0,2702.3 L1035.1,2700.7 L1036.2,2699.0 L1037.3,2697.4 L1038.4,2695.7 L1039.5,2694.0 L1040.6,2692.4 L1041.7,2690.7 L1042.7,2689.0 L1043.8,2687.3 L1044.8,2685.6 L1045.8,2683.8 L1046.8,2682.1 L1047.8,2680.4 L1048.8,2678.6 L1049.8,2676.9 L1050.8,2675.1 L1051.7,2673.4 L1052.7,2671.6 L1053.6,2669.8 L1054.5,2668.0 L1055.4,2666.3 L1056.3,2664.5 L1057.2,2662.7 L1058.1,2660.9 L1059.0,2659.0 L1059.9,2657.2 L1060.7,2655.4 L1061.6,2653.6 L1062.4,2651.8 L1063.2,2649.9 L1064.0,2648.1 L1064.8,2646.2 L1065.6,2644.4 L1066.4,2642.5 L1067.2,2640.7 L1068.0,2638.8 L1068.7,2637.0 L1069.5,2635.1 L1070.2,2633.2 L1071.0,2631.4 L1071.7,2629.5 L1072.5,2627.6 L1073.2,2625.7 L1073.9,2623.8 L1074.6,2622.0 L1075.3,2620.1 L1076.1,2618.2 L1076.8,2616.3 L1077.5,2614.4 L1078.2,2612.5 L1078.9,2610.7 L1079.6,2608.8 L1080.3,2606.9 L1081.0,2605.0 L1081.7,2603.1 L1082.3,2601.2 L1083.0,2599.4 L1083.7,2597.5 L1084.4,2595.6 L1085.1,2593.7 L1085.8,2591.8 L1086.5,2590.0 L1087.2,2588.1 L1087.9,2586.2 L1088.6,2584.4 L1089.3,2582.5 L1090.0,2580.6 L1090.7,2578.8 L1091.4,2576.9 L1092.1,2575.1 L1092.9,2573.2 L1093.6,2571.4 L1094.3,2569.5 L1095.1,2567.7 L1095.8,2565.9 L1096.5,2564.1 L1097.3,2562.2 L1098.0,2560.4 L1098.8,2558.6 L1099.6,2556.8 L1100.3,2555.0 L1101.1,2553.2 L1101.9,2551.4 L1102.7,2549.6 L1103.5,2547.8 L1104.3,2546.0 L1105.1,2544.2 L1105.9,2542.4 L1106.7,2540.6 L1107.5,2538.8 L1108.4,2537.0 L1109.2,2535.3 L1110.0,2533.5 L1110.9,2531.7 L1111.7,2529.9 L1112.6,2528.1 L1113.4,2526.3 L1114.3,2524.5 L1115.2,2522.7 L1116.0,2520.9 L1116.9,2519.1 L1117.8,2517.3 L1118.7,2515.5 L1119.6,2513.7 L1120.5,2511.9 L1121.4,2510.1 L1122.3,2508.3 L1123.2,2506.5 L1124.2,2504.7 L1125.1,2502.9 L1126.0,2501.1 L1127.0,2499.2 L1127.9,2497.4 L1128.9,2495.6 L1129.8,2493.7 L1130.8,2491.9 L1131.8,2490.0 L1132.8,2488.2 L1133.8,2486.3 L1134.8,2484.5 L1135.9,2482.7 L1136.9,2481.0 L1138.0,2479.2 L1139.2,2477.5 L1140.3,2475.9 L1141.6,2474.3 L1142.8,2472.8 L1144.1,2471.3 L1145.5,2469.9 L1146.9,2468.5 L1148.4,2467.3 L1149.9,2466.1 L1151.5,2465.0 L1153.2,2464.1 L1154.9,2463.2 L1156.7,2462.4 L1158.5,2461.8 L1160.3,2461.3 L1162.1,2461.0 L1163.9,2460.8 L1165.7,2460.8 L1167.5,2461.0 L1169.2,2461.4 L1170.9,2462.0 L1172.6,2462.7 L1174.2,2463.7 L1175.8,2464.8 L1177.3,2466.1 L1178.7,2467.5 L1180.2,2468.9 L1181.5,2470.5 L1182.9,2472.1 L1184.2,2473.7 L1185.4,2475.3 L1186.6,2477.0 L1187.8,2478.7 L1188.9,2480.4 L1190.0,2482.1 L1191.1,2483.8 L1192.1,2485.6 L1193.1,2487.3 L1194.1,2489.1 L1195.0,2490.9 L1196.0,2492.7 L1196.9,2494.5 L1197.8,2496.3 L1198.7,2498.1 L1199.5,2499.9 L1200.4,2501.7 L1201.3,2503.5 L1202.1,2505.4 L1203.0,2507.2 L1203.8,2509.0 L1204.7,2510.8 L1205.5,2512.7 L1206.4,2514.5 L1207.3,2516.3 L1208.2,2518.1 L1209.0,2519.9 L1209.9,2521.7 L1210.8,2523.5 L1211.7,2525.3 L1212.5,2527.1 L1213.4,2528.9 L1214.3,2530.7 L1215.1,2532.5 L1216.0,2534.3 L1216.8,2536.1 L1217.7,2537.9 L1218.5,2539.8 L1219.4,2541.6 L1220.2,2543.4 L1221.0,2545.2 L1221.8,2547.0 L1222.7,2548.9 L1223.5,2550.7 L1224.3,2552.5 L1225.1,2554.3 L1225.9,2556.2 L1226.7,2558.0 L1227.5,2559.8 L1228.3,2561.7 L1229.1,2563.5 L1229.8,2565.3 L1230.6,2567.2 L1231.4,2569.0 L1232.2,2570.8 L1233.0,2572.7 L1233.7,2574.5 L1234.5,2576.3 L1235.3,2578.2 L1236.1,2580.0 L1236.8,2581.9 L1237.6,2583.7 L1238.4,2585.5 L1239.2,2587.4 L1239.9,2589.2 L1240.7,2591.0 L1241.5,2592.9 L1242.3,2594.7 L1243.0,2596.6 L1243.8,2598.4 L1244.6,2600.2 L1245.4,2602.1 L1246.2,2603.9 L1246.9,2605.7 L1247.7,2607.6 L1248.5,2609.4 L1249.3,2611.2 L1250.1,2613.0 L1250.9,2614.9 L1251.7,2616.7 L1252.5,2618.5 L1253.3,2620.3 L1254.1,2622.1 L1254.9,2624.0 L1255.8,2625.8 L1256.6,2627.6 L1257.4,2629.4 L1258.3,2631.2 L1259.1,2633.0 L1259.9,2634.8 L1260.8,2636.6 L1261.7,2638.4 L1262.5,2640.2 L1263.4,2642.0 L1264.3,2643.8 L1265.2,2645.5 L1266.0,2647.3 L1266.9,2649.1 L1267.8,2650.9 L1268.8,2652.6 L1269.7,2654.4 L1270.6,2656.2 L1271.5,2657.9 L1272.5,2659.7 L1273.4,2661.4 L1274.4,2663.2 L1275.4,2664.9 L1276.4,2666.7 L1277.3,2668.4 L1278.3,2670.1 L1279.4,2671.9 L1280.4,2673.6 L1281.4,2675.3 L1282.4,2677.0 L1283.5,2678.7 L1284.6,2680.4 L1285.6,2682.1 L1286.7,2683.8 L1287.8,2685.5 L1288.9,2687.2 L1290.0,2688.9 L1291.2,2690.5 L1292.3,2692.2 L1293.5,2693.9 L1294.6,2695.5 L1295.8,2697.2 L1297.0,2698.8 L1298.2,2700.4 L1299.4,2702.0 L1300.6,2703.7 L1301.8,2705.3 L1303.1,2706.9 L1304.3,2708.4 L1305.6,2710.0 L1306.9,2711.6 L1308.2,2713.1 L1309.5,2714.7 L1310.8,2716.2 L1312.1,2717.8 L1313.5,2719.3 L1314.8,2720.8 L1316.2,2722.3 L1317.5,2723.8 L1318.9,2725.2 L1320.3,2726.7 L1321.7,2728.1 L1323.1,2729.6 L1324.5,2731.0 L1326.0,2732.4 L1327.4,2733.8 L1328.9,2735.2 L1330.4,2736.6 L1331.8,2737.9 L1333.3,2739.2 L1334.8,2740.6 L1336.4,2741.9 L1337.9,2743.2 L1339.4,2744.4 L1341.0,2745.7 L1342.5,2747.0 L1344.1,2748.2 L1345.7,2749.4 L1347.3,2750.6 L1348.9,2751.8 L1350.5,2752.9 L1352.1,2754.1 L1353.8,2755.2 L1355.4,2756.3 L1357.1,2757.4 L1358.7,2758.5 L1360.4,2759.5 L1362.1,2760.5 L1363.8,2761.6 L1365.5,2762.6 L1367.3,2763.5 L1369.0,2764.5 L1370.8,2765.4 L1372.5,2766.3 L1374.3,2767.2 L1376.1,2768.1 L1377.8,2768.9 L1379.6,2769.8 L1381.4,2770.6 L1383.3,2771.4 L1385.1,2772.2 L1386.9,2773.0 L1388.8,2773.7 L1390.6,2774.5 L1392.5,2775.2 L1394.3,2775.9 L1396.2,2776.6 L1398.1,2777.3 L1399.9,2777.9 L1401.8,2778.6 L1403.7,2779.2 L1405.6,2779.8 L1407.5,2780.5 L1409.4,2781.1 L1411.3,2781.7 L1413.3,2782.2 L1415.2,2782.8 L1417.1,2783.3 L1419.0,2783.9 L1421.0,2784.4 L1422.9,2785.0 L1424.9,2785.5 L1426.8,2786.0 L1428.7,2786.5 L1430.7,2787.0 L1432.6,2787.4 L1434.6,2787.9 L1436.6,2788.4 L1438.5,2788.8 L1440.5,2789.3 L1442.4,2789.8 L1444.4,2790.2 L1446.3,2790.6 L1448.3,2791.1 L1450.3,2791.5 L1452.2,2791.9 L1454.2,2792.3 L1456.1,2792.7 L1458.1,2793.1 L1460.1,2793.5 L1462.0,2793.9 L1464.0,2794.3 L1466.0,2794.7 L1467.9,2795.0 L1469.9,2795.4 L1471.9,2795.7 L1473.8,2796.1 L1475.8,2796.4 L1477.8,2796.8 L1479.7,2797.1 L1481.7,2797.5 L1483.7,2797.8 L1485.6,2798.1 L1487.6,2798.4 L1489.6,2798.7 L1491.6,2799.0 L1493.5,2799.3 L1495.5,2799.6 L1497.5,2799.9 L1499.5,2800.2 L1501.4,2800.5 L1503.4,2800.8 L1505.4,2801.0 L1507.4,2801.3 L1509.3,2801.6 L1511.3,2801.8 L1513.3,2802.1 L1515.3,2802.3 L1517.3,2802.6 L1519.3,2802.8 L1521.2,2803.0 L1523.2,2803.3 L1525.2,2803.5 L1527.2,2803.7 L1529.2,2803.9 L1531.1,2804.1 L1533.1,2804.3 L1535.1,2804.5 L1537.1,2804.7 L1539.1,2804.9 L1541.1,2805.1 L1543.1,2805.3 L1545.1,2805.5 L1547.0,2805.7 L1549.0,2805.8 L1551.0,2806.0 L1553.0,2806.2 L1555.0,2806.3 L1557.0,2806.5 L1559.0,2806.6 L1561.0,2806.8 L1563.0,2806.9 L1565.0,2807.1 L1566.9,2807.2 L1568.9,2807.4 L1570.9,2807.5 L1572.9,2807.6 L1574.9,2807.7 L1576.9,2807.9 L1578.9,2808.0 L1580.9,2808.1 L1582.9,2808.2 L1584.9,2808.3 L1586.9,2808.4 L1588.9,2808.5 L1590.9,2808.6 L1592.9,2808.7 L1594.9,2808.8 L1596.9,2808.9 L1598.9,2809.0 L1600.9,2809.1 L1602.9,2809.2 L1604.9,2809.2 L1606.9,2809.3 L1608.9,2809.4 L1610.9,2809.5 L1612.9,2809.5 L1614.9,2809.6 L1616.9,2809.7 L1618.9,2809.7 L1620.9,2809.8 L1622.9,2809.8 L1624.9,2809.9 L1626.9,2809.9 L1628.9,2810.0 L1630.9,2810.0 L1632.9,2810.1 L1634.9,2810.1 L1636.9,2810.2 L1638.9,2810.2 L1640.9,2810.2 L1642.9,2810.3 L1644.9,2810.3 L1646.9,2810.3 L1648.9,2810.4 L1650.9,2810.4 L1652.9,2810.4 L1654.9,2810.4 L1656.9,2810.4 L1658.9,2810.5 L1660.9,2810.5 L1662.9,2810.5 L1664.9,2810.5 L1666.9,2810.5 L1668.9,2810.5 L1670.9,2810.5 L1672.9,2810.6 L1675.0,2810.6 L1677.0,2810.6 L1679.0,2810.6 L1681.0,2810.6 L1683.0,2810.6 L1685.0,2810.6 L1687.0,2810.6 L1689.0,2810.6 L1691.0,2810.6 L1693.0,2810.6 L1695.0,2810.6 L1697.0,2810.6 L1699.0,2810.6 L1701.0,2810.6 L1703.0,2810.6 L1705.0,2810.5 L1707.0,2810.5 L1709.0,2810.5 L1711.1,2810.5 L1713.1,2810.5 L1715.1,2810.5 L1717.1,2810.5 L1719.1,2810.5 L1721.1,2810.5 L1723.1,2810.4 L1725.1,2810.4 L1727.1,2810.4 L1729.1,2810.4 L1731.1,2810.4 L1733.1,2810.4 L1735.1,2810.4 L1737.1,2810.4 L1739.1,2810.3 L1741.1,2810.3 L1743.1,2810.3 L1745.1,2810.3 L1747.1,2810.3 L1749.1,2810.3 L1751.1,2810.3 L1753.2,2810.3 L1755.2,2810.2 L1757.2,2810.2 L1759.2,2810.2 L1761.2,2810.2 L1763.2,2810.2 L1765.2,2810.2 L1767.2,2810.2 L1769.2,2810.2 L1771.2,2810.2 L1773.2,2810.2 L1775.2,2810.2 L1777.2,2810.1 L1779.2,2810.1 L1781.2,2810.1 L1783.2,2810.1 L1785.2,2810.1 L1787.2,2810.1 L1789.2,2810.1 L1791.2,2810.1 L1793.2,2810.1 L1795.2,2810.1 L1797.2,2810.1 L1799.2,2810.2 L1801.2,2810.2 L1803.2,2810.2 L1805.2,2810.2 L1807.2,2810.2 L1809.2,2810.2 L1811.2,2810.2 L1813.2,2810.2 L1815.2,2810.3 L1817.2,2810.3 L1819.2,2810.3 L1821.2,2810.3 L1823.2,2810.3 L1825.2,2810.4 L1827.1,2810.4 L1829.1,2810.4 L1831.1,2810.5 L1833.1,2810.5 L1835.1,2810.5 L1837.1,2810.6 L1839.1,2810.6 L1841.1,2810.6 L1843.1,2810.7 L1845.1,2810.7 L1847.1,2810.8 L1849.1,2810.8 L1851.1,2810.9 L1853.0,2810.9 L1855.0,2811.0 L1857.0,2811.1 L1859.0,2811.1 L1861.0,2811.2 L1862.0,2811.2" fill="none" stroke="#ff00ff" stroke-width="8" stroke-linejoin="round" stroke-linecap="round"/>
<path d="M241.4,2857.3 L243.4,2857.2 L245.4,2857.1 L247.4,2857.0 L249.4,2856.9 L251.4,2856.8 L253.4,2856.8 L255.4,2856.7 L257.4,2856.6 L259.4,2856.5 L261.4,2856.4 L263.4,2856.3 L265.4,2856.2 L267.4,2856.1 L269.4,2856.0 L271.4,2855.9 L273.4,2855.9 L275.4,2855.8 L277.4,2855.7 L279.4,2855.6 L281.4,2855.5 L283.4,2855.5 L285.4,2855.4 L287.4,2855.3 L289.4,2855.2 L291.4,2855.2 L293.4,2855.1 L295.4,2855.0 L297.4,2854.9 L299.4,2854.9 L301.4,2854.8 L303.4,2854.7 L305.4,2854.6 L307.4,2854.6 L309.4,2854.5 L311.4,2854.4 L313.4,2854.4 L315.4,2854.3 L317.4,2854.2 L319.4,2854.2 L321.4,2854.1 L323.4,2854.0 L325.4,2854.0 L327.4,2853.9 L329.4,2853.8 L331.4,2853.8 L333.4,2853.7 L335.4,2853.7 L337.4,2853.6 L339.4,2853.5 L341.4,2853.5 L343.4,2853.4 L345.4,2853.3 L347.4,2853.3 L349.4,2853.2 L351.4,2853.2 L353.4,2853.1 L355.4,2853.0 L357.4,2853.0 L359.4,2852.9 L361.4,2852.9 L363.4,2852.8 L365.4,2852.7 L367.4,2852.7 L369.4,2852.6 L371.4,2852.5 L373.4,2852.5 L375.4,2852.4 L377.4,2852.4 L379.4,2852.3 L381.4,2852.2 L383.4,2852.2 L385.4,2852.1 L387.4,2852.0 L389.4,2852.0 L391.4,2851.9 L393.4,2851.8 L395.4,2851.8 L397.4,2851.7 L399.4,2851.6 L401.4,2851.6 L403.4,2851.5 L405.4,2851.4 L407.4,2851.4 L409.4,2851.3 L411.4,2851.2 L413.4,2851.2 L415.4,2851.1 L417.4,2851.0 L419.4,2850.9 L421.4,2850.9 L423.3,2850.8 L425.3,2850.7 L427.3,2850.6 L429.3,2850.6 L431.3,2850.5 L433.3,2850.4 L435.3,2850.3 L437.3,2850.2 L439.3,2850.1 L441.3,2850.1 L443.3,2850.0 L445.3,2849.9 L447.3,2849.8 L449.3,2849.7 L451.3,2849.6 L453.3,2849.5 L455.3,2849.4 L457.3,2849.3 L459.3,2849.2 L461.3,2849.2 L463.2,2849.1 L465.2,2849.0 L467.2,2848.9 L469.2,2848.8 L471.2,2848.6 L473.2,2848.5 L475.2,2848.4 L477.2,2848.3 L479.2,2848.2 L481.2,2848.1 L483.2,2848.0 L485.2,2847.9 L487.2,2847.8 L489.2,2847.7 L491.2,2847.5 L493.2,2847.4 L495.1,2847.3 L497.1,2847.2 L499.1,2847.0 L501.1,2846.9 L503.1,2846.8 L505.1,2846.6 L507.1,2846.5 L509.1,2846.4 L511.1,2846.2 L513.1,2846.1 L515.1,2846.0 L517.1,2845.8 L519.0,2845.7 L521.0,2845.5 L523.0,2845.4 L525.0,2845.2 L527.0,2845.1 L529.0,2844.9 L531.0,2844.7 L533.0,2844.6 L535.0,2844.4 L537.0,2844.3 L539.0,2844.1 L540.9,2843.9 L542.9,2843.8 L544.9,2843.6 L546.9,2843.4 L548.9,2843.2 L550.9,2843.0 L552.9,2842.9 L554.9,2842.7 L556.9,2842.5 L558.8,2842.3 L560.8,2842.1 L562.8,2841.9 L564.8,2841.7 L566.8,2841.5 L568.8,2841.3 L570.8,2841.1 L572.8,2840.9 L574.8,2840.6 L576.7,2840.4 L578.7,2840.2 L580.7,2840.0 L582.7,2839.8 L584.7,2839.5 L586.7,2839.3 L588.7,2839.1 L590.7,2838.8 L592.6,2838.6 L594.6,2838.4 L596.6,2838.1 L598.6,2837.9 L600.6,2837.6 L602.6,2837.3 L604.6,2837.1 L606.5,2836.8 L608.5,2836.6 L610.5,2836.3 L612.5,2836.0 L614.5,2835.7 L616.5,2835.5 L618.5,2835.2 L620.4,2834.9 L622.4,2834.6 L624.4,2834.3 L626.4,2834.0 L628.4,2833.7 L630.4,2833.4 L632.4,2833.1 L634.3,2832.8 L636.3,2832.5 L638.3,2832.2 L640.3,2831.9 L642.3,2831.5 L644.3,2831.2 L646.2,2830.9 L648.2,2830.6 L650.2,2830.2 L652.2,2829.9 L654.2,2829.5 L656.2,2829.2 L658.1,2828.8 L660.1,2828.5 L662.1,2828.1 L664.1,2827.7 L666.1,2827.4 L668.1,2827.0 L670.0,2826.6 L672.0,2826.2 L674.0,2825.9 L676.0,2825.5 L678.0,2825.1 L680.0,2824.7 L681.9,2824.3 L683.9,2823.9 L685.9,2823.5 L687.9,2823.0 L689.9,2822.6 L691.8,2822.2 L693.8,2821.8 L695.8,2821.3 L697.8,2820.9 L699.7,2820.4 L701.7,2820.0 L703.6,2819.5 L705.6,2819.0 L707.5,2818.5 L709.5,2818.0 L711.4,2817.5 L713.4,2816.9 L715.3,2816.4 L717.2,2815.8 L719.1,2815.3 L721.0,2814.7 L722.9,2814.1 L724.8,2813.5 L726.7,2812.8 L728.6,2812.2 L730.4,2811.5 L732.3,2810.8 L734.1,2810.1 L736.0,2809.4 L737.8,2808.7 L739.6,2807.9 L741.4,2807.1 L743.2,2806.3 L744.9,2805.5 L746.7,2804.7 L748.4,2803.8 L750.2,2802.9 L751.9,2802.0 L753.6,2801.1 L755.2,2800.1 L756.9,2799.1 L758.6,2798.1 L760.2,2797.0 L761.8,2796.0 L763.4,2794.9 L765.0,2793.8 L766.6,2792.6 L768.1,2791.4 L769.6,2790.2 L771.1,2789.0 L772.6,2787.7 L774.1,2786.4 L775.5,2785.0 L776.9,2783.7 L778.4,2782.2 L779.7,2780.8 L781.1,2779.3 L782.4,2777.8 L783.7,2776.3 L785.0,2774.7 L786.3,2773.1 L787.6,2771.5 L788.8,2769.9 L790.0,2768.2 L791.2,2766.5 L792.4,2764.8 L793.6,2763.1 L794.7,2761.4 L795.9,2759.6 L797.0,2757.9 L798.1,2756.1 L799.2,2754.3 L800.3,2752.5 L801.4,2750.7 L802.5,2749.0 L803.5,2747.2 L804.6,2745.4 L805.6,2743.6 L806.6,2741.8 L807.7,2740.0 L808.7,2738.2 L809.7,2736.4 L810.7,2734.7 L811.7,2732.9 L812.7,2731.2 L813.6,2729.4 L814.6,2727.7 L815.6,2726.0 L816.5,2724.2 L817.5,2722.5 L818.4,2720.8 L819.3,2719.1 L820.2,2717.4 L821.1,2715.7 L822.0,2714.0 L822.9,2712.2 L823.7,2710.5 L824.6,2708.8 L825.4,2707.0 L826.2,2705.3 L827.0,2703.5 L827.7,2701.7 L828.5,2699.9 L829.2,2698.1 L829.9,2696.3 L830.6,2694.5 L831.2,2692.6 L831.9,2690.8 L832.5,2688.9 L833.1,2687.0 L833.6,2685.0 L834.1,2683.1 L834.7,2681.1 L835.1,2679.1 L835.6,2677.1 L836.1,2675.0 L836.5,2673.0 L837.0,2671.0 L837.5,2669.0 L838.1,2667.0 L838.6,2665.0 L839.3,2663.1 L839.9,2661.2 L840.7,2659.3 L841.5,2657.5 L842.4,2655.8 L843.3,2654.1 L844.3,2652.4 L845.3,2650.7 L846.3,2649.1 L847.3,2647.4 L848.3,2645.7 L849.2,2644.0 L850.1,2642.2 L851.0,2640.4 L851.8,2638.5 L852.5,2636.6 L853.2,2634.7 L853.9,2632.8 L854.6,2630.9 L855.3,2629.0 L855.9,2627.1 L856.5,2625.2 L857.2,2623.3 L857.8,2621.4 L858.5,2619.5 L859.1,2617.6 L859.8,2615.8 L860.5,2614.0 L861.1,2612.1 L861.8,2610.3 L862.5,2608.5 L863.2,2606.7 L863.9,2604.8 L864.6,2603.0 L865.3,2601.2 L866.1,2599.4 L866.8,2597.5 L867.5,2595.7 L868.3,2593.9 L869.1,2592.0 L869.9,2590.1 L870.7,2588.2 L871.5,2586.3 L872.3,2584.4 L873.2,2582.5 L874.1,2580.6 L875.0,2578.6 L875.9,2576.7 L876.9,2574.8 L878.0,2573.0 L879.1,2571.2 L880.4,2569.4 L881.6,2567.7 L883.0,2566.1 L884.5,2564.6 L886.0,2563.1 L887.7,2561.8 L889.3,2560.7 L891.0,2559.7 L892.7,2559.0 L894.4,2558.6 L896.1,2558.5 L897.7,2558.7 L899.2,2559.3 L900.7,2560.0 L902.2,2561.1 L903.6,2562.3 L905.0,2563.6 L906.3,2565.1 L907.5,2566.6 L908.8,2568.2 L910.0,2569.8 L911.1,2571.4 L912.2,2573.1 L913.3,2574.7 L914.4,2576.4 L915.4,2578.2 L916.4,2579.9 L917.3,2581.7 L918.3,2583.4 L919.2,2585.3 L920.0,2587.1 L920.9,2588.9 L921.7,2590.8 L922.5,2592.6 L923.3,2594.5 L924.1,2596.4 L924.8,2598.3 L925.6,2600.2 L926.3,2602.1 L927.0,2604.0 L927.7,2605.9 L928.3,2607.9 L929.0,2609.8 L929.7,2611.7 L930.3,2613.7 L931.0,2615.6 L931.6,2617.5 L932.3,2619.5 L932.9,2621.4 L933.5,2623.3 L934.2,2625.2 L934.8,2627.1 L935.5,2629.1 L936.1,2631.0 L936.8,2632.8 L937.4,2634.7 L938.1,2636.6 L938.7,2638.5 L939.4,2640.4 L940.0,2642.2 L940.7,2644.1 L941.4,2645.9 L942.0,2647.8 L942.7,2649.6 L943.4,2651.5 L944.1,2653.3 L944.8,2655.2 L945.4,2657.0 L946.1,2658.8 L946.8,2660.7 L947.5,2662.5 L948.3,2664.3 L949.0,2666.1 L949.7,2668.0 L950.4,2669.8 L951.1,2671.6 L951.9,2673.4 L952.6,2675.2 L953.4,2677.1 L954.1,2678.9 L954.9,2680.7 L955.7,2682.5 L956.4,2684.3 L957.2,2686.1 L958.0,2687.9 L958.8,2689.8 L959.6,2691.6 L960.4,2693.4 L961.2,2695.2 L962.1,2697.0 L962.9,2698.9 L963.7,2700.7 L964.6,2702.5 L965.5,2704.3 L966.3,2706.2 L967.2,2708.0 L968.1,2709.8 L969.0,2711.6 L969.9,2713.5 L970.8,2715.3 L971.7,2717.1 L972.6,2718.9 L973.6,2720.7 L974.5,2722.6 L975.5,2724.4 L976.5,2726.2 L977.5,2728.0 L978.5,2729.8 L979.5,2731.5 L980.5,2733.3 L981.5,2735.1 L982.6,2736.8 L983.6,2738.6 L984.7,2740.3 L985.8,2742.1 L986.8,2743.8 L987.9,2745.5 L989.1,2747.2 L990.2,2748.9 L991.3,2750.6 L992.5,2752.2 L993.6,2753.9 L994.8,2755.5 L996.0,2757.2 L997.2,2758.8 L998.5,2760.4 L999.7,2761.9 L1000.9,2763.5 L1002.2,2765.0 L1003.5,2766.6 L1004.8,2768.1 L1006.1,2769.6 L1007.4,2771.0 L1008.8,2772.5 L1010.1,2773.9 L1011.5,2775.3 L1012.9,2776.7 L1014.3,2778.1 L1015.7,2779.4 L1017.2,2780.8 L1018.6,2782.1 L1020.1,2783.3 L1021.6,2784.6 L1023.1,2785.8 L1024.6,2787.0 L1026.1,2788.2 L1027.7,2789.3 L1029.3,2790.5 L1030.9,2791.6 L1032.5,2792.6 L1034.1,2793.7 L1035.8,2794.7 L1037.5,2795.7 L1039.1,2796.6 L1040.9,2797.6 L1042.6,2798.4 L1044.3,2799.3 L1046.1,2800.1 L1047.9,2800.9 L1049.7,2801.7 L1051.5,2802.5 L1053.3,2803.2 L1055.2,2803.9 L1057.0,2804.6 L1058.9,2805.2 L1060.8,2805.8 L1062.7,2806.4 L1064.6,2807.0 L1066.6,2807.6 L1068.5,2808.1 L1070.4,2808.6 L1072.4,2809.1 L1074.4,2809.6 L1076.3,2810.0 L1078.3,2810.5 L1080.3,2810.9 L1082.3,2811.3 L1084.3,2811.7 L1086.3,2812.1 L1088.4,2812.4 L1090.4,2812.8 L1092.4,2813.1 L1094.4,2813.4 L1096.5,2813.8 L1098.5,2814.1 L1100.5,2814.4 L1102.6,2814.6 L1104.6,2814.9 L1106.6,2815.2 L1108.7,2815.5 L1110.7,2815.7 L1112.7,2816.0 L1114.8,2816.2 L1116.8,2816.4 L1118.8,2816.7 L1120.9,2816.9 L1122.9,2817.1 L1124.9,2817.4 L1126.9,2817.6 L1128.9,2817.8 L1131.0,2818.0 L1133.0,2818.2 L1135.0,2818.4 L1137.0,2818.6 L1139.0,2818.7 L1141.0,2818.9 L1143.0,2819.1 L1145.1,2819.3 L1147.1,2819.4 L1149.1,2819.6 L1151.1,2819.8 L1153.1,2819.9 L1155.1,2820.1 L1157.1,2820.2 L1159.1,2820.3 L1161.1,2820.5 L1163.1,2820.6 L1165.1,2820.7 L1167.1,2820.9 L1169.1,2821.0 L1171.1,2821.1 L1173.1,2821.2 L1175.1,2821.3 L1177.1,2821.5 L1179.0,2821.6 L1181.0,2821.7 L1183.0,2821.8 L1185.0,2821.9 L1187.0,2822.0 L1189.0,2822.1 L1191.0,2822.1 L1193.0,2822.2 L1195.0,2822.3 L1197.0,2822.4 L1198.9,2822.5 L1200.9,2822.5 L1202.9,2822.6 L1204.9,2822.7 L1206.9,2822.8 L1208.9,2822.8 L1210.9,2822.9 L1212.8,2823.0 L1214.8,2823.0 L1216.8,2823.1 L1218.8,2823.1 L1220.8,2823.2 L1222.8,2823.3 L1224.7,2823.3 L1226.7,2823.4 L1228.7,2823.4 L1230.7,2823.5 L1232.7,2823.5 L1234.7,2823.6 L1236.6,2823.6 L1238.6,2823.7 L1240.6,2823.7 L1242.6,2823.8 L1244.6,2823.8 L1246.6,2823.8 L1248.6,2823.9 L1250.5,2823.9 L1252.5,2824.0 L1254.5,2824.0 L1256.5,2824.1 L1258.5,2824.1 L1260.5,2824.1 L1262.5,2824.2 L1264.4,2824.2 L1266.4,2824.3 L1268.4,2824.3 L1270.4,2824.3 L1272.4,2824.4 L1274.4,2824.4 L1276.4,2824.4 L1278.4,2824.5 L1280.4,2824.5 L1282.3,2824.5 L1284.3,2824.6 L1286.3,2824.6 L1288.3,2824.6 L1290.3,2824.6 L1292.3,2824.7 L1294.3,2824.7 L1296.3,2824.7 L1298.3,2824.7 L1300.3,2824.8 L1302.2,2824.8 L1304.2,2824.8 L1306.2,2824.8 L1308.2,2824.9 L1310.2,2824.9 L1312.2,2824.9 L1314.2,2824.9 L1316.2,2825.0 L1318.2,2825.0 L1320.2,2825.0 L1322.2,2825.0 L1324.2,2825.0 L1326.2,2825.0 L1328.2,2825.1 L1330.1,2825.1 L1332.1,2825.1 L1334.1,2825.1 L1336.1,2825.1 L1338.1,2825.1 L1340.1,2825.1 L1342.1,2825.2 L1344.1,2825.2 L1346.1,2825.2 L1348.1,2825.2 L1350.1,2825.2 L1352.1,2825.2 L1354.1,2825.2 L1356.1,2825.2 L1358.1,2825.2 L1360.1,2825.2 L1362.1,2825.2 L1364.1,2825.3 L1366.1,2825.3 L1368.1,2825.3 L1370.1,2825.3 L1372.1,2825.3 L1374.0,2825.3 L1376.0,2825.3 L1378.0,2825.3 L1380.0,2825.3 L1382.0,2825.3 L1384.0,2825.3 L1386.0,2825.3 L1388.0,2825.3 L1390.0,2825.3 L1392.0,2825.3 L1394.0,2825.3 L1396.0,2825.3 L1398.0,2825.3 L1400.0,2825.3 L1402.0,2825.3 L1404.0,2825.3 L1406.0,2825.3 L1408.0,2825.3 L1410.0,2825.2 L1412.0,2825.2 L1414.0,2825.2 L1416.0,2825.2 L1418.0,2825.2 L1420.0,2825.2 L1422.0,2825.2 L1424.0,2825.2 L1426.0,2825.2 L1428.0,2825.2 L1430.0,2825.2 L1432.0,2825.2 L1434.0,2825.1 L1436.0,2825.1 L1438.0,2825.1 L1440.0,2825.1 L1442.0,2825.1 L1444.0,2825.1 L1446.0,2825.1 L1448.0,2825.0 L1450.0,2825.0 L1452.0,2825.0 L1454.0,2825.0 L1456.0,2825.0 L1458.0,2825.0 L1460.0,2825.0 L1462.0,2824.9 L1464.0,2824.9 L1466.0,2824.9 L1468.0,2824.9 L1470.0,2824.9 L1472.0,2824.8 L1474.1,2824.8 L1476.1,2824.8 L1478.1,2824.8 L1480.1,2824.8 L1482.1,2824.7 L1484.1,2824.7 L1486.1,2824.7 L1488.1,2824.7 L1490.1,2824.7 L1492.1,2824.6 L1494.1,2824.6 L1496.1,2824.6 L1498.1,2824.6 L1500.1,2824.5 L1502.1,2824.5 L1504.1,2824.5 L1506.1,2824.5 L1508.1,2824.4 L1510.1,2824.4 L1512.1,2824.4 L1514.1,2824.4 L1516.1,2824.3 L1518.1,2824.3 L1520.1,2824.3 L1522.1,2824.2 L1524.1,2824.2 L1526.1,2824.2 L1528.1,2824.2 L1530.1,2824.1 L1532.1,2824.1 L1534.1,2824.1 L1536.1,2824.0 L1538.2,2824.0 L1540.2,2824.0 L1542.2,2823.9 L1544.2,2823.9 L1546.2,2823.9 L1548.2,2823.9 L1550.2,2823.8 L1552.2,2823.8 L1554.2,2823.8 L1556.2,2823.7 L1558.2,2823.7 L1560.2,2823.7 L1562.2,2823.6 L1564.2,2823.6 L1566.2,2823.6 L1568.2,2823.5 L1570.2,2823.5 L1572.2,2823.5 L1574.2,2823.4 L1576.2,2823.4 L1578.2,2823.3 L1580.2,2823.3 L1582.2,2823.3 L1584.2,2823.2 L1586.2,2823.2 L1588.3,2823.2 L1590.3,2823.1 L1592.3,2823.1 L1594.3,2823.1 L1596.3,2823.0 L1598.3,2823.0 L1600.3,2822.9 L1602.3,2822.9 L1604.3,2822.9 L1606.3,2822.8 L1608.3,2822.8 L1610.3,2822.8 L1612.3,2822.7 L1614.3,2822.7 L1616.3,2822.6 L1618.3,2822.6 L1620.3,2822.6 L1622.3,2822.5 L1624.3,2822.5 L1626.3,2822.4 L1628.3,2822.4 L1630.3,2822.4 L1632.3,2822.3 L1634.3,2822.3 L1636.3,2822.2 L1638.3,2822.2 L1640.4,2822.2 L1642.4,2822.1 L1644.4,2822.1 L1646.4,2822.0 L1648.4,2822.0 L1650.4,2822.0 L1652.4,2821.9 L1654.4,2821.9 L1656.4,2821.8 L1658.4,2821.8 L1660.4,2821.8 L1662.4,2821.7 L1664.4,2821.7 L1666.4,2821.6 L1668.4,2821.6 L1670.4,2821.5 L1672.4,2821.5 L1674.4,2821.5 L1676.4,2821.4 L1678.4,2821.4 L1680.4,2821.3 L1682.4,2821.3 L1684.4,2821.2 L1686.4,2821.2 L1688.4,2821.2 L1690.4,2821.1 L1692.4,2821.1 L1694.4,2821.0 L1696.4,2821.0 L1698.4,2820.9 L1700.4,2820.9 L1702.4,2820.9 L1704.4,2820.8 L1706.4,2820.8 L1708.4,2820.7 L1710.4,2820.7 L1712.4,2820.6 L1714.4,2820.6 L1716.4,2820.6 L1718.4,2820.5 L1720.4,2820.5 L1722.4,2820.4 L1724.4,2820.4 L1726.4,2820.3 L1728.4,2820.3 L1730.4,2820.3 L1732.4,2820.2 L1734.4,2820.2 L1736.4,2820.1 L1738.4,2820.1 L1740.4,2820.0 L1742.4,2820.0 L1744.4,2820.0 L1746.4,2819.9 L1748.4,2819.9 L1750.4,2819.8 L1752.4,2819.8 L1754.4,2819.7 L1756.4,2819.7 L1758.4,2819.7 L1760.4,2819.6 L1762.4,2819.6 L1764.4,2819.5 L1766.4,2819.5 L1768.4,2819.5 L1770.4,2819.4 L1772.4,2819.4 L1774.4,2819.3 L1776.4,2819.3 L1778.4,2819.2 L1780.4,2819.2 L1782.4,2819.2 L1784.4,2819.1 L1786.4,2819.1 L1788.4,2819.0 L1790.4,2819.0 L1792.4,2819.0 L1794.4,2818.9 L1796.4,2818.9 L1798.4,2818.8 L1800.4,2818.8 L1802.3,2818.8 L1804.3,2818.7 L1806.3,2818.7 L1808.3,2818.6 L1810.3,2818.6 L1812.3,2818.6 L1814.3,2818.5 L1816.3,2818.5 L1818.3,2818.4 L1820.3,2818.4 L1822.3,2818.4 L1824.3,2818.3 L1826.3,2818.3 L1828.3,2818.2 L1830.3,2818.2 L1832.3,2818.2 L1834.2,2818.1 L1836.2,2818.1 L1838.2,2818.1 L1840.2,2818.0 L1842.2,2818.0 L1844.2,2817.9 L1846.2,2817.9 L1848.2,2817.9 L1850.2,2817.8 L1852.2,2817.8 L1854.2,2817.8 L1856.2,2817.7 L1858.1,2817.7 L1860.1,2817.7 L1861.9,2817.6" fill="none" stroke="#008080" stroke-width="8" stroke-linejoin="round" stroke-linecap="round"/>
</g>
<rect x="236.8" y="1891.5" width="1621.7" height="1104.1" fill="none" stroke="#000" stroke-width="8.5" stroke-linejoin="round"/>
<line x1="236.8" y1="2995.6" x2="236.8" y2="3006.75" stroke="#000" stroke-width="8.5" stroke-linecap="round"/>
<line x1="397.3" y1="2995.6" x2="397.3" y2="3016.25" stroke="#000" stroke-width="8.5" stroke-linecap="round"/>
<line x1="559.7" y1="2995.6" x2="559.7" y2="3006.75" stroke="#000" stroke-width="8.5" stroke-linecap="round"/>
<line x1="722.2" y1="2995.6" x2="722.2" y2="3016.25" stroke="#000" stroke-width="8.5" stroke-linecap="round"/>
<line x1="884.6" y1="2995.6" x2="884.6" y2="3006.75" stroke="#000" stroke-width="8.5" stroke-linecap="round"/>
<line x1="1047.1" y1="2995.6" x2="1047.1" y2="3016.25" stroke="#000" stroke-width="8.5" stroke-linecap="round"/>
<line x1="1209.5" y1="2995.6" x2="1209.5" y2="3006.75" stroke="#000" stroke-width="8.5" stroke-linecap="round"/>
<line x1="1371.9" y1="2995.6" x2="1371.9" y2="3016.25" stroke="#000" stroke-width="8.5" stroke-linecap="round"/>
<line x1="1534.4" y1="2995.6" x2="1534.4" y2="3006.75" stroke="#000" stroke-width="8.5" stroke-linecap="round"/>
<line x1="1696.8" y1="2995.6" x2="1696.8" y2="3016.25" stroke="#000" stroke-width="8.5" stroke-linecap="round"/>
<line x1="1858.5" y1="2995.6" x2="1858.5" y2="3006.75" stroke="#000" stroke-width="8.5" stroke-linecap="round"/>
<rect x="1296.5" y="1950.8" width="370.5" height="335.7" fill="#fff" stroke="#3a3a3a" stroke-width="2"/>
<line x1="1323.9" y1="2010.4" x2="1479.6" y2="2005.7" stroke="#008080" stroke-width="8" stroke-linecap="round"/>
<line x1="1321" y1="2108.9" x2="1481.8" y2="2108.9" stroke="#0000ff" stroke-width="8" stroke-linecap="round"/>
<line x1="1321" y1="2228.4" x2="1481.8" y2="2228.4" stroke="#ff00ff" stroke-width="8" stroke-linecap="round"/>
<rect x="31.75" y="38.5" width="1932.75" height="3225.5" fill="none" stroke="#0000ff" stroke-width="10.5" stroke-linejoin="round"/>
<line x1="31.75" y1="1528.3" x2="1964.5" y2="1528.3" stroke="#0000ff" stroke-width="9.5"/>
<text x="393.30" y="1382.50" text-anchor="middle" style="font-family:&quot;Liberation Sans&quot;, Arial, sans-serif;font-weight:bold;font-size:50.00px">396</text>
<text x="712.90" y="1382.50" text-anchor="middle" style="font-family:&quot;Liberation Sans&quot;, Arial, sans-serif;font-weight:bold;font-size:50.00px">398</text>
<text x="1032.50" y="1382.50" text-anchor="middle" style="font-family:&quot;Liberation Sans&quot;, Arial, sans-serif;font-weight:bold;font-size:50.00px">400</text>
<text x="1352.10" y="1382.50" text-anchor="middle" style="font-family:&quot;Liberation Sans&quot;, Arial, sans-serif;font-weight:bold;font-size:50.00px">402</text>
<text x="1671.70" y="1382.50" text-anchor="middle" style="font-family:&quot;Liberation Sans&quot;, Arial, sans-serif;font-weight:bold;font-size:50.00px">404</text>
<text x="1496.99" y="274.30" style="font-family:&quot;Liberation Sans&quot;, Arial, sans-serif;font-weight:bold;font-size:55.80px" textLength="116.43" lengthAdjust="spacingAndGlyphs">-NH-</text>
<text x="1508.97" y="344.70" style="font-family:&quot;Liberation Sans&quot;, Arial, sans-serif;font-weight:bold;font-size:55.10px" textLength="94.51" lengthAdjust="spacingAndGlyphs">-NH</text>
<text x="1603.00" y="364.50" style="font-family:&quot;Liberation Sans&quot;, Arial, sans-serif;font-weight:bold;font-size:53.40px" textLength="30.24" lengthAdjust="spacingAndGlyphs">2</text>
<text x="1522.49" y="468.20" style="font-family:&quot;Liberation Sans&quot;, Arial, sans-serif;font-weight:bold;font-size:55.10px" textLength="98.23" lengthAdjust="spacingAndGlyphs">-NH</text>
<text x="1620.58" y="487.50" style="font-family:&quot;Liberation Sans&quot;, Arial, sans-serif;font-weight:bold;font-size:52.70px" textLength="29.32" lengthAdjust="spacingAndGlyphs">3</text>
<text x="1649.38" y="439.40" style="font-family:&quot;Liberation Sans&quot;, Arial, sans-serif;font-weight:bold;font-size:51.20px" textLength="30.99" lengthAdjust="spacingAndGlyphs">+</text>
<text x="280.37" y="231.40" style="font-family:&quot;Liberation Sans&quot;, Arial, sans-serif;font-weight:bold;font-size:65.00px" textLength="45.90" lengthAdjust="spacingAndGlyphs">N</text>
<text x="327.96" y="231.40" style="font-family:&quot;Liberation Sans&quot;, Arial, sans-serif;font-weight:bold;font-size:54.50px" textLength="467.88" lengthAdjust="spacingAndGlyphs">1S of PpPD-Pt-MW</text>
<text x="785.02" y="1478.70" style="font-family:&quot;Liberation Sans&quot;, Arial, sans-serif;font-weight:bold;font-size:53.20px" textLength="496.26" lengthAdjust="spacingAndGlyphs">Binding Energy(eV)</text>
<text transform="translate(126.70,918.00) rotate(-90)" x="-2.34" y="0" style="font-family:&quot;Liberation Serif&quot;, &quot;Times New Roman&quot;, serif;font-weight:bold;font-size:65.70px" textLength="400.68" lengthAdjust="spacingAndGlyphs">Intensity(a.u.)</text>
<text x="355.44" y="3066.30" style="font-family:&quot;Liberation Sans&quot;, Arial, sans-serif;font-weight:bold;font-size:48.50px" textLength="84.41" lengthAdjust="spacingAndGlyphs">396</text>
<text x="680.32" y="3066.30" style="font-family:&quot;Liberation Sans&quot;, Arial, sans-serif;font-weight:bold;font-size:48.50px" textLength="83.89" lengthAdjust="spacingAndGlyphs">398</text>
<text x="1005.71" y="3066.30" style="font-family:&quot;Liberation Sans&quot;, Arial, sans-serif;font-weight:bold;font-size:48.50px" textLength="83.89" lengthAdjust="spacingAndGlyphs">400</text>
<text x="1330.59" y="3066.30" style="font-family:&quot;Liberation Sans&quot;, Arial, sans-serif;font-weight:bold;font-size:48.50px" textLength="83.89" lengthAdjust="spacingAndGlyphs">402</text>
<text x="1655.48" y="3066.30" style="font-family:&quot;Liberation Sans&quot;, Arial, sans-serif;font-weight:bold;font-size:48.50px" textLength="82.11" lengthAdjust="spacingAndGlyphs">404</text>
<text x="1500.25" y="2048.20" style="font-family:&quot;Liberation Sans&quot;, Arial, sans-serif;font-weight:normal;font-size:58.00px" textLength="25.55" lengthAdjust="spacingAndGlyphs">-</text>
<text x="1523.23" y="2047.60" style="font-family:&quot;Liberation Sans&quot;, Arial, sans-serif;font-weight:normal;font-size:57.50px;stroke:#000;stroke-width:1.3px;stroke-linejoin:round" textLength="89.81" lengthAdjust="spacingAndGlyphs">NH</text>
<text x="1610.46" y="2048.20" style="font-family:&quot;Liberation Sans&quot;, Arial, sans-serif;font-weight:normal;font-size:58.00px" textLength="24.74" lengthAdjust="spacingAndGlyphs">-</text>
<text x="1502.36" y="2131.50" style="font-family:&quot;Liberation Sans&quot;, Arial, sans-serif;font-weight:bold;font-size:58.00px" textLength="25.34" lengthAdjust="spacingAndGlyphs">-</text>
<text x="1525.03" y="2130.90" style="font-family:&quot;Liberation Sans&quot;, Arial, sans-serif;font-weight:normal;font-size:57.50px;stroke:#000;stroke-width:1.3px;stroke-linejoin:round" textLength="89.70" lengthAdjust="spacingAndGlyphs">NH</text>
<text x="1612.08" y="2158.30" style="font-family:&quot;Liberation Sans&quot;, Arial, sans-serif;font-weight:normal;font-size:37.60px" textLength="25.79" lengthAdjust="spacingAndGlyphs">2</text>
<text x="1496.87" y="2250.70" style="font-family:&quot;Liberation Sans&quot;, Arial, sans-serif;font-weight:normal;font-size:58.00px" textLength="25.42" lengthAdjust="spacingAndGlyphs">-</text>
<text x="1519.43" y="2250.10" style="font-family:&quot;Liberation Sans&quot;, Arial, sans-serif;font-weight:normal;font-size:57.50px;stroke:#000;stroke-width:1.3px;stroke-linejoin:round" textLength="89.70" lengthAdjust="spacingAndGlyphs">NH</text>
<text x="1609.71" y="2276.30" style="font-family:&quot;Liberation Sans&quot;, Arial, sans-serif;font-weight:normal;font-size:33.10px" textLength="23.55" lengthAdjust="spacingAndGlyphs">3</text>
<text x="1630.38" y="2212.70" style="font-family:&quot;Liberation Sans&quot;, Arial, sans-serif;font-weight:normal;font-size:34.50px" textLength="24.80" lengthAdjust="spacingAndGlyphs">+</text>
<text x="313.71" y="1994.00" style="font-family:&quot;Liberation Sans&quot;, Arial, sans-serif;font-weight:normal;font-size:61.30px" textLength="45.91" lengthAdjust="spacingAndGlyphs">N</text>
<text x="358.64" y="2000.10" style="font-family:&quot;Liberation Sans&quot;, Arial, sans-serif;font-weight:normal;font-size:38.70px" textLength="48.26" lengthAdjust="spacingAndGlyphs">1S</text>
<text x="422.03" y="1994.00" style="font-family:&quot;Liberation Sans&quot;, Arial, sans-serif;font-weight:normal;font-size:61.30px" textLength="586.34" lengthAdjust="spacingAndGlyphs">of PpPD/XC72-Pt-MW</text>
<text x="776.55" y="3165.40" style="font-family:&quot;Liberation Serif&quot;, &quot;Times New Roman&quot;, serif;font-weight:bold;font-size:59.40px" textLength="542.94" lengthAdjust="spacingAndGlyphs">Binding energy (eV)</text>
<text transform="translate(145.30,2645.90) rotate(-90)" x="-2.41" y="0" style="font-family:&quot;Liberation Serif&quot;, &quot;Times New Roman&quot;, serif;font-weight:bold;font-size:70.50px" textLength="448.05" lengthAdjust="spacingAndGlyphs">Intensity (a. u.)</text>
<text x="95.03" y="174.50" style="font-family:&quot;Liberation Serif&quot;, &quot;Times New Roman&quot;, serif;font-weight:bold;font-size:101px">(</text>
<text x="129.29" y="174.50" style="font-family:&quot;Liberation Serif&quot;, &quot;Times New Roman&quot;, serif;font-weight:bold;font-size:101px">a</text>
<text x="179.44" y="174.50" style="font-family:&quot;Liberation Serif&quot;, &quot;Times New Roman&quot;, serif;font-weight:bold;font-size:101px">)</text>
<text x="111.34" y="1638.00" style="font-family:&quot;Liberation Serif&quot;, &quot;Times New Roman&quot;, serif;font-weight:bold;font-size:96px">(</text>
<text x="148.41" y="1638.00" style="font-family:&quot;Liberation Serif&quot;, &quot;Times New Roman&quot;, serif;font-weight:bold;font-size:96px">b</text>
<text x="202.44" y="1638.00" style="font-family:&quot;Liberation Serif&quot;, &quot;Times New Roman&quot;, serif;font-weight:bold;font-size:96px">)</text>
</svg>
</body></html>
